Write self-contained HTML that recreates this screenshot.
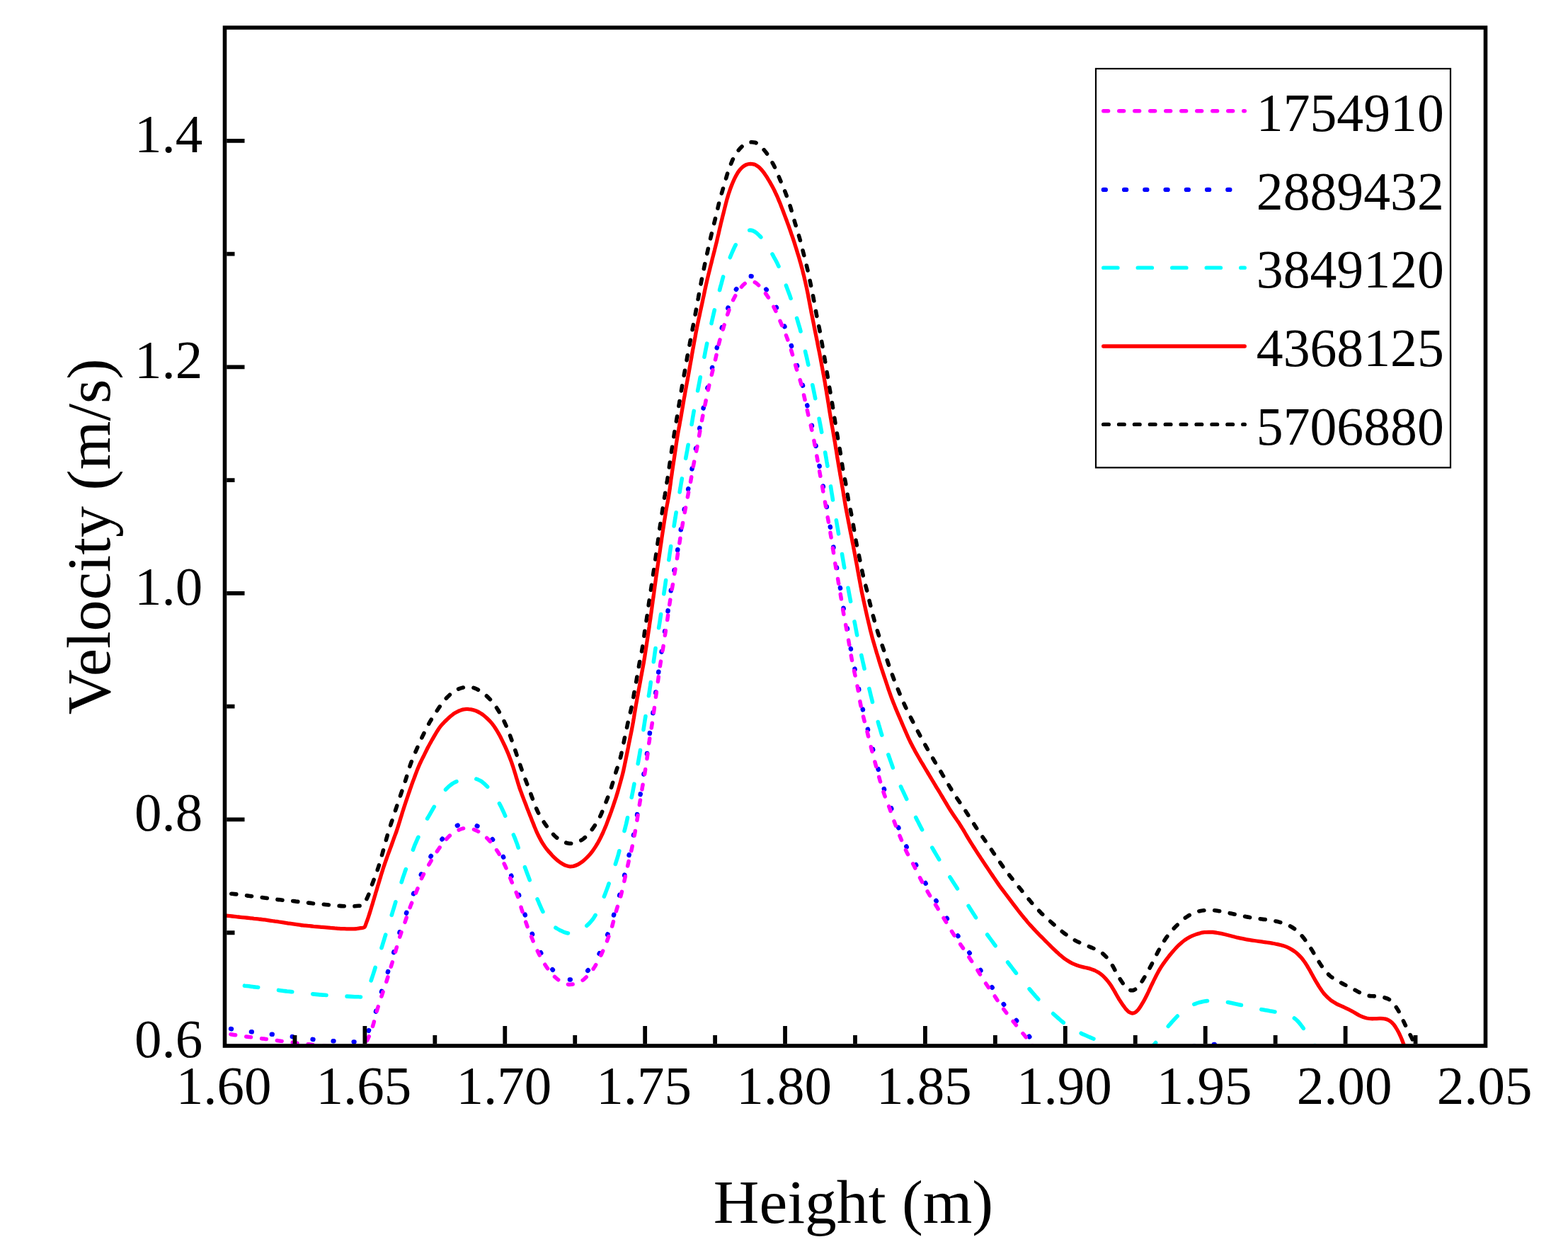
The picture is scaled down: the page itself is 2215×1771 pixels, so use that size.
<!DOCTYPE html>
<html><head><meta charset="utf-8"><title>Velocity vs Height</title>
<style>html,body{margin:0;padding:0;background:#fff;width:2215px;height:1771px;overflow:hidden}svg{display:block}</style>
</head><body>
<svg width="2215" height="1771" viewBox="0 0 2215 1771">
<rect width="2215" height="1771" fill="#fff"/>
<defs><clipPath id="pc"><rect x="317.5" y="39.0" width="1781.0" height="1438.0"/></clipPath></defs>
<g clip-path="url(#pc)" fill="none" stroke-linejoin="round">
<path d="M316.0,1261.4 C317.0,1261.5 320.0,1261.7 322.0,1261.8 C324.0,1262.0 326.0,1262.1 328.0,1262.3 C330.0,1262.5 331.9,1262.7 333.9,1262.9 C335.9,1263.2 337.9,1263.4 339.9,1263.7 C341.9,1263.9 343.8,1264.2 345.8,1264.5 C347.8,1264.7 349.8,1265.0 351.8,1265.2 C353.8,1265.5 355.7,1265.7 357.7,1266.0 C359.7,1266.2 361.7,1266.5 363.7,1266.7 C365.7,1266.9 367.7,1267.2 369.6,1267.4 C371.6,1267.7 373.6,1268.0 375.6,1268.2 C377.6,1268.5 379.5,1268.8 381.5,1269.1 C383.5,1269.3 385.5,1269.6 387.5,1269.9 C389.5,1270.1 391.4,1270.4 393.4,1270.6 C395.4,1270.9 397.4,1271.1 399.4,1271.3 C401.4,1271.5 403.4,1271.6 405.4,1271.8 C407.4,1272.0 409.3,1272.2 411.3,1272.3 C413.3,1272.5 415.3,1272.7 417.3,1272.9 C419.3,1273.2 421.3,1273.4 423.3,1273.6 C425.3,1273.9 427.2,1274.1 429.2,1274.4 C431.2,1274.6 433.2,1274.9 435.2,1275.1 C437.2,1275.3 439.1,1275.5 441.1,1275.8 C443.1,1276.0 445.1,1276.2 447.1,1276.4 C449.1,1276.6 451.1,1276.8 453.1,1276.9 C455.1,1277.1 457.1,1277.3 459.1,1277.5 C461.0,1277.7 463.0,1277.9 465.0,1278.1 C467.0,1278.3 469.0,1278.5 471.0,1278.6 C473.0,1278.8 475.0,1279.0 477.0,1279.2 C479.0,1279.3 481.0,1279.5 483.0,1279.6 C485.0,1279.7 487.0,1279.7 488.9,1279.8 C490.9,1279.9 493.0,1279.9 494.9,1279.9 C496.9,1279.9 498.9,1279.9 500.9,1279.8 C502.8,1279.7 504.8,1279.5 506.6,1279.3 C508.5,1279.1 510.5,1279.4 512.0,1278.5 C513.5,1277.6 514.5,1275.4 515.5,1273.7 C516.6,1272.1 517.6,1270.4 518.5,1268.6 C519.4,1266.9 520.1,1265.0 520.8,1263.2 C521.5,1261.3 522.1,1259.4 522.7,1257.5 C523.4,1255.6 524.0,1253.7 524.6,1251.8 C525.3,1249.9 526.0,1248.1 526.7,1246.2 C527.4,1244.3 528.1,1242.4 528.8,1240.6 C529.5,1238.7 530.2,1236.8 530.9,1235.0 C531.6,1233.1 532.3,1231.2 533.0,1229.3 C533.6,1227.4 534.3,1225.5 534.9,1223.6 C535.5,1221.7 536.0,1219.8 536.6,1217.9 C537.2,1216.0 537.7,1214.0 538.2,1212.1 C538.8,1210.2 539.3,1208.3 539.9,1206.3 C540.4,1204.4 541.0,1202.5 541.5,1200.6 C542.0,1198.6 542.5,1196.7 543.1,1194.8 C543.6,1192.9 544.1,1190.9 544.7,1189.0 C545.2,1187.1 545.7,1185.1 546.3,1183.2 C546.8,1181.3 547.3,1179.4 547.9,1177.4 C548.5,1175.5 549.1,1173.6 549.6,1171.7 C550.2,1169.8 550.9,1167.9 551.5,1166.0 C552.1,1164.1 552.7,1162.2 553.4,1160.3 C554.0,1158.4 554.6,1156.5 555.3,1154.6 C555.9,1152.7 556.5,1150.8 557.1,1148.9 C557.8,1147.0 558.4,1145.1 559.0,1143.2 C559.7,1141.3 560.3,1139.4 560.9,1137.5 C561.6,1135.6 562.2,1133.7 562.8,1131.8 C563.5,1129.9 564.1,1128.0 564.8,1126.1 C565.4,1124.2 566.0,1122.4 566.7,1120.5 C567.3,1118.6 568.0,1116.7 568.6,1114.8 C569.2,1112.9 569.9,1111.0 570.5,1109.1 C571.2,1107.2 571.8,1105.3 572.4,1103.4 C573.0,1101.5 573.6,1099.6 574.2,1097.7 C574.8,1095.8 575.3,1093.8 575.9,1091.9 C576.5,1090.0 577.0,1088.1 577.6,1086.2 C578.2,1084.3 578.8,1082.4 579.5,1080.5 C580.2,1078.6 580.9,1076.7 581.6,1074.9 C582.3,1073.0 583.1,1071.2 583.8,1069.3 C584.6,1067.5 585.4,1065.6 586.2,1063.8 C586.9,1061.9 587.7,1060.1 588.5,1058.3 C589.3,1056.4 590.1,1054.6 590.9,1052.8 C591.8,1050.9 592.6,1049.1 593.4,1047.3 C594.2,1045.5 595.1,1043.7 595.9,1041.9 C596.8,1040.0 597.6,1038.2 598.5,1036.4 C599.4,1034.6 600.3,1032.8 601.2,1031.1 C602.1,1029.3 602.9,1027.5 603.9,1025.7 C604.8,1023.9 605.8,1022.2 606.7,1020.5 C607.7,1018.7 608.8,1017.0 609.8,1015.3 C610.9,1013.6 612.0,1011.9 613.0,1010.2 C614.1,1008.6 615.2,1006.9 616.3,1005.2 C617.4,1003.5 618.5,1001.9 619.6,1000.2 C620.7,998.6 621.9,996.9 623.0,995.3 C624.2,993.6 625.3,992.0 626.6,990.5 C627.8,988.9 629.1,987.4 630.5,986.0 C631.9,984.5 633.3,983.2 634.8,981.8 C636.2,980.5 637.7,979.1 639.3,977.9 C640.8,976.7 642.4,975.6 644.1,974.6 C645.8,973.7 647.6,973.0 649.5,972.3 C651.3,971.7 653.2,971.2 655.2,970.8 C657.1,970.4 659.0,970.0 660.9,970.0 C662.8,970.0 664.7,970.1 666.5,970.5 C668.4,971.0 670.2,971.7 672.0,972.5 C673.8,973.3 675.5,974.2 677.2,975.2 C678.9,976.2 680.6,977.3 682.2,978.5 C683.7,979.7 685.3,981.0 686.8,982.3 C688.2,983.6 689.7,985.0 691.1,986.4 C692.5,987.8 693.9,989.3 695.2,990.8 C696.5,992.3 697.6,993.9 698.8,995.5 C700.0,997.1 701.0,998.8 702.1,1000.5 C703.2,1002.2 704.3,1003.8 705.3,1005.6 C706.3,1007.3 707.3,1009.0 708.2,1010.8 C709.2,1012.5 710.0,1014.3 710.9,1016.1 C711.8,1017.9 712.6,1019.8 713.4,1021.6 C714.3,1023.4 715.1,1025.2 715.9,1027.0 C716.7,1028.9 717.4,1030.7 718.2,1032.6 C718.9,1034.4 719.6,1036.3 720.3,1038.2 C721.0,1040.1 721.7,1042.0 722.3,1043.8 C723.0,1045.7 723.7,1047.6 724.4,1049.5 C725.0,1051.4 725.7,1053.3 726.3,1055.2 C727.0,1057.1 727.6,1059.0 728.2,1060.8 C728.9,1062.7 729.5,1064.6 730.1,1066.5 C730.8,1068.4 731.4,1070.3 732.0,1072.2 C732.7,1074.1 733.3,1076.0 734.0,1077.9 C734.6,1079.8 735.2,1081.7 735.9,1083.6 C736.5,1085.5 737.2,1087.4 737.8,1089.3 C738.5,1091.1 739.2,1093.0 739.9,1094.9 C740.6,1096.8 741.3,1098.6 742.0,1100.5 C742.8,1102.4 743.5,1104.2 744.2,1106.1 C744.9,1108.0 745.6,1109.8 746.3,1111.7 C747.0,1113.6 747.7,1115.5 748.4,1117.3 C749.1,1119.2 749.8,1121.1 750.4,1123.0 C751.1,1124.9 751.8,1126.7 752.5,1128.6 C753.2,1130.5 753.9,1132.4 754.6,1134.2 C755.3,1136.1 756.1,1138.0 756.8,1139.8 C757.6,1141.7 758.3,1143.5 759.2,1145.3 C760.0,1147.1 760.9,1148.9 761.9,1150.6 C762.9,1152.4 763.9,1154.1 764.9,1155.8 C766.0,1157.5 767.0,1159.2 768.1,1160.8 C769.2,1162.5 770.3,1164.2 771.5,1165.8 C772.7,1167.4 773.9,1169.0 775.1,1170.6 C776.3,1172.2 777.6,1173.7 778.9,1175.2 C780.2,1176.8 781.5,1178.3 782.8,1179.7 C784.2,1181.1 785.7,1182.4 787.2,1183.6 C788.8,1184.8 790.5,1185.8 792.2,1186.8 C793.9,1187.8 795.7,1188.7 797.5,1189.4 C799.2,1190.1 801.1,1190.8 802.9,1191.0 C804.7,1191.3 806.6,1191.3 808.5,1191.0 C810.3,1190.8 812.3,1190.3 814.1,1189.7 C815.9,1189.1 817.8,1188.4 819.5,1187.5 C821.3,1186.6 822.9,1185.6 824.4,1184.4 C826.0,1183.2 827.3,1181.8 828.7,1180.4 C830.1,1179.0 831.4,1177.5 832.7,1175.9 C834.0,1174.4 835.3,1172.9 836.5,1171.3 C837.6,1169.7 838.8,1168.0 839.9,1166.4 C841.0,1164.7 842.0,1163.0 843.1,1161.3 C844.1,1159.6 845.1,1157.9 846.1,1156.1 C847.0,1154.4 847.9,1152.6 848.8,1150.8 C849.6,1149.0 850.4,1147.1 851.1,1145.3 C851.9,1143.4 852.6,1141.6 853.3,1139.7 C854.1,1137.8 854.8,1136.0 855.5,1134.1 C856.2,1132.3 857.0,1130.4 857.7,1128.5 C858.4,1126.6 859.1,1124.8 859.8,1122.9 C860.5,1121.0 861.1,1119.1 861.8,1117.3 C862.5,1115.4 863.1,1113.5 863.7,1111.6 C864.3,1109.7 864.9,1107.8 865.5,1105.8 C866.1,1103.9 866.6,1102.0 867.2,1100.1 C867.7,1098.2 868.3,1096.2 868.9,1094.3 C869.4,1092.4 870.0,1090.5 870.6,1088.6 C871.2,1086.7 871.9,1084.8 872.5,1082.9 C873.1,1081.0 873.7,1079.1 874.3,1077.2 C874.9,1075.3 875.5,1073.4 876.0,1071.4 C876.6,1069.5 877.0,1067.6 877.5,1065.6 C877.9,1063.7 878.3,1061.7 878.8,1059.8 C879.2,1057.8 879.6,1055.9 880.0,1053.9 C880.4,1051.9 880.8,1050.0 881.2,1048.0 C881.6,1046.1 882.0,1044.1 882.4,1042.1 C882.8,1040.2 883.2,1038.2 883.7,1036.3 C884.1,1034.3 884.5,1032.4 884.9,1030.4 C885.3,1028.5 885.8,1026.5 886.2,1024.5 C886.6,1022.6 887.0,1020.6 887.5,1018.7 C887.9,1016.7 888.4,1014.8 888.9,1012.8 C889.3,1010.9 889.8,1009.0 890.2,1007.0 C890.7,1005.1 891.1,1003.1 891.6,1001.2 C892.0,999.2 892.4,997.2 892.8,995.3 C893.2,993.3 893.5,991.4 893.9,989.4 C894.3,987.4 894.6,985.5 895.0,983.5 C895.3,981.5 895.7,979.5 896.0,977.6 C896.4,975.6 896.7,973.6 897.1,971.7 C897.4,969.7 897.8,967.7 898.1,965.8 C898.5,963.8 898.9,961.8 899.2,959.9 C899.5,957.9 899.9,955.9 900.2,954.0 C900.6,952.0 900.9,950.0 901.2,948.0 C901.6,946.1 901.9,944.1 902.3,942.1 C902.6,940.2 902.9,938.2 903.3,936.2 C903.7,934.3 904.0,932.3 904.4,930.3 C904.8,928.4 905.2,926.4 905.6,924.4 C906.0,922.5 906.4,920.5 906.8,918.6 C907.1,916.6 907.5,914.6 907.8,912.7 C908.2,910.7 908.5,908.7 908.7,906.7 C909.0,904.8 909.3,902.8 909.6,900.8 C909.8,898.8 910.1,896.8 910.3,894.8 C910.6,892.9 910.9,890.9 911.2,888.9 C911.5,886.9 911.8,884.9 912.1,883.0 C912.4,881.0 912.7,879.0 913.0,877.0 C913.3,875.1 913.7,873.1 913.9,871.1 C914.2,869.1 914.5,867.2 914.8,865.2 C915.1,863.2 915.4,861.2 915.6,859.2 C915.9,857.2 916.2,855.3 916.4,853.3 C916.7,851.3 917.0,849.3 917.3,847.3 C917.5,845.4 917.8,843.4 918.1,841.4 C918.4,839.4 918.8,837.5 919.1,835.5 C919.4,833.5 919.7,831.5 920.0,829.6 C920.3,827.6 920.6,825.6 920.9,823.6 C921.2,821.6 921.5,819.7 921.8,817.7 C922.1,815.7 922.4,813.7 922.6,811.7 C922.9,809.8 923.2,807.8 923.5,805.8 C923.8,803.8 924.1,801.9 924.3,799.9 C924.6,797.9 924.9,795.9 925.2,793.9 C925.5,792.0 925.8,790.0 926.1,788.0 C926.4,786.0 926.7,784.0 926.9,782.1 C927.2,780.1 927.5,778.1 927.8,776.1 C928.1,774.1 928.4,772.2 928.6,770.2 C928.9,768.2 929.2,766.2 929.5,764.2 C929.7,762.3 930.0,760.3 930.3,758.3 C930.6,756.3 930.9,754.3 931.1,752.4 C931.4,750.4 931.7,748.4 931.9,746.4 C932.2,744.4 932.5,742.4 932.8,740.5 C933.1,738.5 933.4,736.5 933.7,734.5 C934.0,732.6 934.3,730.6 934.6,728.6 C934.9,726.6 935.2,724.6 935.5,722.7 C935.8,720.7 936.1,718.7 936.4,716.7 C936.7,714.8 937.0,712.8 937.4,710.8 C937.7,708.8 938.0,706.9 938.3,704.9 C938.6,702.9 938.9,700.9 939.3,699.0 C939.6,697.0 939.9,695.0 940.2,693.0 C940.5,691.1 940.9,689.1 941.2,687.1 C941.5,685.2 941.8,683.2 942.1,681.2 C942.5,679.2 942.8,677.3 943.1,675.3 C943.4,673.3 943.7,671.3 944.0,669.3 C944.3,667.4 944.6,665.4 944.9,663.4 C945.2,661.4 945.4,659.5 945.7,657.5 C946.0,655.5 946.3,653.5 946.6,651.5 C946.9,649.6 947.2,647.6 947.4,645.6 C947.7,643.6 948.0,641.6 948.3,639.7 C948.6,637.7 948.9,635.7 949.2,633.7 C949.5,631.7 949.8,629.8 950.1,627.8 C950.4,625.8 950.7,623.8 951.0,621.9 C951.4,619.9 951.7,617.9 952.0,615.9 C952.3,614.0 952.6,612.0 952.9,610.0 C953.3,608.0 953.6,606.1 953.9,604.1 C954.2,602.1 954.5,600.1 954.9,598.2 C955.2,596.2 955.5,594.2 955.8,592.3 C956.2,590.3 956.5,588.3 956.8,586.3 C957.1,584.4 957.4,582.4 957.8,580.4 C958.1,578.4 958.4,576.5 958.7,574.5 C959.0,572.5 959.4,570.5 959.7,568.6 C960.0,566.6 960.3,564.6 960.6,562.6 C961.0,560.7 961.3,558.7 961.6,556.7 C962.0,554.8 962.3,552.8 962.6,550.8 C963.0,548.8 963.3,546.9 963.6,544.9 C964.0,542.9 964.3,541.0 964.7,539.0 C965.0,537.0 965.4,535.0 965.7,533.1 C966.1,531.1 966.4,529.1 966.8,527.2 C967.1,525.2 967.5,523.2 967.8,521.3 C968.2,519.3 968.5,517.3 968.9,515.4 C969.2,513.4 969.6,511.4 969.9,509.4 C970.3,507.5 970.6,505.5 970.9,503.5 C971.3,501.6 971.7,499.6 972.0,497.6 C972.4,495.7 972.8,493.7 973.1,491.7 C973.5,489.8 973.9,487.8 974.3,485.8 C974.6,483.9 975.0,481.9 975.4,479.9 C975.8,478.0 976.1,476.0 976.5,474.1 C976.9,472.1 977.2,470.1 977.6,468.2 C978.0,466.2 978.3,464.2 978.7,462.3 C979.1,460.3 979.5,458.3 979.8,456.4 C980.2,454.4 980.6,452.4 980.9,450.5 C981.3,448.5 981.7,446.5 982.1,444.6 C982.4,442.6 982.8,440.6 983.2,438.7 C983.5,436.7 983.9,434.7 984.2,432.8 C984.6,430.8 985.0,428.8 985.3,426.9 C985.7,424.9 986.0,422.9 986.4,421.0 C986.7,419.0 987.1,417.0 987.4,415.1 C987.8,413.1 988.1,411.1 988.5,409.2 C988.9,407.2 989.2,405.2 989.6,403.3 C990.0,401.3 990.4,399.3 990.7,397.4 C991.1,395.4 991.5,393.4 991.9,391.5 C992.3,389.5 992.7,387.6 993.1,385.6 C993.5,383.6 993.9,381.7 994.3,379.7 C994.7,377.8 995.1,375.8 995.5,373.8 C995.9,371.9 996.4,369.9 996.8,368.0 C997.2,366.0 997.6,364.1 998.0,362.1 C998.4,360.2 998.8,358.2 999.3,356.2 C999.7,354.3 1000.1,352.3 1000.5,350.4 C1000.9,348.4 1001.4,346.5 1001.8,344.5 C1002.3,342.6 1002.7,340.6 1003.2,338.7 C1003.6,336.7 1004.1,334.8 1004.6,332.8 C1005.0,330.9 1005.5,328.9 1006.0,327.0 C1006.4,325.1 1006.9,323.1 1007.4,321.2 C1007.9,319.2 1008.3,317.3 1008.8,315.3 C1009.3,313.4 1009.8,311.5 1010.3,309.5 C1010.7,307.6 1011.2,305.6 1011.7,303.7 C1012.1,301.7 1012.6,299.8 1013.1,297.9 C1013.5,295.9 1014.0,294.0 1014.4,292.0 C1014.9,290.1 1015.3,288.1 1015.8,286.2 C1016.3,284.2 1016.8,282.3 1017.3,280.4 C1017.9,278.4 1018.4,276.5 1019.0,274.6 C1019.5,272.7 1020.1,270.8 1020.7,268.8 C1021.2,266.9 1021.8,265.0 1022.4,263.1 C1022.9,261.2 1023.5,259.3 1024.0,257.3 C1024.6,255.4 1025.1,253.5 1025.7,251.6 C1026.3,249.6 1026.8,247.7 1027.4,245.8 C1028.0,243.9 1028.6,242.0 1029.2,240.1 C1029.9,238.2 1030.6,236.4 1031.3,234.5 C1032.0,232.6 1032.8,230.8 1033.6,228.9 C1034.3,227.1 1035.1,225.3 1036.0,223.5 C1036.9,221.7 1037.8,220.0 1038.9,218.3 C1039.9,216.6 1041.1,215.0 1042.3,213.4 C1043.5,211.9 1044.8,210.3 1046.1,208.9 C1047.5,207.5 1048.9,206.1 1050.4,204.9 C1051.9,203.8 1053.6,202.8 1055.4,202.2 C1057.1,201.5 1059.1,201.0 1060.9,200.8 C1062.7,200.7 1064.6,200.8 1066.4,201.3 C1068.1,201.8 1069.7,202.7 1071.3,203.7 C1072.8,204.8 1074.2,206.2 1075.6,207.6 C1076.9,209.0 1078.3,210.5 1079.5,212.0 C1080.8,213.5 1082.1,215.1 1083.2,216.7 C1084.4,218.3 1085.4,220.0 1086.5,221.7 C1087.5,223.4 1088.5,225.1 1089.5,226.9 C1090.5,228.6 1091.4,230.4 1092.4,232.2 C1093.3,233.9 1094.2,235.7 1095.0,237.5 C1095.8,239.3 1096.6,241.2 1097.4,243.0 C1098.2,244.8 1099.0,246.7 1099.8,248.5 C1100.5,250.4 1101.3,252.2 1102.1,254.1 C1102.9,255.9 1103.6,257.8 1104.4,259.6 C1105.2,261.4 1106.0,263.3 1106.7,265.1 C1107.5,267.0 1108.3,268.8 1109.0,270.7 C1109.7,272.5 1110.5,274.4 1111.1,276.3 C1111.8,278.2 1112.5,280.1 1113.1,281.9 C1113.8,283.8 1114.4,285.7 1115.0,287.6 C1115.7,289.5 1116.3,291.4 1116.9,293.3 C1117.5,295.3 1118.0,297.2 1118.6,299.1 C1119.2,301.0 1119.7,302.9 1120.3,304.9 C1120.8,306.8 1121.3,308.7 1121.9,310.6 C1122.4,312.6 1123.0,314.5 1123.5,316.4 C1124.1,318.3 1124.7,320.2 1125.2,322.1 C1125.8,324.1 1126.4,326.0 1127.0,327.9 C1127.6,329.8 1128.2,331.7 1128.7,333.6 C1129.3,335.5 1129.8,337.5 1130.4,339.4 C1130.9,341.3 1131.4,343.3 1131.9,345.2 C1132.4,347.1 1132.9,349.1 1133.4,351.0 C1133.9,353.0 1134.3,354.9 1134.8,356.8 C1135.3,358.8 1135.8,360.7 1136.3,362.7 C1136.8,364.6 1137.3,366.5 1137.8,368.5 C1138.2,370.4 1138.7,372.4 1139.2,374.3 C1139.7,376.2 1140.1,378.2 1140.6,380.1 C1141.1,382.1 1141.5,384.0 1141.9,386.0 C1142.4,387.9 1142.8,389.9 1143.2,391.8 C1143.6,393.8 1144.0,395.8 1144.4,397.7 C1144.8,399.7 1145.2,401.6 1145.6,403.6 C1146.0,405.6 1146.4,407.5 1146.8,409.5 C1147.2,411.4 1147.6,413.4 1148.0,415.4 C1148.4,417.3 1148.8,419.3 1149.1,421.3 C1149.5,423.2 1149.9,425.2 1150.2,427.1 C1150.6,429.1 1151.0,431.1 1151.3,433.0 C1151.7,435.0 1152.0,437.0 1152.4,439.0 C1152.8,440.9 1153.1,442.9 1153.5,444.8 C1153.9,446.8 1154.3,448.8 1154.7,450.7 C1155.1,452.7 1155.5,454.6 1155.9,456.6 C1156.3,458.6 1156.7,460.5 1157.1,462.5 C1157.5,464.4 1157.9,466.4 1158.3,468.4 C1158.6,470.3 1159.0,472.3 1159.3,474.3 C1159.7,476.2 1160.0,478.2 1160.3,480.2 C1160.7,482.2 1161.0,484.1 1161.4,486.1 C1161.7,488.1 1162.0,490.0 1162.4,492.0 C1162.7,494.0 1163.1,495.9 1163.4,497.9 C1163.8,499.9 1164.1,501.9 1164.5,503.8 C1164.8,505.8 1165.2,507.8 1165.5,509.7 C1165.9,511.7 1166.2,513.7 1166.5,515.7 C1166.8,517.6 1167.1,519.6 1167.5,521.6 C1167.8,523.5 1168.1,525.5 1168.4,527.5 C1168.7,529.5 1169.1,531.4 1169.4,533.4 C1169.7,535.4 1170.0,537.4 1170.4,539.3 C1170.7,541.3 1171.0,543.3 1171.4,545.3 C1171.7,547.2 1172.0,549.2 1172.4,551.2 C1172.7,553.1 1173.1,555.1 1173.4,557.1 C1173.7,559.1 1174.1,561.0 1174.4,563.0 C1174.8,565.0 1175.1,566.9 1175.4,568.9 C1175.8,570.9 1176.1,572.9 1176.4,574.8 C1176.8,576.8 1177.1,578.8 1177.4,580.7 C1177.7,582.7 1178.0,584.7 1178.3,586.7 C1178.6,588.7 1178.9,590.6 1179.2,592.6 C1179.5,594.6 1179.8,596.6 1180.1,598.5 C1180.4,600.5 1180.8,602.5 1181.1,604.5 C1181.4,606.4 1181.7,608.4 1182.1,610.4 C1182.4,612.4 1182.7,614.3 1183.1,616.3 C1183.4,618.3 1183.7,620.2 1184.1,622.2 C1184.4,624.2 1184.8,626.1 1185.1,628.1 C1185.5,630.1 1185.8,632.1 1186.2,634.0 C1186.5,636.0 1186.9,638.0 1187.2,639.9 C1187.5,641.9 1187.8,643.9 1188.1,645.9 C1188.4,647.8 1188.7,649.8 1189.0,651.8 C1189.3,653.8 1189.6,655.8 1189.9,657.7 C1190.2,659.7 1190.5,661.7 1190.9,663.6 C1191.3,665.6 1191.6,667.6 1192.0,669.5 C1192.4,671.5 1192.8,673.5 1193.2,675.4 C1193.6,677.4 1194.0,679.3 1194.4,681.3 C1194.7,683.3 1195.1,685.2 1195.4,687.2 C1195.8,689.2 1196.1,691.2 1196.4,693.1 C1196.7,695.1 1197.0,697.1 1197.3,699.1 C1197.6,701.0 1198.0,703.0 1198.3,705.0 C1198.7,706.9 1199.1,708.9 1199.5,710.9 C1199.8,712.8 1200.3,714.8 1200.7,716.7 C1201.1,718.7 1201.5,720.6 1201.9,722.6 C1202.3,724.6 1202.7,726.5 1203.0,728.5 C1203.4,730.5 1203.8,732.4 1204.1,734.4 C1204.5,736.4 1204.8,738.3 1205.2,740.3 C1205.5,742.3 1205.8,744.2 1206.2,746.2 C1206.5,748.2 1206.9,750.2 1207.2,752.1 C1207.5,754.1 1207.9,756.1 1208.2,758.0 C1208.5,760.0 1208.9,762.0 1209.2,764.0 C1209.6,765.9 1209.9,767.9 1210.3,769.9 C1210.7,771.8 1211.1,773.8 1211.5,775.7 C1211.9,777.7 1212.3,779.7 1212.7,781.6 C1213.2,783.6 1213.6,785.5 1214.0,787.5 C1214.4,789.4 1214.8,791.4 1215.2,793.3 C1215.6,795.3 1216.0,797.3 1216.4,799.2 C1216.8,801.2 1217.2,803.1 1217.6,805.1 C1218.0,807.1 1218.4,809.0 1218.8,811.0 C1219.3,812.9 1219.7,814.9 1220.2,816.8 C1220.6,818.8 1221.2,820.7 1221.7,822.6 C1222.1,824.6 1222.7,826.5 1223.2,828.4 C1223.7,830.4 1224.2,832.3 1224.7,834.2 C1225.1,836.2 1225.6,838.1 1226.1,840.1 C1226.6,842.0 1227.0,844.0 1227.5,845.9 C1227.9,847.9 1228.4,849.8 1228.8,851.8 C1229.3,853.7 1229.8,855.6 1230.3,857.6 C1230.7,859.5 1231.2,861.5 1231.7,863.4 C1232.2,865.3 1232.7,867.3 1233.2,869.2 C1233.7,871.1 1234.3,873.1 1234.8,875.0 C1235.3,876.9 1235.9,878.9 1236.4,880.8 C1237.0,882.7 1237.5,884.6 1238.1,886.5 C1238.7,888.5 1239.2,890.4 1239.8,892.3 C1240.4,894.2 1241.0,896.1 1241.6,898.0 C1242.2,899.9 1242.9,901.8 1243.5,903.7 C1244.2,905.6 1244.8,907.5 1245.5,909.4 C1246.1,911.3 1246.8,913.1 1247.4,915.0 C1248.1,916.9 1248.7,918.8 1249.4,920.7 C1250.0,922.6 1250.6,924.5 1251.2,926.4 C1251.9,928.3 1252.5,930.2 1253.1,932.1 C1253.8,934.0 1254.4,935.9 1255.0,937.8 C1255.7,939.7 1256.3,941.6 1257.0,943.5 C1257.7,945.4 1258.3,947.2 1259.0,949.1 C1259.7,951.0 1260.4,952.9 1261.1,954.8 C1261.8,956.6 1262.4,958.5 1263.2,960.4 C1263.9,962.2 1264.6,964.1 1265.3,966.0 C1266.1,967.8 1266.8,969.7 1267.6,971.5 C1268.4,973.4 1269.1,975.2 1269.9,977.1 C1270.7,978.9 1271.4,980.8 1272.2,982.6 C1273.0,984.4 1273.8,986.3 1274.6,988.1 C1275.4,989.9 1276.2,991.8 1277.0,993.6 C1277.8,995.4 1278.6,997.3 1279.5,999.1 C1280.3,1000.9 1281.2,1002.7 1282.1,1004.5 C1282.9,1006.3 1283.8,1008.1 1284.7,1009.9 C1285.6,1011.6 1286.6,1013.4 1287.5,1015.2 C1288.4,1017.0 1289.3,1018.8 1290.2,1020.5 C1291.1,1022.3 1292.0,1024.1 1293.0,1025.9 C1293.9,1027.6 1294.8,1029.4 1295.7,1031.2 C1296.6,1033.0 1297.5,1034.8 1298.5,1036.5 C1299.4,1038.3 1300.3,1040.1 1301.3,1041.8 C1302.2,1043.6 1303.2,1045.3 1304.2,1047.1 C1305.1,1048.8 1306.1,1050.6 1307.1,1052.3 C1308.0,1054.1 1309.0,1055.8 1310.0,1057.6 C1311.0,1059.3 1312.0,1061.0 1313.0,1062.8 C1314.0,1064.5 1315.0,1066.2 1316.0,1068.0 C1317.0,1069.7 1318.0,1071.4 1319.0,1073.1 C1320.0,1074.9 1321.0,1076.6 1322.1,1078.3 C1323.1,1080.0 1324.1,1081.8 1325.1,1083.5 C1326.2,1085.2 1327.2,1086.9 1328.2,1088.6 C1329.2,1090.3 1330.3,1092.0 1331.3,1093.8 C1332.3,1095.5 1333.4,1097.2 1334.4,1098.9 C1335.4,1100.6 1336.5,1102.3 1337.5,1104.1 C1338.5,1105.8 1339.5,1107.5 1340.5,1109.2 C1341.6,1110.9 1342.6,1112.7 1343.6,1114.4 C1344.6,1116.1 1345.7,1117.8 1346.7,1119.5 C1347.8,1121.2 1348.8,1122.9 1349.9,1124.6 C1351.0,1126.2 1352.2,1127.9 1353.3,1129.5 C1354.4,1131.2 1355.6,1132.8 1356.7,1134.5 C1357.9,1136.1 1359.0,1137.7 1360.1,1139.4 C1361.2,1141.1 1362.3,1142.7 1363.4,1144.4 C1364.5,1146.1 1365.6,1147.8 1366.7,1149.5 C1367.7,1151.1 1368.8,1152.8 1369.9,1154.5 C1370.9,1156.2 1372.0,1157.9 1373.1,1159.6 C1374.2,1161.3 1375.2,1162.9 1376.3,1164.6 C1377.4,1166.3 1378.5,1168.0 1379.6,1169.7 C1380.7,1171.3 1381.8,1173.0 1382.9,1174.7 C1384.0,1176.3 1385.2,1178.0 1386.3,1179.6 C1387.4,1181.3 1388.6,1182.9 1389.7,1184.5 C1390.9,1186.2 1392.0,1187.8 1393.2,1189.4 C1394.3,1191.1 1395.5,1192.7 1396.6,1194.4 C1397.7,1196.0 1398.8,1197.7 1400.0,1199.3 C1401.1,1201.0 1402.2,1202.6 1403.3,1204.3 C1404.5,1206.0 1405.6,1207.6 1406.7,1209.3 C1407.8,1210.9 1409.0,1212.6 1410.1,1214.2 C1411.2,1215.9 1412.4,1217.5 1413.5,1219.2 C1414.6,1220.8 1415.8,1222.5 1416.9,1224.1 C1418.1,1225.7 1419.3,1227.3 1420.5,1228.9 C1421.6,1230.5 1422.9,1232.1 1424.1,1233.7 C1425.3,1235.3 1426.5,1236.9 1427.8,1238.5 C1429.0,1240.0 1430.2,1241.6 1431.5,1243.2 C1432.7,1244.7 1434.0,1246.3 1435.2,1247.8 C1436.5,1249.4 1437.8,1250.9 1439.0,1252.5 C1440.3,1254.0 1441.6,1255.6 1442.8,1257.1 C1444.1,1258.7 1445.4,1260.2 1446.6,1261.8 C1447.9,1263.3 1449.1,1264.9 1450.4,1266.5 C1451.6,1268.0 1452.9,1269.6 1454.2,1271.1 C1455.4,1272.6 1456.7,1274.2 1458.1,1275.7 C1459.4,1277.2 1460.7,1278.7 1462.1,1280.1 C1463.4,1281.6 1464.8,1283.1 1466.1,1284.5 C1467.5,1286.0 1468.9,1287.4 1470.3,1288.9 C1471.7,1290.3 1473.1,1291.7 1474.6,1293.0 C1476.0,1294.4 1477.5,1295.7 1479.0,1297.1 C1480.5,1298.4 1482.0,1299.8 1483.5,1301.1 C1485.0,1302.4 1486.5,1303.7 1488.0,1305.1 C1489.5,1306.4 1491.0,1307.7 1492.5,1309.0 C1494.0,1310.3 1495.5,1311.6 1497.0,1312.9 C1498.6,1314.2 1500.1,1315.5 1501.7,1316.7 C1503.3,1317.9 1504.9,1319.1 1506.5,1320.3 C1508.1,1321.4 1509.8,1322.6 1511.4,1323.7 C1513.1,1324.8 1514.8,1325.8 1516.5,1326.8 C1518.2,1327.8 1520.0,1328.8 1521.8,1329.7 C1523.5,1330.5 1525.4,1331.3 1527.2,1332.1 C1529.0,1332.9 1530.9,1333.7 1532.7,1334.4 C1534.6,1335.2 1536.5,1335.9 1538.3,1336.7 C1540.2,1337.5 1542.0,1338.2 1543.8,1339.0 C1545.7,1339.8 1547.5,1340.5 1549.3,1341.4 C1551.1,1342.3 1552.8,1343.2 1554.4,1344.3 C1556.1,1345.4 1557.6,1346.6 1559.1,1347.9 C1560.5,1349.2 1562.0,1350.7 1563.3,1352.1 C1564.7,1353.6 1566.0,1355.1 1567.1,1356.6 C1568.3,1358.2 1569.4,1359.9 1570.4,1361.6 C1571.4,1363.3 1572.3,1365.1 1573.3,1366.8 C1574.2,1368.6 1575.1,1370.4 1576.1,1372.1 C1577.0,1373.9 1578.0,1375.6 1579.0,1377.4 C1580.0,1379.1 1581.1,1380.8 1582.1,1382.5 C1583.2,1384.2 1584.3,1385.9 1585.4,1387.5 C1586.5,1389.1 1587.6,1390.8 1588.9,1392.3 C1590.1,1393.8 1591.4,1395.3 1592.9,1396.4 C1594.3,1397.4 1595.8,1398.4 1597.4,1398.6 C1598.9,1398.9 1600.6,1398.7 1602.1,1398.1 C1603.6,1397.4 1605.1,1396.2 1606.5,1395.0 C1607.8,1393.7 1609.0,1392.1 1610.2,1390.5 C1611.3,1388.9 1612.4,1387.2 1613.5,1385.5 C1614.5,1383.8 1615.6,1382.1 1616.6,1380.4 C1617.6,1378.7 1618.6,1376.9 1619.6,1375.2 C1620.6,1373.5 1621.6,1371.7 1622.5,1370.0 C1623.5,1368.2 1624.4,1366.5 1625.4,1364.7 C1626.3,1362.9 1627.2,1361.2 1628.2,1359.4 C1629.1,1357.6 1629.9,1355.8 1630.8,1354.0 C1631.7,1352.2 1632.6,1350.4 1633.5,1348.6 C1634.4,1346.8 1635.3,1345.1 1636.2,1343.3 C1637.2,1341.5 1638.1,1339.8 1639.1,1338.0 C1640.1,1336.3 1641.0,1334.5 1642.0,1332.8 C1643.1,1331.1 1644.1,1329.4 1645.2,1327.7 C1646.3,1326.0 1647.4,1324.4 1648.6,1322.8 C1649.8,1321.2 1651.0,1319.7 1652.3,1318.1 C1653.6,1316.6 1654.9,1315.0 1656.2,1313.5 C1657.5,1312.0 1658.8,1310.6 1660.2,1309.1 C1661.6,1307.7 1663.0,1306.3 1664.5,1304.9 C1665.9,1303.5 1667.4,1302.2 1668.9,1300.8 C1670.4,1299.5 1671.9,1298.2 1673.4,1297.0 C1675.0,1295.8 1676.6,1294.7 1678.3,1293.6 C1680.0,1292.6 1681.8,1291.7 1683.6,1290.8 C1685.3,1289.9 1687.2,1289.1 1689.0,1288.4 C1690.9,1287.7 1692.7,1287.2 1694.7,1286.7 C1696.6,1286.3 1698.5,1286.0 1700.5,1285.8 C1702.5,1285.6 1704.5,1285.5 1706.5,1285.4 C1708.4,1285.4 1710.4,1285.4 1712.4,1285.4 C1714.4,1285.5 1716.4,1285.8 1718.4,1286.0 C1720.3,1286.3 1722.3,1286.7 1724.3,1287.0 C1726.2,1287.4 1728.2,1287.8 1730.1,1288.2 C1732.1,1288.6 1734.1,1289.0 1736.0,1289.4 C1738.0,1289.8 1739.9,1290.3 1741.9,1290.7 C1743.8,1291.2 1745.8,1291.6 1747.7,1292.0 C1749.7,1292.5 1751.6,1292.9 1753.6,1293.3 C1755.5,1293.7 1757.5,1294.1 1759.5,1294.5 C1761.4,1294.9 1763.4,1295.3 1765.3,1295.6 C1767.3,1296.0 1769.3,1296.3 1771.3,1296.6 C1773.2,1296.9 1775.2,1297.1 1777.2,1297.3 C1779.2,1297.6 1781.2,1297.8 1783.2,1298.1 C1785.2,1298.3 1787.1,1298.6 1789.1,1298.8 C1791.1,1299.1 1793.1,1299.4 1795.0,1299.8 C1797.0,1300.1 1799.0,1300.4 1800.9,1300.8 C1802.9,1301.2 1804.9,1301.6 1806.8,1302.1 C1808.7,1302.6 1810.6,1303.2 1812.5,1303.8 C1814.4,1304.5 1816.3,1305.2 1818.1,1305.9 C1819.9,1306.7 1821.7,1307.5 1823.5,1308.5 C1825.2,1309.4 1826.8,1310.5 1828.4,1311.6 C1830.0,1312.8 1831.5,1314.2 1832.9,1315.5 C1834.4,1316.8 1835.8,1318.2 1837.2,1319.7 C1838.5,1321.1 1839.9,1322.6 1841.1,1324.2 C1842.4,1325.7 1843.6,1327.3 1844.7,1328.9 C1845.9,1330.5 1847.0,1332.2 1848.1,1333.9 C1849.2,1335.5 1850.3,1337.2 1851.4,1338.9 C1852.5,1340.6 1853.6,1342.2 1854.6,1344.0 C1855.6,1345.7 1856.6,1347.4 1857.7,1349.1 C1858.7,1350.8 1859.6,1352.6 1860.7,1354.3 C1861.7,1356.0 1862.7,1357.7 1863.8,1359.4 C1864.8,1361.1 1866.0,1362.7 1867.1,1364.4 C1868.3,1366.0 1869.5,1367.6 1870.8,1369.1 C1872.0,1370.7 1873.2,1372.3 1874.5,1373.8 C1875.8,1375.2 1877.2,1376.7 1878.6,1378.0 C1880.1,1379.3 1881.7,1380.5 1883.3,1381.6 C1885.0,1382.7 1886.7,1383.7 1888.4,1384.7 C1890.1,1385.7 1891.9,1386.6 1893.7,1387.6 C1895.4,1388.5 1897.2,1389.5 1899.0,1390.4 C1900.7,1391.3 1902.5,1392.2 1904.3,1393.1 C1906.1,1394.0 1907.9,1394.9 1909.7,1395.8 C1911.4,1396.8 1913.2,1397.7 1915.0,1398.6 C1916.7,1399.6 1918.5,1400.6 1920.2,1401.5 C1922.0,1402.4 1923.7,1403.4 1925.6,1404.1 C1927.4,1404.8 1929.2,1405.5 1931.1,1405.9 C1933.0,1406.3 1934.9,1406.5 1936.9,1406.7 C1938.8,1406.8 1940.9,1406.8 1942.8,1407.0 C1944.8,1407.1 1946.8,1407.3 1948.8,1407.5 C1950.7,1407.8 1952.7,1408.2 1954.6,1408.6 C1956.5,1409.1 1958.4,1409.6 1960.1,1410.4 C1961.8,1411.2 1963.4,1412.1 1964.9,1413.3 C1966.3,1414.5 1967.6,1416.0 1968.8,1417.5 C1970.0,1419.0 1971.1,1420.7 1972.2,1422.4 C1973.3,1424.0 1974.4,1425.7 1975.4,1427.4 C1976.3,1429.2 1977.2,1431.0 1978.1,1432.7 C1979.0,1434.5 1979.9,1436.3 1980.7,1438.2 C1981.6,1440.0 1982.4,1441.8 1983.2,1443.6 C1984.1,1445.4 1984.9,1447.2 1985.8,1449.0 C1986.7,1450.8 1987.6,1452.6 1988.5,1454.4 C1989.4,1456.2 1990.3,1457.9 1991.2,1459.7 C1992.1,1461.5 1993.0,1463.3 1993.9,1465.1 C1994.8,1466.9 1995.7,1468.7 1996.5,1470.5 C1997.4,1472.3 1998.2,1474.1 1999.1,1475.9 C1999.9,1477.7 2000.7,1479.6 2001.5,1481.4 C2002.3,1483.2 2003.1,1485.0 2003.8,1486.8 C2004.6,1488.5 2005.6,1491.1 2006.0,1492.0" stroke="#000" stroke-width="5.6" stroke-dasharray="7.1 14.8" stroke-dashoffset="11.1" stroke-linecap="round"/>
<path d="M316.0,1292.8 C317.0,1292.9 320.0,1293.2 322.0,1293.4 C324.0,1293.6 325.9,1293.8 327.9,1294.0 C329.9,1294.2 331.9,1294.4 333.9,1294.7 C335.9,1294.9 337.9,1295.1 339.9,1295.3 C341.9,1295.5 343.7,1295.7 345.8,1295.9 C348.0,1296.1 350.6,1296.4 352.8,1296.6 C355.0,1296.9 356.8,1297.0 358.8,1297.3 C360.8,1297.5 362.7,1297.7 364.7,1297.9 C366.7,1298.1 368.7,1298.4 370.7,1298.6 C372.7,1298.9 374.7,1299.1 376.6,1299.4 C378.6,1299.7 380.6,1300.0 382.6,1300.3 C384.6,1300.6 386.5,1300.9 388.5,1301.2 C390.5,1301.4 392.5,1301.7 394.4,1302.0 C396.4,1302.3 398.4,1302.6 400.4,1302.9 C402.4,1303.2 404.3,1303.5 406.3,1303.8 C408.3,1304.1 410.1,1304.4 412.2,1304.7 C414.4,1305.0 417.0,1305.4 419.2,1305.7 C421.3,1306.0 423.1,1306.3 425.1,1306.5 C427.1,1306.7 429.1,1307.0 431.1,1307.2 C433.1,1307.4 435.1,1307.5 437.0,1307.7 C439.0,1307.9 441.0,1308.1 443.0,1308.3 C445.0,1308.4 447.0,1308.6 449.0,1308.8 C451.0,1309.0 453.0,1309.1 455.0,1309.3 C457.0,1309.5 459.0,1309.7 461.0,1309.8 C462.9,1310.0 464.9,1310.2 466.9,1310.4 C468.9,1310.5 470.9,1310.7 472.9,1310.9 C474.9,1311.0 476.7,1311.2 478.9,1311.3 C481.1,1311.5 483.7,1311.6 485.9,1311.7 C488.0,1311.8 489.9,1311.9 491.9,1311.9 C493.9,1311.9 495.9,1311.9 497.9,1311.9 C499.8,1311.8 501.9,1311.8 503.8,1311.6 C505.7,1311.4 507.7,1311.1 509.5,1310.7 C511.3,1310.4 513.5,1310.6 514.8,1309.5 C516.1,1308.4 516.4,1305.9 517.2,1304.0 C517.9,1302.2 518.6,1300.3 519.3,1298.4 C520.0,1296.6 520.6,1294.7 521.2,1292.8 C521.8,1290.9 522.4,1288.9 523.0,1287.0 C523.6,1285.1 524.2,1283.2 524.7,1281.3 C525.3,1279.4 525.9,1277.5 526.5,1275.5 C527.0,1273.6 527.6,1271.7 528.2,1269.8 C528.7,1267.9 529.3,1265.9 529.9,1264.0 C530.4,1262.1 531.0,1260.2 531.6,1258.3 C532.2,1256.4 532.7,1254.5 533.3,1252.5 C533.9,1250.6 534.5,1248.7 535.1,1246.8 C535.6,1244.9 536.2,1243.0 536.8,1241.0 C537.4,1239.1 537.9,1237.2 538.5,1235.3 C539.1,1233.4 539.7,1231.5 540.3,1229.6 C540.9,1227.7 541.5,1225.8 542.1,1223.9 C542.8,1222.0 543.4,1220.1 544.1,1218.2 C544.7,1216.3 545.4,1214.4 546.1,1212.5 C546.7,1210.6 547.4,1208.8 548.1,1206.9 C548.8,1205.0 549.5,1203.1 550.2,1201.3 C550.9,1199.4 551.6,1197.5 552.3,1195.6 C553.0,1193.8 553.6,1191.9 554.3,1190.0 C555.0,1188.1 555.7,1186.2 556.3,1184.3 C557.0,1182.5 557.7,1180.6 558.4,1178.7 C559.1,1176.8 559.8,1175.0 560.4,1173.1 C561.1,1171.2 561.7,1169.3 562.3,1167.4 C562.9,1165.5 563.5,1163.6 564.1,1161.6 C564.7,1159.7 565.2,1157.8 565.8,1155.9 C566.4,1154.0 567.0,1152.1 567.6,1150.2 C568.2,1148.3 568.7,1146.3 569.4,1144.4 C570.0,1142.5 570.6,1140.6 571.2,1138.7 C571.8,1136.8 572.5,1134.9 573.1,1133.0 C573.7,1131.1 574.4,1129.2 575.0,1127.4 C575.7,1125.5 576.3,1123.6 576.9,1121.7 C577.6,1119.8 578.2,1117.9 578.9,1116.0 C579.5,1114.1 580.2,1112.2 580.9,1110.3 C581.5,1108.4 582.2,1106.6 582.9,1104.7 C583.6,1102.8 584.3,1100.9 585.0,1099.1 C585.7,1097.2 586.4,1095.3 587.1,1093.4 C587.8,1091.6 588.5,1089.7 589.2,1087.8 C589.9,1086.0 590.7,1084.1 591.5,1082.3 C592.3,1080.4 593.1,1078.6 594.0,1076.8 C594.8,1075.0 595.7,1073.2 596.6,1071.4 C597.5,1069.6 598.4,1067.9 599.3,1066.1 C600.2,1064.3 601.0,1062.5 601.9,1060.7 C602.8,1058.9 603.7,1057.1 604.6,1055.3 C605.6,1053.6 606.5,1051.8 607.5,1050.0 C608.4,1048.3 609.4,1046.6 610.4,1044.8 C611.4,1043.1 612.4,1041.4 613.4,1039.6 C614.4,1037.9 615.4,1036.2 616.4,1034.5 C617.5,1032.8 618.5,1031.0 619.6,1029.4 C620.7,1027.8 621.9,1026.2 623.2,1024.6 C624.4,1023.1 625.8,1021.7 627.2,1020.3 C628.6,1018.8 630.0,1017.5 631.5,1016.1 C632.9,1014.7 634.4,1013.3 635.9,1012.0 C637.4,1010.7 638.9,1009.5 640.5,1008.3 C642.1,1007.2 643.8,1006.2 645.6,1005.3 C647.3,1004.4 649.1,1003.6 651.0,1003.0 C652.8,1002.3 654.7,1001.9 656.6,1001.7 C658.6,1001.4 660.5,1001.4 662.5,1001.6 C664.4,1001.7 666.4,1002.1 668.3,1002.6 C670.1,1003.1 672.0,1003.7 673.8,1004.5 C675.6,1005.3 677.3,1006.3 679.0,1007.4 C680.7,1008.4 682.3,1009.6 683.8,1010.8 C685.4,1012.1 686.9,1013.4 688.3,1014.7 C689.8,1016.1 691.2,1017.5 692.6,1019.0 C693.9,1020.4 695.2,1022.0 696.4,1023.6 C697.6,1025.1 698.7,1026.8 699.8,1028.5 C700.9,1030.1 701.9,1031.8 702.9,1033.5 C703.9,1035.3 704.9,1037.0 705.9,1038.8 C706.8,1040.5 707.7,1042.3 708.6,1044.1 C709.5,1045.9 710.4,1047.7 711.2,1049.5 C712.1,1051.3 713.0,1053.1 713.8,1054.9 C714.6,1056.7 715.4,1058.6 716.2,1060.4 C717.0,1062.2 717.8,1064.1 718.5,1065.9 C719.3,1067.8 720.0,1069.7 720.7,1071.5 C721.4,1073.4 722.1,1075.3 722.8,1077.2 C723.4,1079.0 724.1,1080.9 724.7,1082.8 C725.3,1084.7 725.9,1086.6 726.5,1088.5 C727.1,1090.5 727.7,1092.4 728.3,1094.3 C728.9,1096.2 729.4,1098.1 730.0,1100.0 C730.6,1101.9 731.2,1103.9 731.7,1105.8 C732.3,1107.7 732.9,1109.6 733.5,1111.5 C734.2,1113.4 734.8,1115.3 735.5,1117.2 C736.2,1119.0 736.9,1120.9 737.6,1122.8 C738.3,1124.7 739.0,1126.5 739.7,1128.4 C740.4,1130.3 741.2,1132.1 741.9,1134.0 C742.6,1135.9 743.3,1137.7 744.0,1139.6 C744.7,1141.5 745.5,1143.3 746.2,1145.2 C746.9,1147.1 747.7,1148.9 748.4,1150.8 C749.1,1152.6 749.9,1154.5 750.6,1156.4 C751.3,1158.2 752.1,1160.1 752.8,1161.9 C753.6,1163.8 754.3,1165.6 755.0,1167.5 C755.8,1169.3 756.6,1171.2 757.3,1173.0 C758.1,1174.9 759.0,1176.7 759.8,1178.5 C760.7,1180.3 761.6,1182.1 762.5,1183.8 C763.4,1185.6 764.4,1187.4 765.4,1189.1 C766.4,1190.8 767.5,1192.5 768.6,1194.1 C769.7,1195.8 770.9,1197.4 772.1,1199.0 C773.4,1200.5 774.6,1202.1 776.0,1203.6 C777.3,1205.1 778.6,1206.5 780.0,1208.0 C781.4,1209.4 782.8,1210.8 784.3,1212.2 C785.7,1213.5 787.2,1214.8 788.8,1216.1 C790.4,1217.3 792.0,1218.4 793.7,1219.5 C795.3,1220.5 797.0,1221.5 798.8,1222.2 C800.5,1223.0 802.3,1223.5 804.1,1223.7 C806.0,1223.9 807.9,1223.7 809.7,1223.4 C811.5,1223.0 813.4,1222.3 815.1,1221.5 C816.9,1220.7 818.6,1219.6 820.2,1218.5 C821.8,1217.4 823.4,1216.2 824.9,1214.9 C826.4,1213.6 827.9,1212.3 829.3,1210.9 C830.7,1209.5 832.1,1208.0 833.4,1206.5 C834.7,1205.0 835.9,1203.4 837.1,1201.8 C838.3,1200.2 839.4,1198.6 840.5,1196.9 C841.6,1195.2 842.6,1193.5 843.7,1191.8 C844.7,1190.1 845.6,1188.3 846.6,1186.6 C847.5,1184.8 848.4,1183.0 849.3,1181.2 C850.1,1179.4 851.0,1177.6 851.8,1175.8 C852.6,1174.0 853.4,1172.1 854.2,1170.3 C855.0,1168.4 855.7,1166.6 856.5,1164.7 C857.2,1162.9 857.9,1161.0 858.6,1159.1 C859.3,1157.3 860.0,1155.4 860.7,1153.5 C861.4,1151.6 862.1,1149.8 862.8,1147.9 C863.5,1146.0 864.1,1144.1 864.8,1142.2 C865.5,1140.3 866.1,1138.5 866.7,1136.6 C867.4,1134.7 868.0,1132.8 868.6,1130.9 C869.3,1129.0 869.9,1127.1 870.5,1125.2 C871.1,1123.2 871.7,1121.3 872.3,1119.4 C872.8,1117.5 873.4,1115.6 873.9,1113.7 C874.5,1111.7 875.0,1109.8 875.5,1107.9 C876.1,1106.0 876.6,1104.0 877.1,1102.1 C877.6,1100.2 878.2,1098.2 878.7,1096.3 C879.2,1094.4 879.7,1092.4 880.2,1090.5 C880.6,1088.5 881.1,1086.6 881.5,1084.6 C881.9,1082.7 882.3,1080.7 882.7,1078.8 C883.1,1076.8 883.5,1074.9 883.9,1072.9 C884.3,1070.9 884.7,1069.0 885.1,1067.0 C885.5,1065.1 885.9,1063.1 886.3,1061.1 C886.7,1059.2 887.1,1057.2 887.5,1055.2 C887.8,1053.3 888.2,1051.3 888.6,1049.4 C889.0,1047.4 889.4,1045.4 889.8,1043.5 C890.2,1041.5 890.6,1039.6 891.0,1037.6 C891.4,1035.6 891.8,1033.7 892.2,1031.7 C892.6,1029.8 892.9,1027.8 893.3,1025.8 C893.7,1023.9 894.0,1021.9 894.4,1019.9 C894.7,1017.9 895.0,1016.0 895.4,1014.0 C895.7,1012.0 896.0,1010.1 896.3,1008.1 C896.7,1006.1 897.0,1004.1 897.3,1002.2 C897.7,1000.2 898.0,998.2 898.3,996.2 C898.7,994.3 899.0,992.1 899.4,990.3 C899.7,988.5 899.9,987.2 900.2,985.4 C900.6,983.6 901.0,981.5 901.3,979.5 C901.7,977.5 902.0,975.6 902.4,973.6 C902.8,971.6 903.1,969.7 903.5,967.7 C903.8,965.7 904.2,963.8 904.6,961.8 C904.9,959.8 905.3,957.9 905.6,955.9 C906.0,953.9 906.4,952.0 906.7,950.0 C907.1,948.0 907.5,946.1 907.8,944.1 C908.2,942.1 908.6,940.2 908.9,938.2 C909.3,936.2 909.6,934.3 909.9,932.3 C910.3,930.3 910.6,928.4 910.9,926.4 C911.2,924.4 911.5,922.4 911.8,920.4 C912.1,918.5 912.4,916.5 912.7,914.5 C913.0,912.5 913.3,910.6 913.6,908.6 C913.9,906.6 914.2,904.6 914.5,902.6 C914.8,900.7 915.1,898.7 915.4,896.7 C915.7,894.7 916.0,892.8 916.3,890.8 C916.6,888.8 916.9,886.8 917.2,884.8 C917.4,882.9 917.7,880.9 918.0,878.9 C918.3,876.9 918.6,874.9 918.9,873.0 C919.2,871.0 919.4,869.0 919.7,867.0 C920.0,865.0 920.2,863.1 920.5,861.1 C920.8,859.1 921.1,857.1 921.3,855.1 C921.6,853.2 921.9,851.2 922.1,849.2 C922.4,847.2 922.7,845.2 923.0,843.2 C923.2,841.3 923.5,839.3 923.8,837.3 C924.0,835.3 924.3,833.3 924.6,831.4 C924.8,829.4 925.1,827.4 925.4,825.4 C925.6,823.4 925.9,821.4 926.2,819.5 C926.4,817.5 926.7,815.5 927.0,813.5 C927.3,811.5 927.6,809.6 927.9,807.6 C928.1,805.6 928.4,803.6 928.7,801.6 C929.0,799.7 929.3,797.7 929.6,795.7 C929.9,793.7 930.2,791.8 930.5,789.8 C930.8,787.8 931.1,785.8 931.4,783.8 C931.7,781.9 932.0,779.9 932.3,777.9 C932.6,775.9 932.8,773.9 933.1,772.0 C933.4,770.0 933.7,768.0 934.0,766.0 C934.3,764.1 934.6,762.1 934.8,760.1 C935.1,758.1 935.4,756.1 935.7,754.2 C936.0,752.2 936.3,750.2 936.6,748.2 C936.9,746.2 937.2,744.3 937.5,742.3 C937.8,740.3 938.1,738.3 938.4,736.4 C938.7,734.4 939.1,732.4 939.4,730.4 C939.7,728.5 940.0,726.5 940.3,724.5 C940.6,722.5 941.0,720.6 941.3,718.6 C941.7,716.6 942.1,714.7 942.4,712.7 C942.8,710.7 943.2,708.8 943.5,706.8 C943.9,704.8 944.3,702.9 944.6,700.9 C944.9,698.9 945.2,697.0 945.5,695.0 C945.8,693.0 946.1,691.0 946.4,689.0 C946.6,687.1 946.9,685.1 947.2,683.1 C947.4,681.1 947.7,679.1 947.9,677.1 C948.2,675.2 948.5,673.2 948.8,671.2 C949.1,669.2 949.3,667.2 949.6,665.3 C949.9,663.3 950.2,661.3 950.5,659.3 C950.8,657.3 951.1,655.4 951.4,653.4 C951.7,651.4 952.0,649.4 952.3,647.5 C952.6,645.5 952.9,643.5 953.2,641.5 C953.5,639.5 953.8,637.6 954.1,635.6 C954.4,633.6 954.7,631.6 954.9,629.7 C955.2,627.7 955.5,625.7 955.8,623.7 C956.1,621.7 956.4,619.8 956.7,617.8 C957.1,615.8 957.4,613.8 957.7,611.9 C958.1,609.9 958.4,607.9 958.8,606.0 C959.1,604.0 959.5,602.0 959.9,600.1 C960.2,598.1 960.6,596.1 960.9,594.2 C961.3,592.2 961.7,590.2 962.0,588.3 C962.3,586.3 962.7,584.3 963.0,582.3 C963.4,580.4 963.7,578.4 964.0,576.4 C964.4,574.5 964.7,572.5 965.0,570.5 C965.4,568.5 965.7,566.6 966.0,564.6 C966.4,562.6 966.7,560.7 967.1,558.7 C967.4,556.7 967.8,554.8 968.1,552.8 C968.5,550.8 968.9,548.8 969.2,546.9 C969.6,544.9 969.9,542.9 970.3,541.0 C970.7,539.0 971.0,537.0 971.4,535.1 C971.7,533.1 972.1,531.1 972.5,529.2 C972.8,527.2 973.2,525.2 973.5,523.3 C973.9,521.3 974.2,519.3 974.6,517.4 C974.9,515.4 975.3,513.4 975.6,511.5 C976.0,509.5 976.3,507.5 976.7,505.5 C977.0,503.6 977.3,501.6 977.7,499.6 C978.0,497.7 978.4,495.7 978.7,493.7 C979.1,491.8 979.5,489.8 979.8,487.8 C980.2,485.9 980.5,483.9 980.9,481.9 C981.2,480.0 981.6,478.0 982.0,476.0 C982.3,474.1 982.7,472.1 983.0,470.1 C983.4,468.2 983.8,466.2 984.2,464.2 C984.5,462.3 984.9,460.3 985.4,458.3 C985.8,456.4 986.2,454.4 986.6,452.5 C987.0,450.5 987.4,448.6 987.9,446.6 C988.3,444.7 988.7,442.7 989.1,440.7 C989.6,438.8 990.0,436.8 990.4,434.9 C990.8,432.9 991.3,431.0 991.7,429.0 C992.1,427.1 992.5,425.1 992.9,423.1 C993.3,421.2 993.7,419.2 994.2,417.3 C994.6,415.3 995.0,413.4 995.4,411.4 C995.8,409.5 996.2,407.5 996.7,405.5 C997.1,403.6 997.5,401.6 998.0,399.7 C998.4,397.7 998.9,395.8 999.3,393.8 C999.8,391.9 1000.3,390.0 1000.7,388.0 C1001.2,386.1 1001.7,384.1 1002.2,382.2 C1002.7,380.2 1003.1,378.3 1003.6,376.4 C1004.1,374.4 1004.6,372.5 1005.1,370.5 C1005.6,368.6 1006.0,366.7 1006.5,364.7 C1007.0,362.8 1007.5,360.8 1008.0,358.9 C1008.5,357.0 1009.0,355.0 1009.5,353.1 C1009.9,351.1 1010.4,349.2 1010.9,347.3 C1011.4,345.3 1011.9,343.4 1012.4,341.4 C1012.8,339.5 1013.3,337.6 1013.7,335.6 C1014.2,333.7 1014.6,331.7 1015.1,329.8 C1015.5,327.8 1016.0,325.9 1016.4,323.9 C1016.9,322.0 1017.3,320.0 1017.8,318.1 C1018.2,316.1 1018.7,314.2 1019.2,312.2 C1019.7,310.3 1020.2,308.3 1020.6,306.4 C1021.1,304.5 1021.6,302.5 1022.1,300.6 C1022.6,298.6 1023.0,296.7 1023.5,294.8 C1024.0,292.8 1024.5,290.9 1025.0,288.9 C1025.5,287.0 1026.0,285.1 1026.5,283.1 C1027.0,281.2 1027.6,279.3 1028.2,277.4 C1028.7,275.5 1029.3,273.6 1030.0,271.7 C1030.6,269.8 1031.2,267.9 1031.9,266.0 C1032.6,264.1 1033.3,262.3 1034.1,260.4 C1034.8,258.5 1035.6,256.7 1036.4,254.9 C1037.3,253.1 1038.1,251.3 1039.0,249.5 C1039.9,247.7 1040.9,246.0 1041.9,244.3 C1043.0,242.6 1044.1,241.0 1045.4,239.5 C1046.7,238.0 1048.0,236.6 1049.6,235.4 C1051.1,234.3 1052.8,233.2 1054.5,232.5 C1056.2,231.8 1058.1,231.4 1059.9,231.3 C1061.7,231.3 1063.6,231.6 1065.3,232.1 C1067.1,232.7 1068.8,233.7 1070.3,234.8 C1071.9,235.8 1073.3,237.2 1074.7,238.6 C1076.0,240.0 1077.3,241.6 1078.5,243.2 C1079.7,244.8 1080.8,246.4 1081.9,248.1 C1083.0,249.7 1084.1,251.4 1085.1,253.1 C1086.2,254.8 1087.2,256.6 1088.2,258.3 C1089.2,260.0 1090.2,261.8 1091.1,263.5 C1092.1,265.3 1093.0,267.1 1093.9,268.9 C1094.7,270.7 1095.6,272.5 1096.4,274.3 C1097.3,276.1 1098.1,277.9 1098.9,279.8 C1099.6,281.6 1100.4,283.4 1101.2,285.3 C1101.9,287.1 1102.7,289.0 1103.4,290.9 C1104.1,292.7 1104.8,294.6 1105.6,296.5 C1106.3,298.3 1107.0,300.2 1107.7,302.1 C1108.4,303.9 1109.1,305.8 1109.8,307.7 C1110.5,309.5 1111.3,311.4 1111.9,313.3 C1112.6,315.2 1113.3,317.1 1114.0,318.9 C1114.6,320.8 1115.3,322.7 1116.0,324.6 C1116.6,326.5 1117.3,328.4 1117.9,330.3 C1118.6,332.2 1119.2,334.1 1119.9,335.9 C1120.5,337.8 1121.1,339.7 1121.8,341.6 C1122.4,343.5 1123.0,345.4 1123.6,347.4 C1124.2,349.3 1124.8,351.2 1125.4,353.1 C1126.0,355.0 1126.5,356.9 1127.1,358.8 C1127.7,360.7 1128.3,362.6 1128.9,364.6 C1129.4,366.5 1130.0,368.4 1130.5,370.3 C1131.1,372.2 1131.6,374.2 1132.1,376.1 C1132.7,378.0 1133.2,380.0 1133.7,381.9 C1134.2,383.8 1134.6,385.8 1135.1,387.7 C1135.6,389.7 1136.1,391.6 1136.5,393.6 C1137.0,395.5 1137.4,397.5 1137.9,399.4 C1138.3,401.4 1138.7,403.3 1139.2,405.3 C1139.6,407.2 1140.0,409.2 1140.4,411.1 C1140.8,413.1 1141.2,415.1 1141.6,417.0 C1141.9,419.0 1142.3,420.9 1142.7,422.9 C1143.1,424.9 1143.4,426.8 1143.8,428.8 C1144.2,430.8 1144.5,432.7 1144.9,434.7 C1145.3,436.7 1145.7,438.6 1146.0,440.6 C1146.4,442.6 1146.8,444.5 1147.2,446.5 C1147.6,448.4 1148.0,450.4 1148.4,452.4 C1148.8,454.3 1149.2,456.3 1149.6,458.3 C1149.9,460.2 1150.3,462.2 1150.7,464.1 C1151.1,466.1 1151.5,468.1 1151.9,470.0 C1152.3,472.0 1152.7,473.9 1153.1,475.9 C1153.5,477.9 1153.9,479.8 1154.3,481.8 C1154.7,483.7 1155.0,485.7 1155.4,487.7 C1155.8,489.6 1156.2,491.6 1156.6,493.6 C1157.0,495.5 1157.4,497.5 1157.8,499.4 C1158.1,501.4 1158.5,503.4 1158.9,505.3 C1159.3,507.3 1159.6,509.3 1160.0,511.2 C1160.4,513.2 1160.7,515.2 1161.1,517.1 C1161.5,519.1 1161.8,521.1 1162.2,523.0 C1162.6,525.0 1162.9,527.0 1163.3,528.9 C1163.7,530.9 1164.0,532.9 1164.4,534.8 C1164.7,536.8 1165.1,538.8 1165.4,540.7 C1165.7,542.7 1166.1,544.7 1166.4,546.7 C1166.7,548.6 1167.0,550.6 1167.4,552.6 C1167.7,554.6 1168.0,556.5 1168.3,558.5 C1168.7,560.5 1169.0,562.4 1169.3,564.4 C1169.6,566.4 1169.9,568.4 1170.3,570.3 C1170.6,572.3 1170.9,574.3 1171.2,576.3 C1171.5,578.2 1171.8,580.2 1172.1,582.2 C1172.5,584.2 1172.8,586.1 1173.1,588.1 C1173.4,590.1 1173.8,592.1 1174.1,594.0 C1174.4,596.0 1174.8,598.0 1175.1,599.9 C1175.5,601.9 1175.8,603.9 1176.2,605.9 C1176.5,607.8 1176.9,609.8 1177.2,611.8 C1177.5,613.7 1177.9,615.7 1178.2,617.7 C1178.6,619.6 1178.9,621.6 1179.2,623.6 C1179.6,625.6 1179.9,627.5 1180.2,629.5 C1180.5,631.5 1180.8,633.5 1181.2,635.4 C1181.5,637.4 1181.8,639.4 1182.1,641.4 C1182.4,643.3 1182.7,645.3 1183.0,647.3 C1183.4,649.3 1183.7,651.2 1184.0,653.2 C1184.3,655.2 1184.7,657.2 1185.0,659.1 C1185.3,661.1 1185.7,663.1 1186.0,665.0 C1186.4,667.0 1186.7,669.0 1187.0,671.0 C1187.4,672.9 1187.7,674.9 1188.1,676.9 C1188.4,678.8 1188.7,680.8 1189.1,682.8 C1189.4,684.8 1189.7,686.7 1190.1,688.7 C1190.4,690.7 1190.7,692.6 1191.1,694.6 C1191.4,696.6 1191.7,698.6 1192.0,700.5 C1192.4,702.5 1192.7,704.5 1193.0,706.4 C1193.4,708.4 1193.7,710.4 1194.0,712.4 C1194.4,714.3 1194.7,716.3 1195.1,718.3 C1195.4,720.2 1195.8,722.2 1196.2,724.2 C1196.5,726.1 1196.9,728.1 1197.3,730.1 C1197.7,732.0 1198.1,734.0 1198.4,736.0 C1198.8,737.9 1199.2,739.9 1199.6,741.8 C1200.0,743.8 1200.3,745.8 1200.7,747.7 C1201.1,749.7 1201.5,751.7 1201.9,753.6 C1202.3,755.6 1202.7,757.5 1203.1,759.5 C1203.5,761.5 1203.8,763.4 1204.2,765.4 C1204.6,767.4 1205.0,769.3 1205.4,771.3 C1205.7,773.2 1206.1,775.2 1206.5,777.2 C1206.9,779.1 1207.2,781.1 1207.6,783.1 C1207.9,785.0 1208.3,787.0 1208.7,789.0 C1209.0,790.9 1209.4,792.9 1209.8,794.9 C1210.1,796.8 1210.5,798.8 1210.9,800.8 C1211.2,802.7 1211.6,804.7 1211.9,806.7 C1212.3,808.6 1212.7,810.6 1213.0,812.6 C1213.4,814.5 1213.7,816.5 1214.1,818.5 C1214.5,820.5 1214.8,822.4 1215.2,824.4 C1215.5,826.4 1215.9,828.3 1216.3,830.3 C1216.7,832.2 1217.0,834.2 1217.4,836.2 C1217.8,838.1 1218.3,840.1 1218.7,842.0 C1219.1,844.0 1219.5,845.9 1219.9,847.9 C1220.4,849.9 1220.8,851.8 1221.2,853.8 C1221.6,855.7 1222.1,857.7 1222.5,859.6 C1222.9,861.6 1223.4,863.5 1223.8,865.5 C1224.2,867.4 1224.7,869.4 1225.1,871.3 C1225.6,873.3 1226.0,875.2 1226.5,877.2 C1226.9,879.1 1227.4,881.1 1227.9,883.0 C1228.3,885.0 1228.8,886.9 1229.2,888.9 C1229.7,890.8 1230.2,892.7 1230.7,894.7 C1231.2,896.6 1231.7,898.6 1232.2,900.5 C1232.7,902.4 1233.3,904.3 1233.8,906.3 C1234.4,908.2 1235.0,910.1 1235.5,912.0 C1236.1,913.9 1236.6,915.9 1237.2,917.8 C1237.8,919.7 1238.3,921.6 1238.9,923.5 C1239.5,925.4 1240.1,927.3 1240.7,929.3 C1241.3,931.2 1241.8,933.1 1242.4,935.0 C1243.0,936.9 1243.6,938.8 1244.2,940.7 C1244.8,942.6 1245.4,944.5 1246.1,946.4 C1246.7,948.3 1247.3,950.2 1248.0,952.1 C1248.6,954.0 1249.2,955.9 1249.9,957.8 C1250.5,959.7 1251.1,961.6 1251.8,963.5 C1252.4,965.4 1253.0,967.3 1253.7,969.2 C1254.3,971.1 1255.0,973.0 1255.6,974.9 C1256.3,976.8 1256.9,978.7 1257.6,980.5 C1258.2,982.4 1258.9,984.3 1259.6,986.2 C1260.3,988.0 1261.1,989.9 1261.8,991.8 C1262.5,993.6 1263.3,995.5 1264.0,997.3 C1264.8,999.2 1265.5,1001.1 1266.3,1002.9 C1267.0,1004.8 1267.8,1006.6 1268.6,1008.4 C1269.4,1010.3 1270.2,1012.1 1271.0,1013.9 C1271.8,1015.8 1272.6,1017.6 1273.4,1019.5 C1274.1,1021.3 1274.9,1023.1 1275.7,1025.0 C1276.5,1026.8 1277.3,1028.6 1278.1,1030.5 C1278.9,1032.3 1279.7,1034.1 1280.5,1036.0 C1281.3,1037.8 1282.1,1039.6 1282.9,1041.5 C1283.7,1043.3 1284.6,1045.1 1285.5,1046.9 C1286.3,1048.7 1287.3,1050.5 1288.2,1052.2 C1289.1,1054.0 1290.0,1055.8 1291.0,1057.5 C1291.9,1059.3 1292.9,1061.1 1293.8,1062.8 C1294.8,1064.6 1295.8,1066.3 1296.8,1068.0 C1297.8,1069.8 1298.8,1071.5 1299.8,1073.2 C1300.8,1075.0 1301.8,1076.7 1302.9,1078.4 C1303.9,1080.1 1304.9,1081.8 1305.9,1083.5 C1307.0,1085.3 1308.0,1087.0 1309.0,1088.7 C1310.0,1090.4 1311.1,1092.1 1312.1,1093.8 C1313.1,1095.6 1314.1,1097.3 1315.2,1099.0 C1316.2,1100.7 1317.2,1102.4 1318.3,1104.1 C1319.3,1105.8 1320.3,1107.6 1321.4,1109.3 C1322.4,1111.0 1323.4,1112.7 1324.5,1114.4 C1325.5,1116.1 1326.6,1117.8 1327.6,1119.5 C1328.6,1121.2 1329.7,1122.9 1330.7,1124.6 C1331.7,1126.4 1332.8,1128.1 1333.8,1129.8 C1334.8,1131.5 1335.8,1133.2 1336.9,1135.0 C1337.9,1136.7 1338.9,1138.4 1339.9,1140.1 C1340.9,1141.8 1342.0,1143.5 1343.1,1145.2 C1344.2,1146.9 1345.3,1148.5 1346.4,1150.2 C1347.5,1151.9 1348.6,1153.5 1349.8,1155.2 C1350.9,1156.8 1352.0,1158.5 1353.1,1160.1 C1354.3,1161.8 1355.5,1163.6 1356.4,1165.1 C1357.4,1166.7 1358.1,1167.8 1359.1,1169.4 C1360.1,1170.9 1361.2,1172.8 1362.2,1174.5 C1363.2,1176.2 1364.2,1177.9 1365.2,1179.7 C1366.3,1181.4 1367.3,1183.1 1368.3,1184.8 C1369.3,1186.5 1370.4,1188.2 1371.4,1189.9 C1372.5,1191.6 1373.6,1193.3 1374.6,1195.0 C1375.7,1196.7 1376.8,1198.4 1377.9,1200.1 C1379.0,1201.8 1380.0,1203.4 1381.1,1205.1 C1382.2,1206.8 1383.3,1208.5 1384.4,1210.1 C1385.5,1211.8 1386.6,1213.5 1387.7,1215.1 C1388.8,1216.8 1389.9,1218.5 1391.0,1220.1 C1392.1,1221.8 1393.3,1223.5 1394.4,1225.1 C1395.5,1226.8 1396.6,1228.5 1397.7,1230.1 C1398.8,1231.8 1399.9,1233.4 1401.1,1235.1 C1402.2,1236.7 1403.3,1238.4 1404.4,1240.1 C1405.5,1241.7 1406.7,1243.4 1407.8,1245.0 C1408.9,1246.7 1410.1,1248.3 1411.2,1249.9 C1412.4,1251.6 1413.6,1253.2 1414.8,1254.8 C1416.0,1256.4 1417.2,1258.0 1418.4,1259.6 C1419.6,1261.2 1420.8,1262.8 1422.0,1264.4 C1423.2,1265.9 1424.4,1267.5 1425.6,1269.1 C1426.8,1270.7 1428.0,1272.3 1429.2,1273.9 C1430.4,1275.5 1431.6,1277.1 1432.8,1278.7 C1434.0,1280.3 1435.2,1281.9 1436.5,1283.5 C1437.7,1285.1 1438.9,1286.7 1440.1,1288.2 C1441.4,1289.8 1442.6,1291.4 1443.9,1292.9 C1445.2,1294.5 1446.4,1296.0 1447.7,1297.6 C1449.0,1299.1 1450.2,1300.6 1451.5,1302.2 C1452.9,1303.7 1454.2,1305.2 1455.5,1306.7 C1456.9,1308.1 1458.2,1309.6 1459.6,1311.1 C1460.9,1312.5 1462.3,1314.0 1463.7,1315.5 C1465.0,1316.9 1466.4,1318.3 1467.8,1319.8 C1469.2,1321.2 1470.6,1322.6 1472.1,1324.0 C1473.5,1325.5 1474.9,1326.9 1476.3,1328.3 C1477.7,1329.7 1479.1,1331.1 1480.5,1332.5 C1481.9,1333.9 1483.4,1335.4 1484.8,1336.8 C1486.2,1338.2 1487.6,1339.6 1489.1,1341.0 C1490.5,1342.3 1492.0,1343.7 1493.4,1345.1 C1494.9,1346.4 1496.4,1347.8 1497.9,1349.1 C1499.4,1350.4 1500.9,1351.7 1502.5,1352.9 C1504.1,1354.1 1505.7,1355.2 1507.4,1356.3 C1509.1,1357.4 1510.8,1358.4 1512.5,1359.3 C1514.3,1360.3 1516.1,1361.2 1517.9,1361.9 C1519.7,1362.7 1521.6,1363.4 1523.5,1364.0 C1525.4,1364.6 1527.3,1365.1 1529.3,1365.6 C1531.2,1366.1 1533.2,1366.5 1535.1,1366.9 C1537.0,1367.4 1539.0,1367.8 1540.8,1368.4 C1542.7,1369.0 1544.6,1369.7 1546.4,1370.5 C1548.2,1371.4 1549.9,1372.3 1551.6,1373.3 C1553.3,1374.4 1554.8,1375.6 1556.4,1376.8 C1557.9,1378.1 1559.3,1379.5 1560.7,1380.9 C1562.1,1382.3 1563.4,1383.8 1564.7,1385.4 C1565.9,1386.9 1567.1,1388.5 1568.2,1390.1 C1569.4,1391.8 1570.5,1393.5 1571.5,1395.2 C1572.6,1396.8 1573.6,1398.6 1574.6,1400.3 C1575.6,1402.0 1576.5,1403.8 1577.5,1405.5 C1578.5,1407.3 1579.5,1409.0 1580.5,1410.7 C1581.6,1412.4 1582.7,1414.1 1583.8,1415.8 C1584.9,1417.4 1586.0,1419.1 1587.2,1420.7 C1588.4,1422.3 1589.5,1423.9 1590.8,1425.4 C1592.1,1426.8 1593.4,1428.3 1594.8,1429.3 C1596.3,1430.2 1597.8,1431.0 1599.3,1431.0 C1600.8,1431.1 1602.4,1430.5 1603.8,1429.7 C1605.2,1428.9 1606.5,1427.4 1607.8,1426.0 C1609.0,1424.6 1610.1,1422.9 1611.2,1421.2 C1612.3,1419.6 1613.3,1417.8 1614.3,1416.1 C1615.3,1414.4 1616.3,1412.6 1617.2,1410.9 C1618.2,1409.1 1619.1,1407.3 1620.0,1405.5 C1620.9,1403.7 1621.7,1401.9 1622.6,1400.1 C1623.4,1398.3 1624.2,1396.5 1625.1,1394.7 C1625.9,1392.9 1626.8,1391.1 1627.7,1389.3 C1628.6,1387.5 1629.4,1385.7 1630.3,1383.9 C1631.2,1382.1 1632.1,1380.3 1633.0,1378.5 C1633.9,1376.7 1634.8,1375.0 1635.8,1373.2 C1636.7,1371.5 1637.7,1369.7 1638.8,1368.0 C1639.8,1366.3 1640.9,1364.6 1642.0,1363.0 C1643.1,1361.3 1644.3,1359.7 1645.5,1358.1 C1646.6,1356.5 1647.8,1354.9 1649.0,1353.3 C1650.3,1351.7 1651.5,1350.1 1652.8,1348.6 C1654.0,1347.0 1655.3,1345.5 1656.6,1344.0 C1657.9,1342.5 1659.2,1341.0 1660.6,1339.5 C1662.0,1338.0 1663.4,1336.6 1664.8,1335.2 C1666.2,1333.8 1667.7,1332.5 1669.2,1331.2 C1670.7,1329.9 1672.3,1328.7 1673.9,1327.5 C1675.5,1326.4 1677.2,1325.3 1678.9,1324.4 C1680.7,1323.4 1682.5,1322.5 1684.3,1321.7 C1686.1,1320.9 1687.9,1320.1 1689.8,1319.5 C1691.7,1318.8 1693.6,1318.2 1695.5,1317.8 C1697.4,1317.3 1699.4,1317.0 1701.4,1316.7 C1703.3,1316.5 1705.3,1316.4 1707.3,1316.3 C1709.3,1316.3 1711.3,1316.4 1713.2,1316.5 C1715.2,1316.7 1717.2,1316.9 1719.2,1317.3 C1721.1,1317.6 1723.1,1318.0 1725.0,1318.4 C1727.0,1318.8 1728.9,1319.3 1730.9,1319.8 C1732.8,1320.3 1734.7,1320.8 1736.7,1321.3 C1738.6,1321.8 1740.5,1322.3 1742.5,1322.8 C1744.4,1323.3 1746.4,1323.7 1748.3,1324.2 C1750.3,1324.6 1752.2,1325.0 1754.2,1325.4 C1756.1,1325.8 1758.1,1326.2 1760.1,1326.6 C1762.0,1326.9 1764.0,1327.3 1766.0,1327.6 C1768.0,1327.9 1769.9,1328.2 1771.9,1328.5 C1773.9,1328.8 1775.9,1329.1 1777.9,1329.3 C1779.8,1329.6 1781.8,1329.9 1783.8,1330.2 C1785.8,1330.5 1787.8,1330.7 1789.7,1331.0 C1791.7,1331.3 1793.7,1331.6 1795.7,1331.9 C1797.6,1332.3 1799.6,1332.6 1801.6,1333.0 C1803.5,1333.4 1805.5,1333.7 1807.4,1334.2 C1809.4,1334.7 1811.3,1335.1 1813.2,1335.8 C1815.1,1336.4 1816.9,1337.1 1818.8,1337.9 C1820.6,1338.7 1822.3,1339.6 1824.0,1340.6 C1825.8,1341.6 1827.4,1342.7 1829.0,1343.9 C1830.6,1345.0 1832.1,1346.3 1833.6,1347.7 C1835.0,1349.0 1836.4,1350.5 1837.7,1351.9 C1839.1,1353.4 1840.3,1355.0 1841.5,1356.6 C1842.7,1358.1 1843.8,1359.8 1844.9,1361.5 C1846.0,1363.1 1847.0,1364.8 1848.0,1366.6 C1849.1,1368.3 1850.0,1370.0 1851.0,1371.8 C1852.0,1373.5 1852.9,1375.3 1853.9,1377.0 C1854.9,1378.8 1855.8,1380.5 1856.8,1382.3 C1857.8,1384.0 1858.8,1385.7 1859.8,1387.5 C1860.9,1389.2 1861.9,1390.9 1862.9,1392.6 C1864.0,1394.3 1865.1,1396.0 1866.2,1397.6 C1867.3,1399.3 1868.5,1400.9 1869.7,1402.5 C1870.9,1404.0 1872.3,1405.5 1873.7,1406.9 C1875.0,1408.3 1876.5,1409.7 1878.1,1410.9 C1879.6,1412.2 1881.2,1413.4 1882.8,1414.5 C1884.5,1415.6 1886.2,1416.6 1887.9,1417.6 C1889.7,1418.6 1891.5,1419.4 1893.3,1420.2 C1895.1,1421.1 1896.9,1421.8 1898.8,1422.6 C1900.6,1423.4 1902.4,1424.2 1904.2,1425.1 C1906.0,1426.0 1907.8,1426.9 1909.5,1427.9 C1911.3,1428.8 1913.0,1429.9 1914.7,1430.9 C1916.4,1431.9 1918.1,1432.9 1919.8,1433.9 C1921.6,1434.8 1923.4,1435.6 1925.2,1436.3 C1927.1,1437.0 1929.0,1437.6 1930.9,1438.0 C1932.8,1438.3 1934.8,1438.6 1936.7,1438.7 C1938.7,1438.8 1940.7,1438.7 1942.7,1438.7 C1944.7,1438.6 1946.7,1438.4 1948.6,1438.4 C1950.6,1438.4 1952.6,1438.3 1954.5,1438.6 C1956.4,1438.8 1958.2,1439.2 1960.0,1440.0 C1961.7,1440.7 1963.3,1441.7 1964.8,1442.9 C1966.3,1444.0 1967.6,1445.5 1968.9,1447.0 C1970.1,1448.5 1971.2,1450.2 1972.2,1451.9 C1973.3,1453.6 1974.3,1455.3 1975.2,1457.1 C1976.1,1458.8 1977.0,1460.6 1977.8,1462.4 C1978.7,1464.3 1979.5,1466.1 1980.2,1467.9 C1981.0,1469.8 1981.7,1471.7 1982.4,1473.5 C1983.1,1475.4 1983.7,1477.3 1984.4,1479.2 C1985.0,1481.0 1985.6,1482.9 1986.2,1484.7 C1986.9,1486.5 1987.7,1489.1 1988.0,1490.0" stroke="#ff0000" stroke-width="5.3"/>
<path d="M316.0,1388.9 C317.0,1389.0 320.0,1389.3 322.0,1389.5 C324.0,1389.8 325.9,1390.0 327.9,1390.2 C329.9,1390.4 331.9,1390.6 333.9,1390.8 C335.9,1391.1 337.9,1391.3 339.9,1391.5 C341.8,1391.7 343.8,1391.9 345.8,1392.2 C347.8,1392.4 349.8,1392.6 351.8,1392.8 C353.8,1393.1 355.8,1393.3 357.7,1393.6 C359.7,1393.8 361.7,1394.1 363.7,1394.3 C365.7,1394.6 367.7,1394.9 369.6,1395.2 C371.6,1395.4 373.6,1395.7 375.6,1396.0 C377.6,1396.2 379.5,1396.5 381.5,1396.8 C383.5,1397.1 385.5,1397.3 387.5,1397.6 C389.4,1397.9 391.4,1398.2 393.4,1398.4 C395.4,1398.7 397.4,1399.0 399.4,1399.2 C401.3,1399.5 403.3,1399.7 405.3,1400.0 C407.3,1400.2 409.3,1400.4 411.3,1400.6 C413.3,1400.8 415.2,1401.0 417.2,1401.3 C419.2,1401.5 421.2,1401.7 423.2,1401.9 C425.2,1402.1 427.2,1402.3 429.2,1402.5 C431.2,1402.7 433.1,1402.9 435.1,1403.1 C437.1,1403.3 439.1,1403.6 441.1,1403.8 C443.1,1404.0 445.1,1404.2 447.1,1404.4 C449.1,1404.6 451.1,1404.7 453.0,1404.9 C455.0,1405.1 457.0,1405.2 459.0,1405.3 C461.0,1405.5 463.0,1405.6 465.0,1405.7 C467.0,1405.8 469.0,1405.9 471.0,1406.1 C473.0,1406.2 475.0,1406.3 477.0,1406.4 C479.0,1406.5 481.0,1406.6 483.0,1406.8 C485.0,1406.9 487.0,1407.0 489.0,1407.1 C491.0,1407.2 493.0,1407.3 495.0,1407.4 C497.0,1407.5 499.0,1407.6 501.0,1407.7 C502.9,1407.7 504.9,1407.7 506.9,1407.8 C508.8,1407.8 511.1,1408.6 512.7,1407.8 C514.3,1407.0 515.2,1404.7 516.2,1403.1 C517.3,1401.5 518.3,1399.8 519.1,1398.0 C520.0,1396.2 520.7,1394.4 521.4,1392.5 C522.2,1390.6 522.9,1388.8 523.5,1386.9 C524.2,1385.0 524.8,1383.1 525.4,1381.2 C526.1,1379.3 526.7,1377.4 527.3,1375.5 C527.9,1373.6 528.5,1371.7 529.1,1369.8 C529.7,1367.9 530.3,1366.0 530.9,1364.1 C531.5,1362.1 532.1,1360.2 532.7,1358.3 C533.3,1356.4 533.9,1354.5 534.5,1352.6 C535.1,1350.7 535.7,1348.8 536.4,1346.9 C537.0,1345.0 537.6,1343.1 538.2,1341.2 C538.8,1339.3 539.4,1337.4 540.0,1335.5 C540.6,1333.5 541.2,1331.6 541.8,1329.7 C542.4,1327.8 543.0,1325.9 543.5,1324.0 C544.1,1322.1 544.7,1320.2 545.3,1318.3 C545.9,1316.4 546.5,1314.4 547.1,1312.5 C547.7,1310.6 548.3,1308.7 548.8,1306.8 C549.4,1304.9 550.0,1303.0 550.6,1301.1 C551.2,1299.1 551.8,1297.2 552.4,1295.3 C553.0,1293.4 553.5,1291.5 554.1,1289.6 C554.7,1287.7 555.3,1285.8 555.9,1283.8 C556.5,1281.9 557.0,1280.0 557.6,1278.1 C558.2,1276.2 558.7,1274.3 559.3,1272.4 C559.9,1270.4 560.5,1268.5 561.0,1266.6 C561.6,1264.7 562.2,1262.8 562.7,1260.8 C563.3,1258.9 563.9,1257.0 564.5,1255.1 C565.0,1253.2 565.6,1251.3 566.2,1249.3 C566.7,1247.4 567.3,1245.5 567.9,1243.6 C568.5,1241.7 569.1,1239.8 569.7,1237.9 C570.4,1236.0 571.0,1234.1 571.7,1232.2 C572.3,1230.3 573.0,1228.5 573.7,1226.6 C574.4,1224.7 575.1,1222.8 575.8,1220.9 C576.5,1219.1 577.2,1217.2 577.8,1215.3 C578.5,1213.4 579.2,1211.6 579.9,1209.7 C580.6,1207.8 581.3,1205.9 582.0,1204.0 C582.7,1202.2 583.4,1200.3 584.1,1198.4 C584.8,1196.6 585.5,1194.7 586.2,1192.8 C587.0,1191.0 587.8,1189.1 588.6,1187.3 C589.4,1185.5 590.2,1183.7 591.1,1181.9 C591.9,1180.0 592.8,1178.2 593.6,1176.4 C594.5,1174.6 595.3,1172.8 596.2,1171.0 C597.1,1169.2 597.9,1167.4 598.8,1165.6 C599.7,1163.8 600.6,1162.0 601.5,1160.2 C602.4,1158.5 603.3,1156.7 604.3,1155.0 C605.3,1153.2 606.3,1151.5 607.3,1149.8 C608.3,1148.0 609.3,1146.3 610.3,1144.6 C611.3,1142.8 612.3,1141.1 613.3,1139.4 C614.3,1137.6 615.3,1135.9 616.3,1134.2 C617.3,1132.4 618.3,1130.7 619.3,1129.0 C620.4,1127.3 621.4,1125.6 622.5,1124.0 C623.7,1122.3 624.9,1120.7 626.1,1119.2 C627.4,1117.6 628.7,1116.1 630.0,1114.7 C631.4,1113.2 632.8,1111.8 634.2,1110.5 C635.7,1109.2 637.3,1108.0 638.9,1106.9 C640.5,1105.9 642.3,1105.0 644.1,1104.1 C645.9,1103.3 647.7,1102.5 649.6,1101.8 C651.4,1101.0 653.3,1100.2 655.1,1099.7 C657.0,1099.1 658.8,1098.5 660.7,1098.3 C662.6,1098.1 664.5,1098.2 666.4,1098.5 C668.2,1098.7 670.2,1099.3 672.0,1099.9 C673.9,1100.5 675.7,1101.2 677.4,1102.1 C679.2,1103.0 680.8,1104.0 682.3,1105.2 C683.9,1106.4 685.3,1107.8 686.7,1109.2 C688.1,1110.6 689.5,1112.0 690.8,1113.5 C692.1,1115.0 693.5,1116.5 694.7,1118.1 C695.9,1119.6 697.1,1121.2 698.2,1122.9 C699.3,1124.5 700.4,1126.2 701.5,1127.9 C702.5,1129.6 703.6,1131.3 704.5,1133.1 C705.5,1134.8 706.5,1136.6 707.3,1138.3 C708.2,1140.1 709.1,1141.9 709.9,1143.8 C710.8,1145.6 711.6,1147.4 712.4,1149.2 C713.2,1151.0 714.0,1152.9 714.9,1154.7 C715.7,1156.5 716.5,1158.3 717.3,1160.2 C718.1,1162.0 718.9,1163.8 719.7,1165.7 C720.5,1167.5 721.3,1169.3 722.1,1171.2 C722.9,1173.0 723.6,1174.9 724.4,1176.7 C725.2,1178.5 726.0,1180.4 726.7,1182.2 C727.5,1184.1 728.2,1185.9 728.9,1187.8 C729.7,1189.7 730.3,1191.6 731.0,1193.4 C731.6,1195.3 732.2,1197.2 732.8,1199.1 C733.5,1201.1 734.0,1203.0 734.7,1204.9 C735.3,1206.8 735.9,1208.7 736.5,1210.6 C737.1,1212.5 737.8,1214.4 738.4,1216.3 C739.1,1218.1 739.8,1220.0 740.4,1221.9 C741.1,1223.8 741.8,1225.7 742.5,1227.5 C743.2,1229.4 743.9,1231.3 744.6,1233.2 C745.3,1235.0 746.0,1236.9 746.7,1238.8 C747.4,1240.7 748.1,1242.5 748.8,1244.4 C749.5,1246.3 750.2,1248.1 751.0,1250.0 C751.7,1251.9 752.4,1253.7 753.2,1255.6 C753.9,1257.4 754.7,1259.3 755.4,1261.1 C756.2,1263.0 757.0,1264.8 757.8,1266.7 C758.5,1268.5 759.3,1270.4 760.1,1272.2 C760.9,1274.0 761.6,1275.9 762.4,1277.7 C763.2,1279.6 764.0,1281.4 764.8,1283.2 C765.6,1285.0 766.5,1286.8 767.4,1288.6 C768.3,1290.4 769.3,1292.1 770.4,1293.8 C771.4,1295.5 772.5,1297.1 773.7,1298.8 C774.8,1300.4 776.0,1302.0 777.3,1303.5 C778.5,1305.0 779.9,1306.4 781.4,1307.6 C782.9,1308.9 784.5,1310.0 786.2,1311.0 C787.8,1312.0 789.6,1313.0 791.4,1313.9 C793.2,1314.8 794.9,1315.7 796.7,1316.4 C798.5,1317.0 800.4,1317.7 802.2,1317.9 C804.0,1318.2 805.9,1318.1 807.8,1317.9 C809.7,1317.6 811.6,1317.1 813.5,1316.5 C815.3,1316.0 817.2,1315.2 818.9,1314.4 C820.7,1313.5 822.3,1312.4 823.9,1311.3 C825.5,1310.1 827.1,1308.8 828.6,1307.6 C830.1,1306.3 831.6,1304.9 832.9,1303.5 C834.3,1302.1 835.6,1300.6 836.8,1299.1 C838.0,1297.5 839.1,1295.8 840.1,1294.1 C841.2,1292.4 842.1,1290.7 843.1,1288.9 C844.0,1287.2 845.0,1285.4 845.9,1283.6 C846.8,1281.8 847.6,1280.0 848.4,1278.2 C849.2,1276.4 850.0,1274.5 850.7,1272.7 C851.5,1270.8 852.2,1269.0 853.0,1267.1 C853.7,1265.3 854.5,1263.4 855.2,1261.5 C855.9,1259.7 856.6,1257.8 857.3,1255.9 C858.0,1254.1 858.7,1252.2 859.3,1250.3 C860.0,1248.4 860.6,1246.5 861.3,1244.6 C861.9,1242.7 862.5,1240.8 863.2,1238.9 C863.8,1237.0 864.4,1235.1 865.1,1233.2 C865.7,1231.3 866.3,1229.4 867.0,1227.5 C867.6,1225.6 868.2,1223.7 868.9,1221.8 C869.5,1219.9 870.1,1218.0 870.7,1216.1 C871.3,1214.2 871.9,1212.3 872.5,1210.4 C873.1,1208.5 873.6,1206.6 874.1,1204.6 C874.6,1202.7 875.1,1200.8 875.6,1198.8 C876.1,1196.9 876.6,1194.9 877.1,1193.0 C877.6,1191.1 878.1,1189.1 878.6,1187.2 C879.1,1185.3 879.6,1183.3 880.1,1181.4 C880.6,1179.4 881.0,1177.5 881.5,1175.6 C882.0,1173.6 882.5,1171.7 883.0,1169.7 C883.5,1167.8 884.0,1165.9 884.5,1163.9 C884.9,1162.0 885.4,1160.0 885.8,1158.1 C886.2,1156.1 886.6,1154.2 887.0,1152.2 C887.4,1150.3 887.8,1148.5 888.2,1146.3 C888.7,1144.2 889.2,1141.6 889.6,1139.5 C890.0,1137.3 890.4,1135.5 890.8,1133.6 C891.2,1131.6 891.6,1129.7 891.9,1127.7 C892.3,1125.7 892.7,1123.8 893.1,1121.8 C893.5,1119.9 893.9,1117.9 894.3,1115.9 C894.6,1114.0 895.0,1112.0 895.4,1110.0 C895.8,1108.1 896.1,1106.1 896.5,1104.1 C896.8,1102.2 897.2,1100.2 897.6,1098.2 C897.9,1096.3 898.3,1094.3 898.6,1092.3 C899.0,1090.4 899.4,1088.4 899.7,1086.4 C900.1,1084.5 900.5,1082.5 900.8,1080.5 C901.2,1078.6 901.5,1076.6 901.9,1074.6 C902.2,1072.7 902.6,1070.7 902.9,1068.7 C903.3,1066.7 903.6,1064.8 903.9,1062.8 C904.3,1060.8 904.6,1058.9 904.9,1056.9 C905.2,1054.9 905.5,1052.9 905.8,1050.9 C906.1,1049.0 906.4,1047.0 906.7,1045.0 C907.0,1043.0 907.4,1041.1 907.7,1039.1 C908.0,1037.1 908.3,1035.1 908.6,1033.2 C908.9,1031.2 909.2,1029.2 909.5,1027.2 C909.8,1025.3 910.1,1023.3 910.4,1021.3 C910.7,1019.3 911.0,1017.4 911.3,1015.4 C911.6,1013.4 912.0,1011.4 912.3,1009.4 C912.6,1007.5 912.9,1005.5 913.2,1003.5 C913.5,1001.5 913.8,999.6 914.1,997.6 C914.4,995.6 914.7,993.6 915.0,991.7 C915.3,989.7 915.6,987.7 915.9,985.7 C916.2,983.8 916.6,981.8 916.9,979.8 C917.2,977.8 917.5,975.8 917.8,973.9 C918.1,971.9 918.4,969.9 918.7,967.9 C918.9,966.0 919.2,964.0 919.5,962.0 C919.8,960.0 920.1,958.0 920.3,956.1 C920.6,954.1 920.9,952.1 921.2,950.1 C921.4,948.1 921.7,946.2 922.0,944.2 C922.3,942.2 922.5,940.2 922.8,938.2 C923.1,936.2 923.4,934.3 923.6,932.3 C923.9,930.3 924.2,928.3 924.5,926.3 C924.8,924.4 925.0,922.4 925.3,920.4 C925.6,918.4 925.9,916.4 926.2,914.5 C926.5,912.5 926.9,910.5 927.2,908.5 C927.5,906.6 927.8,904.6 928.1,902.6 C928.4,900.6 928.7,898.7 929.1,896.7 C929.4,894.7 929.7,892.7 930.0,890.8 C930.3,888.8 930.6,886.8 930.9,884.8 C931.3,882.9 931.6,880.9 931.9,878.9 C932.2,876.9 932.5,875.0 932.8,873.0 C933.1,871.0 933.4,869.0 933.7,867.1 C934.0,865.1 934.3,863.1 934.6,861.1 C934.9,859.1 935.2,857.2 935.4,855.2 C935.7,853.2 936.0,851.2 936.3,849.2 C936.6,847.3 936.9,845.3 937.2,843.3 C937.5,841.3 937.7,839.4 938.0,837.4 C938.3,835.4 938.6,833.4 938.9,831.4 C939.2,829.5 939.5,827.5 939.8,825.5 C940.0,823.5 940.3,821.5 940.6,819.6 C940.9,817.6 941.2,815.6 941.5,813.6 C941.8,811.6 942.1,809.7 942.4,807.7 C942.6,805.7 942.9,803.7 943.2,801.7 C943.5,799.8 943.8,797.8 944.1,795.8 C944.4,793.8 944.7,791.9 945.0,789.9 C945.3,787.9 945.6,785.9 945.8,783.9 C946.1,782.0 946.4,780.0 946.7,778.0 C947.0,776.0 947.3,774.0 947.6,772.1 C947.9,770.1 948.2,768.1 948.5,766.1 C948.8,764.2 949.1,762.2 949.4,760.2 C949.8,758.2 950.1,756.3 950.4,754.3 C950.7,752.3 951.0,750.3 951.3,748.4 C951.6,746.4 951.9,744.4 952.2,742.4 C952.5,740.4 952.8,738.5 953.1,736.5 C953.4,734.5 953.7,732.5 954.1,730.6 C954.4,728.6 954.7,726.6 955.0,724.6 C955.3,722.7 955.7,720.7 956.0,718.7 C956.3,716.8 956.7,714.8 957.0,712.8 C957.3,710.8 957.7,708.9 958.0,706.9 C958.4,704.9 958.7,703.0 959.0,701.0 C959.4,699.0 959.7,697.0 960.1,695.1 C960.4,693.1 960.7,691.1 961.1,689.2 C961.4,687.2 961.8,685.2 962.1,683.2 C962.4,681.3 962.8,679.3 963.1,677.3 C963.5,675.4 963.8,673.4 964.2,671.4 C964.6,669.5 964.9,667.5 965.3,665.5 C965.7,663.6 966.0,661.6 966.4,659.6 C966.7,657.7 967.1,655.7 967.5,653.7 C967.8,651.8 968.2,649.8 968.6,647.8 C968.9,645.9 969.3,643.9 969.7,641.9 C970.0,640.0 970.4,638.0 970.8,636.0 C971.1,634.1 971.5,632.1 971.8,630.1 C972.2,628.2 972.6,626.2 972.9,624.2 C973.2,622.3 973.6,620.3 973.9,618.3 C974.2,616.3 974.6,614.4 974.9,612.4 C975.2,610.4 975.5,608.4 975.9,606.5 C976.2,604.5 976.5,602.5 976.9,600.6 C977.2,598.6 977.5,596.6 977.9,594.6 C978.2,592.7 978.5,590.7 978.8,588.7 C979.2,586.8 979.5,584.8 979.8,582.8 C980.2,580.8 980.5,578.9 980.9,576.9 C981.2,574.9 981.6,573.0 982.0,571.0 C982.3,569.0 982.7,567.1 983.1,565.1 C983.5,563.1 983.8,561.2 984.2,559.2 C984.6,557.2 985.0,555.3 985.4,553.3 C985.7,551.4 986.1,549.4 986.5,547.4 C986.9,545.5 987.2,543.5 987.6,541.5 C988.0,539.6 988.4,537.6 988.7,535.6 C989.1,533.7 989.5,531.7 989.9,529.7 C990.3,527.8 990.6,525.8 991.0,523.9 C991.4,521.9 991.8,519.9 992.2,518.0 C992.6,516.0 993.0,514.0 993.3,512.1 C993.7,510.1 994.1,508.2 994.5,506.2 C994.9,504.2 995.3,502.3 995.7,500.3 C996.0,498.3 996.4,496.4 996.8,494.4 C997.2,492.5 997.6,490.5 998.0,488.5 C998.4,486.6 998.8,484.6 999.2,482.7 C999.6,480.7 1000.0,478.7 1000.4,476.8 C1000.9,474.8 1001.3,472.9 1001.7,470.9 C1002.2,469.0 1002.6,467.0 1003.1,465.1 C1003.5,463.1 1004.0,461.2 1004.4,459.2 C1004.9,457.3 1005.3,455.3 1005.7,453.4 C1006.2,451.4 1006.6,449.5 1007.1,447.5 C1007.5,445.6 1008.0,443.6 1008.4,441.7 C1008.9,439.7 1009.3,437.8 1009.8,435.8 C1010.2,433.9 1010.7,432.0 1011.2,430.0 C1011.7,428.1 1012.2,426.1 1012.7,424.2 C1013.2,422.3 1013.7,420.3 1014.2,418.4 C1014.7,416.5 1015.2,414.5 1015.8,412.6 C1016.3,410.7 1016.8,408.7 1017.3,406.8 C1017.8,404.9 1018.3,402.9 1018.9,401.0 C1019.4,399.1 1019.9,397.1 1020.4,395.2 C1020.9,393.3 1021.5,391.4 1022.0,389.4 C1022.6,387.5 1023.2,385.6 1023.8,383.7 C1024.4,381.8 1025.1,379.9 1025.8,378.1 C1026.5,376.2 1027.2,374.3 1027.9,372.4 C1028.6,370.6 1029.3,368.7 1030.0,366.8 C1030.7,365.0 1031.5,363.1 1032.2,361.3 C1033.0,359.4 1033.8,357.6 1034.6,355.7 C1035.4,353.9 1036.2,352.1 1037.0,350.3 C1037.9,348.5 1038.7,346.7 1039.7,344.9 C1040.7,343.2 1041.7,341.5 1042.8,339.9 C1043.9,338.2 1045.2,336.6 1046.4,335.1 C1047.6,333.5 1048.9,331.9 1050.2,330.5 C1051.6,329.2 1052.9,327.7 1054.4,326.8 C1055.9,325.9 1057.6,325.3 1059.2,325.1 C1060.8,325.0 1062.6,325.4 1064.2,326.1 C1065.8,326.7 1067.4,327.9 1068.9,329.1 C1070.4,330.3 1071.8,331.8 1073.2,333.2 C1074.6,334.6 1075.9,336.0 1077.2,337.5 C1078.5,339.0 1079.8,340.6 1081.0,342.2 C1082.2,343.8 1083.2,345.4 1084.3,347.1 C1085.3,348.8 1086.3,350.6 1087.3,352.3 C1088.3,354.0 1089.2,355.8 1090.2,357.5 C1091.2,359.3 1092.2,361.0 1093.1,362.8 C1094.1,364.5 1095.1,366.3 1096.0,368.0 C1096.9,369.8 1097.9,371.6 1098.7,373.4 C1099.6,375.2 1100.4,377.0 1101.1,378.9 C1101.9,380.7 1102.6,382.6 1103.3,384.4 C1104.0,386.3 1104.7,388.2 1105.4,390.1 C1106.2,391.9 1106.9,393.8 1107.6,395.7 C1108.3,397.5 1109.0,399.4 1109.7,401.3 C1110.4,403.1 1111.1,405.0 1111.8,406.9 C1112.5,408.8 1113.2,410.6 1113.9,412.5 C1114.6,414.4 1115.3,416.3 1116.0,418.1 C1116.6,420.0 1117.2,421.9 1117.9,423.8 C1118.5,425.7 1119.0,427.7 1119.6,429.6 C1120.2,431.5 1120.8,433.4 1121.4,435.3 C1122.0,437.2 1122.5,439.1 1123.1,441.0 C1123.7,443.0 1124.3,444.9 1124.8,446.8 C1125.4,448.7 1126.0,450.6 1126.6,452.5 C1127.1,454.5 1127.7,456.4 1128.3,458.3 C1128.9,460.2 1129.4,462.1 1130.0,464.0 C1130.5,466.0 1131.0,467.9 1131.5,469.8 C1132.0,471.8 1132.4,473.7 1132.9,475.7 C1133.3,477.6 1133.8,479.6 1134.2,481.5 C1134.7,483.5 1135.1,485.4 1135.6,487.4 C1136.0,489.3 1136.5,491.3 1136.9,493.2 C1137.3,495.2 1137.8,497.1 1138.2,499.1 C1138.7,501.0 1139.1,503.0 1139.6,504.9 C1140.0,506.9 1140.4,508.8 1140.9,510.8 C1141.3,512.7 1141.7,514.7 1142.2,516.6 C1142.6,518.6 1143.0,520.6 1143.4,522.5 C1143.8,524.5 1144.2,526.4 1144.6,528.4 C1145.0,530.3 1145.4,532.3 1145.8,534.3 C1146.2,536.2 1146.6,538.2 1147.0,540.1 C1147.4,542.1 1147.8,544.1 1148.3,546.0 C1148.7,548.0 1149.1,549.9 1149.5,551.9 C1149.9,553.9 1150.3,555.8 1150.7,557.8 C1151.1,559.7 1151.5,561.7 1151.9,563.7 C1152.2,565.6 1152.6,567.6 1153.0,569.5 C1153.4,571.5 1153.7,573.5 1154.1,575.4 C1154.5,577.4 1154.9,579.4 1155.2,581.3 C1155.6,583.3 1156.0,585.3 1156.3,587.2 C1156.7,589.2 1157.1,591.2 1157.4,593.1 C1157.8,595.1 1158.2,597.1 1158.6,599.0 C1158.9,601.0 1159.3,603.0 1159.7,604.9 C1160.0,606.9 1160.4,608.8 1160.8,610.8 C1161.1,612.8 1161.5,614.8 1161.8,616.7 C1162.2,618.7 1162.5,620.7 1162.8,622.6 C1163.2,624.6 1163.5,626.6 1163.9,628.5 C1164.2,630.5 1164.5,632.5 1164.9,634.5 C1165.2,636.4 1165.6,638.4 1165.9,640.4 C1166.2,642.3 1166.6,644.3 1166.9,646.3 C1167.3,648.3 1167.6,650.2 1167.9,652.2 C1168.3,654.2 1168.6,656.1 1168.9,658.1 C1169.3,660.1 1169.6,662.1 1169.9,664.0 C1170.2,666.0 1170.5,668.0 1170.8,670.0 C1171.1,671.9 1171.5,673.9 1171.8,675.9 C1172.1,677.9 1172.4,679.8 1172.7,681.8 C1173.0,683.8 1173.3,685.8 1173.6,687.7 C1173.9,689.7 1174.2,691.7 1174.5,693.7 C1174.8,695.7 1175.1,697.6 1175.5,699.6 C1175.8,701.6 1176.1,703.6 1176.4,705.5 C1176.7,707.5 1177.0,709.5 1177.3,711.5 C1177.7,713.4 1178.0,715.4 1178.3,717.4 C1178.7,719.3 1179.0,721.3 1179.4,723.3 C1179.7,725.3 1180.0,727.2 1180.4,729.2 C1180.7,731.2 1181.1,733.1 1181.4,735.1 C1181.7,737.1 1182.1,739.1 1182.4,741.0 C1182.7,743.0 1183.1,745.0 1183.4,746.9 C1183.8,748.9 1184.1,750.9 1184.4,752.9 C1184.8,754.8 1185.1,756.8 1185.5,758.8 C1185.8,760.7 1186.1,762.7 1186.5,764.7 C1186.8,766.7 1187.1,768.6 1187.5,770.6 C1187.8,772.6 1188.1,774.5 1188.5,776.5 C1188.8,778.5 1189.1,780.5 1189.5,782.4 C1189.8,784.4 1190.1,786.4 1190.5,788.3 C1190.8,790.3 1191.1,792.3 1191.5,794.3 C1191.8,796.2 1192.1,798.2 1192.5,800.2 C1192.8,802.1 1193.2,804.1 1193.5,806.1 C1193.9,808.1 1194.2,810.0 1194.6,812.0 C1194.9,814.0 1195.3,815.9 1195.7,817.9 C1196.0,819.9 1196.4,821.8 1196.8,823.8 C1197.2,825.7 1197.5,827.7 1197.9,829.7 C1198.3,831.6 1198.6,833.6 1199.0,835.6 C1199.4,837.5 1199.7,839.5 1200.1,841.5 C1200.5,843.4 1200.9,845.4 1201.2,847.4 C1201.6,849.3 1202.0,851.3 1202.3,853.3 C1202.7,855.2 1203.1,857.2 1203.5,859.2 C1203.8,861.1 1204.2,863.1 1204.6,865.1 C1205.0,867.0 1205.3,869.0 1205.7,870.9 C1206.1,872.9 1206.5,874.9 1206.8,876.8 C1207.2,878.8 1207.6,880.8 1208.0,882.7 C1208.3,884.7 1208.7,886.7 1209.1,888.6 C1209.5,890.6 1209.8,892.6 1210.2,894.5 C1210.6,896.5 1211.0,898.4 1211.4,900.4 C1211.7,902.4 1212.1,904.3 1212.5,906.3 C1212.9,908.2 1213.4,910.2 1213.8,912.2 C1214.2,914.1 1214.7,916.1 1215.1,918.0 C1215.5,920.0 1216.0,921.9 1216.4,923.9 C1216.9,925.8 1217.3,927.8 1217.8,929.7 C1218.2,931.7 1218.6,933.6 1219.1,935.6 C1219.5,937.5 1220.0,939.5 1220.4,941.4 C1220.8,943.4 1221.3,945.3 1221.7,947.3 C1222.2,949.2 1222.6,951.2 1223.1,953.1 C1223.6,955.1 1224.0,957.0 1224.5,958.9 C1225.0,960.9 1225.4,962.8 1225.9,964.8 C1226.4,966.7 1226.9,968.7 1227.4,970.6 C1227.8,972.5 1228.3,974.5 1228.8,976.4 C1229.3,978.4 1229.7,980.3 1230.2,982.3 C1230.7,984.2 1231.2,986.1 1231.7,988.1 C1232.1,990.0 1232.6,992.0 1233.1,993.9 C1233.6,995.8 1234.1,997.8 1234.6,999.7 C1235.1,1001.6 1235.6,1003.6 1236.2,1005.5 C1236.7,1007.4 1237.3,1009.3 1237.8,1011.3 C1238.4,1013.2 1239.0,1015.1 1239.5,1017.0 C1240.1,1018.9 1240.7,1020.9 1241.2,1022.8 C1241.8,1024.7 1242.3,1026.6 1242.9,1028.5 C1243.5,1030.5 1244.0,1032.4 1244.6,1034.3 C1245.2,1036.2 1245.7,1038.1 1246.3,1040.0 C1246.9,1042.0 1247.4,1043.9 1248.0,1045.8 C1248.6,1047.7 1249.3,1049.6 1249.9,1051.5 C1250.5,1053.4 1251.2,1055.3 1251.8,1057.2 C1252.5,1059.1 1253.2,1060.9 1253.8,1062.8 C1254.5,1064.7 1255.2,1066.6 1255.8,1068.5 C1256.5,1070.4 1257.2,1072.3 1257.8,1074.1 C1258.5,1076.0 1259.2,1077.9 1259.8,1079.8 C1260.5,1081.7 1261.1,1083.6 1261.8,1085.5 C1262.5,1087.3 1263.2,1089.2 1263.9,1091.1 C1264.6,1093.0 1265.3,1094.8 1266.1,1096.7 C1266.9,1098.5 1267.7,1100.3 1268.5,1102.2 C1269.3,1104.0 1270.1,1105.6 1271.0,1107.6 C1271.9,1109.6 1273.0,1112.0 1273.9,1114.0 C1274.9,1115.9 1275.6,1117.6 1276.5,1119.4 C1277.3,1121.2 1278.2,1123.0 1279.0,1124.8 C1279.9,1126.6 1280.7,1128.5 1281.6,1130.3 C1282.4,1132.1 1283.3,1133.9 1284.1,1135.7 C1285.0,1137.5 1285.9,1139.3 1286.8,1141.0 C1287.7,1142.8 1288.6,1144.6 1289.5,1146.4 C1290.5,1148.2 1291.4,1149.9 1292.3,1151.7 C1293.2,1153.5 1294.1,1155.3 1295.0,1157.1 C1295.9,1158.8 1296.9,1160.6 1297.8,1162.4 C1298.7,1164.2 1299.6,1166.0 1300.5,1167.7 C1301.4,1169.5 1302.3,1171.3 1303.3,1173.1 C1304.2,1174.8 1305.1,1176.6 1306.1,1178.4 C1307.0,1180.1 1308.0,1181.9 1309.0,1183.6 C1310.0,1185.3 1311.0,1187.1 1312.0,1188.8 C1313.0,1190.5 1314.0,1192.3 1315.0,1194.0 C1316.0,1195.7 1317.0,1197.5 1318.0,1199.2 C1319.0,1200.9 1320.0,1202.6 1321.0,1204.4 C1322.0,1206.1 1323.0,1207.8 1324.1,1209.6 C1325.1,1211.3 1326.1,1213.0 1327.1,1214.7 C1328.1,1216.5 1329.1,1218.2 1330.1,1219.9 C1331.1,1221.6 1332.1,1223.4 1333.2,1225.1 C1334.2,1226.8 1335.3,1228.5 1336.4,1230.2 C1337.4,1231.8 1338.5,1233.5 1339.6,1235.2 C1340.7,1236.9 1341.8,1238.6 1342.9,1240.2 C1343.9,1241.9 1345.0,1243.6 1346.1,1245.3 C1347.2,1247.0 1348.3,1248.6 1349.4,1250.3 C1350.5,1252.0 1351.6,1253.7 1352.6,1255.3 C1353.7,1257.0 1354.8,1258.7 1355.9,1260.4 C1357.0,1262.1 1358.1,1263.7 1359.2,1265.4 C1360.2,1267.1 1361.3,1268.8 1362.4,1270.5 C1363.5,1272.1 1364.6,1273.8 1365.6,1275.5 C1366.7,1277.2 1367.8,1278.9 1368.9,1280.6 C1369.9,1282.3 1371.0,1284.0 1372.1,1285.7 C1373.1,1287.3 1374.2,1289.0 1375.3,1290.7 C1376.3,1292.4 1377.4,1294.1 1378.5,1295.8 C1379.6,1297.5 1380.6,1299.2 1381.7,1300.9 C1382.8,1302.6 1383.8,1304.2 1384.9,1305.9 C1386.0,1307.6 1387.1,1309.3 1388.2,1310.9 C1389.4,1312.6 1390.5,1314.2 1391.7,1315.8 C1392.8,1317.5 1394.0,1319.1 1395.2,1320.7 C1396.4,1322.3 1397.5,1323.9 1398.7,1325.5 C1399.9,1327.2 1401.1,1328.8 1402.3,1330.4 C1403.4,1332.0 1404.6,1333.6 1405.8,1335.2 C1407.0,1336.9 1408.1,1338.5 1409.3,1340.1 C1410.5,1341.7 1411.7,1343.3 1412.9,1344.9 C1414.1,1346.5 1415.3,1348.1 1416.5,1349.7 C1417.7,1351.3 1418.9,1352.9 1420.1,1354.5 C1421.4,1356.1 1422.6,1357.6 1423.8,1359.2 C1425.0,1360.8 1426.2,1362.4 1427.5,1364.0 C1428.7,1365.6 1429.9,1367.1 1431.1,1368.7 C1432.4,1370.3 1433.6,1371.9 1434.8,1373.5 C1436.0,1375.1 1437.3,1376.6 1438.5,1378.2 C1439.7,1379.8 1441.0,1381.3 1442.2,1382.9 C1443.5,1384.4 1444.8,1386.0 1446.1,1387.5 C1447.4,1389.0 1448.7,1390.5 1450.0,1392.0 C1451.3,1393.5 1452.6,1395.0 1454.0,1396.5 C1455.3,1398.1 1456.6,1399.6 1457.9,1401.1 C1459.2,1402.6 1460.5,1404.1 1461.8,1405.6 C1463.1,1407.1 1464.5,1408.6 1465.8,1410.1 C1467.1,1411.6 1468.4,1413.1 1469.8,1414.6 C1471.1,1416.1 1472.5,1417.5 1473.9,1418.9 C1475.3,1420.3 1476.8,1421.7 1478.3,1423.0 C1479.7,1424.4 1481.2,1425.7 1482.7,1427.1 C1484.2,1428.4 1485.7,1429.7 1487.2,1431.1 C1488.7,1432.4 1490.2,1433.7 1491.7,1435.1 C1493.2,1436.4 1494.6,1437.7 1496.1,1439.0 C1497.6,1440.4 1499.1,1441.7 1500.7,1443.0 C1502.2,1444.2 1503.8,1445.5 1505.4,1446.6 C1507.0,1447.8 1508.7,1448.8 1510.4,1449.9 C1512.1,1450.9 1513.9,1451.9 1515.6,1452.9 C1517.3,1453.9 1519.1,1454.8 1520.8,1455.8 C1522.6,1456.8 1524.3,1457.8 1526.1,1458.7 C1527.9,1459.6 1529.6,1460.5 1531.4,1461.3 C1533.3,1462.2 1535.1,1463.0 1536.9,1463.8 C1538.8,1464.6 1540.6,1465.3 1542.5,1466.1 C1544.3,1466.9 1546.1,1467.6 1548.0,1468.5 C1549.8,1469.3 1551.6,1470.1 1553.4,1471.0 C1555.2,1471.8 1557.0,1472.7 1558.8,1473.6 C1560.6,1474.5 1562.4,1475.4 1564.1,1476.3 C1565.9,1477.3 1567.6,1478.3 1569.4,1479.2 C1571.2,1480.1 1572.9,1481.1 1574.7,1481.9 C1576.5,1482.8 1578.4,1483.5 1580.2,1484.2 C1582.1,1484.9 1584.0,1485.5 1585.9,1486.1 C1587.8,1486.7 1589.7,1487.2 1591.7,1487.6 C1593.6,1488.0 1595.5,1488.5 1597.4,1488.6 C1599.4,1488.7 1601.3,1488.7 1603.2,1488.4 C1605.1,1488.2 1607.0,1487.7 1608.9,1487.2 C1610.8,1486.7 1612.8,1486.1 1614.6,1485.4 C1616.5,1484.7 1618.3,1483.9 1620.0,1483.0 C1621.8,1482.1 1623.4,1481.1 1625.0,1479.9 C1626.6,1478.7 1628.1,1477.4 1629.5,1476.1 C1630.9,1474.7 1632.2,1473.2 1633.4,1471.6 C1634.6,1470.1 1635.7,1468.4 1636.9,1466.8 C1638.0,1465.2 1639.2,1463.5 1640.4,1461.9 C1641.5,1460.3 1642.7,1458.7 1644.0,1457.1 C1645.2,1455.5 1646.4,1454.0 1647.7,1452.4 C1649.0,1450.9 1650.3,1449.4 1651.6,1447.8 C1652.9,1446.3 1654.2,1444.8 1655.5,1443.3 C1656.9,1441.8 1658.2,1440.4 1659.6,1438.9 C1661.0,1437.5 1662.3,1436.0 1663.8,1434.6 C1665.2,1433.2 1666.7,1431.9 1668.2,1430.5 C1669.6,1429.2 1671.1,1427.8 1672.7,1426.6 C1674.2,1425.3 1675.7,1424.1 1677.4,1423.0 C1679.0,1421.9 1680.8,1421.0 1682.5,1420.1 C1684.3,1419.3 1686.2,1418.5 1688.0,1417.8 C1689.9,1417.1 1691.7,1416.4 1693.6,1415.9 C1695.5,1415.3 1697.5,1414.8 1699.4,1414.4 C1701.4,1414.0 1703.3,1413.8 1705.3,1413.6 C1707.3,1413.4 1709.3,1413.2 1711.3,1413.1 C1713.3,1413.1 1715.3,1413.0 1717.2,1413.0 C1719.2,1413.1 1721.2,1413.2 1723.2,1413.5 C1725.1,1413.7 1727.1,1414.1 1729.1,1414.4 C1731.0,1414.8 1733.0,1415.2 1734.9,1415.6 C1736.9,1416.0 1738.9,1416.4 1740.8,1416.8 C1742.8,1417.2 1744.7,1417.6 1746.7,1418.1 C1748.6,1418.5 1750.6,1418.9 1752.5,1419.3 C1754.5,1419.8 1756.5,1420.2 1758.4,1420.6 C1760.4,1421.1 1762.3,1421.5 1764.3,1421.9 C1766.2,1422.4 1768.2,1422.8 1770.1,1423.3 C1772.1,1423.7 1774.0,1424.1 1776.0,1424.5 C1777.9,1424.9 1779.9,1425.3 1781.9,1425.7 C1783.8,1426.0 1785.8,1426.3 1787.8,1426.7 C1789.7,1427.0 1791.7,1427.3 1793.7,1427.7 C1795.7,1428.0 1797.6,1428.3 1799.6,1428.7 C1801.6,1429.0 1803.5,1429.4 1805.5,1429.9 C1807.4,1430.3 1809.4,1430.7 1811.3,1431.2 C1813.3,1431.7 1815.2,1432.1 1817.1,1432.7 C1819.0,1433.3 1820.9,1433.9 1822.7,1434.7 C1824.4,1435.5 1826.2,1436.5 1827.8,1437.6 C1829.4,1438.7 1830.9,1440.0 1832.3,1441.3 C1833.7,1442.7 1835.0,1444.2 1836.3,1445.7 C1837.5,1447.3 1838.7,1448.9 1839.9,1450.5 C1841.1,1452.1 1842.3,1453.7 1843.4,1455.3 C1844.6,1457.0 1845.7,1458.6 1846.9,1460.2 C1848.0,1461.9 1849.2,1463.5 1850.3,1465.2 C1851.4,1466.9 1852.5,1468.5 1853.5,1470.2 C1854.6,1471.9 1855.6,1473.7 1856.5,1475.3 C1857.5,1477.0 1858.5,1478.7 1859.4,1480.3 C1860.3,1481.9 1861.6,1484.2 1862.0,1485.0" stroke="#00ffff" stroke-width="5.6" stroke-dasharray="19.4 29.1" stroke-dashoffset="18.9" stroke-linecap="round"/>
<path d="M316.0,1451.8 C317.0,1451.9 320.0,1452.3 322.0,1452.5 C323.9,1452.8 325.9,1453.0 327.9,1453.3 C329.9,1453.6 331.9,1453.9 333.8,1454.1 C335.8,1454.4 337.8,1454.7 339.8,1455.0 C341.8,1455.3 343.7,1455.6 345.7,1455.9 C347.7,1456.2 349.7,1456.4 351.7,1456.7 C353.6,1457.0 355.6,1457.3 357.6,1457.5 C359.6,1457.8 361.6,1458.0 363.6,1458.3 C365.5,1458.5 367.5,1458.7 369.5,1459.0 C371.5,1459.2 373.5,1459.5 375.5,1459.7 C377.5,1459.9 379.4,1460.2 381.4,1460.4 C383.4,1460.6 385.4,1460.9 387.4,1461.1 C389.4,1461.3 391.4,1461.6 393.3,1461.8 C395.3,1462.0 397.3,1462.3 399.3,1462.5 C401.3,1462.7 403.3,1463.0 405.3,1463.2 C407.3,1463.4 409.4,1463.7 411.2,1463.9 C413.0,1464.1 414.4,1464.3 416.2,1464.5 C418.0,1464.8 420.1,1465.1 422.1,1465.3 C424.1,1465.6 426.1,1465.9 428.1,1466.1 C430.1,1466.4 432.0,1466.7 434.0,1466.9 C436.0,1467.2 438.0,1467.5 440.0,1467.7 C442.0,1467.9 443.9,1468.1 445.9,1468.3 C447.9,1468.5 449.9,1468.7 451.9,1468.9 C453.9,1469.0 455.9,1469.2 457.9,1469.3 C459.9,1469.5 461.9,1469.7 463.9,1469.8 C465.9,1470.0 467.9,1470.1 469.9,1470.2 C471.9,1470.4 473.9,1470.5 475.8,1470.6 C477.8,1470.7 479.8,1470.8 481.8,1470.9 C483.8,1471.0 485.8,1471.1 487.8,1471.2 C489.8,1471.3 491.8,1471.4 493.8,1471.4 C495.8,1471.4 497.8,1471.5 499.8,1471.4 C501.7,1471.4 503.7,1471.2 505.5,1471.1 C507.4,1470.9 509.4,1471.3 511.0,1470.5 C512.6,1469.7 513.7,1467.6 514.9,1466.0 C516.0,1464.5 517.1,1462.8 518.1,1461.1 C519.1,1459.4 519.9,1457.6 520.7,1455.8 C521.6,1454.0 522.3,1452.1 523.1,1450.3 C523.8,1448.4 524.5,1446.5 525.2,1444.7 C526.0,1442.8 526.7,1440.9 527.4,1439.1 C528.1,1437.2 528.8,1435.3 529.4,1433.4 C530.1,1431.5 530.7,1429.6 531.2,1427.7 C531.8,1425.8 532.4,1423.9 532.9,1422.0 C533.5,1420.0 534.0,1418.1 534.5,1416.2 C535.1,1414.2 535.6,1412.3 536.1,1410.4 C536.7,1408.5 537.2,1406.5 537.8,1404.6 C538.3,1402.7 538.9,1400.8 539.5,1398.9 C540.1,1397.0 540.7,1395.1 541.3,1393.2 C541.9,1391.3 542.5,1389.4 543.2,1387.5 C543.8,1385.6 544.4,1383.7 545.0,1381.8 C545.7,1379.9 546.3,1378.0 546.9,1376.1 C547.5,1374.1 548.1,1372.2 548.7,1370.3 C549.3,1368.4 549.8,1366.5 550.4,1364.6 C551.0,1362.7 551.6,1360.8 552.2,1358.8 C552.7,1356.9 553.3,1355.0 553.9,1353.1 C554.4,1351.2 555.0,1349.3 555.6,1347.3 C556.1,1345.4 556.7,1343.5 557.3,1341.6 C557.8,1339.7 558.4,1337.7 558.9,1335.8 C559.5,1333.9 560.1,1332.0 560.6,1330.1 C561.2,1328.1 561.7,1326.2 562.3,1324.3 C562.9,1322.4 563.4,1320.5 564.0,1318.6 C564.6,1316.6 565.2,1314.7 565.9,1312.8 C566.5,1310.9 567.2,1309.1 567.8,1307.2 C568.5,1305.3 569.2,1303.4 569.9,1301.5 C570.5,1299.7 571.2,1297.8 571.9,1295.9 C572.5,1294.0 573.2,1292.1 573.8,1290.2 C574.5,1288.3 575.1,1286.4 575.7,1284.5 C576.4,1282.6 577.0,1280.7 577.7,1278.8 C578.3,1277.0 579.0,1275.1 579.7,1273.2 C580.4,1271.3 581.2,1269.5 581.9,1267.6 C582.6,1265.8 583.4,1263.9 584.2,1262.1 C585.0,1260.2 585.7,1258.4 586.5,1256.5 C587.2,1254.7 588.0,1252.8 588.7,1251.0 C589.4,1249.1 590.1,1247.2 590.9,1245.4 C591.6,1243.5 592.3,1241.6 593.0,1239.8 C593.7,1237.9 594.5,1236.0 595.3,1234.2 C596.1,1232.4 596.9,1230.6 597.8,1228.8 C598.7,1227.0 599.6,1225.2 600.6,1223.5 C601.5,1221.7 602.5,1220.0 603.5,1218.2 C604.4,1216.5 605.4,1214.8 606.4,1213.0 C607.5,1211.3 608.5,1209.6 609.5,1207.9 C610.5,1206.1 611.6,1204.4 612.6,1202.7 C613.7,1201.0 614.7,1199.3 615.8,1197.7 C616.9,1196.0 618.0,1194.3 619.2,1192.7 C620.3,1191.0 621.4,1189.4 622.6,1187.8 C623.8,1186.2 625.0,1184.6 626.3,1183.1 C627.5,1181.5 628.8,1180.0 630.2,1178.5 C631.5,1177.0 632.9,1175.6 634.3,1174.2 C635.7,1172.8 637.1,1171.4 638.7,1170.3 C640.3,1169.1 641.9,1168.0 643.6,1167.1 C645.4,1166.2 647.2,1165.4 649.0,1164.7 C650.9,1164.0 652.8,1163.3 654.6,1162.9 C656.5,1162.5 658.4,1162.3 660.2,1162.3 C662.1,1162.4 664.0,1162.8 665.8,1163.3 C667.7,1163.7 669.6,1164.5 671.4,1165.3 C673.2,1166.0 675.0,1166.9 676.6,1167.9 C678.3,1168.9 680.0,1170.0 681.5,1171.2 C683.1,1172.4 684.6,1173.7 686.1,1175.1 C687.6,1176.4 689.0,1177.8 690.4,1179.2 C691.8,1180.7 693.1,1182.2 694.3,1183.7 C695.6,1185.2 696.8,1186.9 697.9,1188.5 C699.1,1190.1 700.3,1191.7 701.4,1193.4 C702.5,1195.0 703.6,1196.7 704.7,1198.4 C705.7,1200.1 706.7,1201.8 707.6,1203.6 C708.5,1205.3 709.4,1207.1 710.3,1208.9 C711.2,1210.7 712.1,1212.5 712.9,1214.3 C713.7,1216.2 714.5,1218.0 715.3,1219.8 C716.1,1221.6 716.9,1223.5 717.6,1225.4 C718.4,1227.2 719.1,1229.1 719.8,1230.9 C720.6,1232.8 721.3,1234.6 722.1,1236.5 C722.9,1238.3 723.6,1240.2 724.4,1242.0 C725.2,1243.9 726.0,1245.7 726.8,1247.5 C727.5,1249.4 728.3,1251.2 729.1,1253.1 C729.8,1254.9 730.6,1256.8 731.3,1258.7 C731.9,1260.5 732.5,1262.4 733.1,1264.3 C733.7,1266.2 734.3,1268.2 734.9,1270.1 C735.4,1272.0 736.0,1273.9 736.5,1275.8 C737.1,1277.8 737.7,1279.7 738.3,1281.6 C738.9,1283.5 739.5,1285.4 740.1,1287.3 C740.7,1289.2 741.4,1291.1 742.0,1293.0 C742.6,1294.9 743.3,1296.8 743.9,1298.7 C744.6,1300.5 745.3,1302.4 746.0,1304.3 C746.7,1306.2 747.4,1308.0 748.2,1309.9 C748.9,1311.7 749.7,1313.6 750.4,1315.5 C751.2,1317.3 751.9,1319.2 752.7,1321.0 C753.5,1322.8 754.3,1324.7 755.1,1326.5 C755.8,1328.4 756.6,1330.2 757.5,1332.0 C758.3,1333.8 759.1,1335.7 759.9,1337.5 C760.8,1339.3 761.7,1341.1 762.6,1342.8 C763.5,1344.6 764.5,1346.4 765.5,1348.1 C766.5,1349.8 767.5,1351.5 768.6,1353.2 C769.6,1354.9 770.7,1356.6 771.8,1358.2 C773.0,1359.9 774.2,1361.5 775.4,1363.1 C776.6,1364.6 777.9,1366.2 779.1,1367.7 C780.4,1369.2 781.7,1370.7 783.1,1372.1 C784.6,1373.5 786.0,1374.8 787.6,1376.0 C789.2,1377.2 790.9,1378.2 792.6,1379.2 C794.3,1380.2 796.0,1381.2 797.8,1381.8 C799.6,1382.5 801.4,1383.1 803.2,1383.3 C805.1,1383.5 807.0,1383.4 808.9,1383.1 C810.7,1382.9 812.7,1382.4 814.5,1381.8 C816.4,1381.2 818.2,1380.4 819.9,1379.5 C821.6,1378.6 823.1,1377.4 824.6,1376.2 C826.2,1375.0 827.6,1373.5 829.0,1372.1 C830.4,1370.8 831.8,1369.3 833.1,1367.8 C834.4,1366.3 835.7,1364.8 836.8,1363.2 C838.0,1361.6 839.1,1359.9 840.1,1358.2 C841.2,1356.5 842.2,1354.8 843.2,1353.1 C844.2,1351.3 845.2,1349.6 846.1,1347.8 C847.0,1346.1 847.9,1344.3 848.8,1342.5 C849.6,1340.7 850.5,1338.8 851.3,1337.0 C852.1,1335.2 852.9,1333.4 853.6,1331.5 C854.4,1329.7 855.2,1327.8 855.9,1326.0 C856.7,1324.1 857.4,1322.3 858.1,1320.4 C858.8,1318.5 859.5,1316.6 860.2,1314.7 C860.8,1312.9 861.5,1311.0 862.2,1309.1 C862.8,1307.2 863.4,1305.3 864.0,1303.4 C864.6,1301.5 865.1,1299.6 865.7,1297.6 C866.2,1295.7 866.7,1293.8 867.2,1291.8 C867.7,1289.9 868.2,1287.9 868.7,1286.0 C869.2,1284.1 869.7,1282.2 870.3,1280.2 C870.9,1278.3 871.4,1276.4 872.0,1274.5 C872.6,1272.6 873.3,1270.7 873.8,1268.8 C874.4,1266.9 875.0,1265.0 875.6,1263.0 C876.2,1261.1 876.7,1259.2 877.2,1257.3 C877.7,1255.3 878.2,1253.4 878.6,1251.4 C879.1,1249.5 879.6,1247.6 880.0,1245.6 C880.5,1243.7 880.9,1241.7 881.4,1239.8 C881.8,1237.8 882.2,1235.9 882.7,1233.9 C883.1,1232.0 883.5,1230.0 883.9,1228.0 C884.4,1226.1 884.8,1224.1 885.2,1222.2 C885.7,1220.2 886.1,1218.3 886.5,1216.3 C887.0,1214.4 887.4,1212.4 887.9,1210.5 C888.4,1208.5 888.8,1206.6 889.3,1204.7 C889.8,1202.7 890.3,1200.8 890.8,1198.8 C891.2,1196.9 891.7,1194.9 892.1,1193.0 C892.6,1191.0 893.0,1189.1 893.4,1187.1 C893.8,1185.2 894.2,1183.2 894.6,1181.2 C895.0,1179.3 895.4,1177.3 895.7,1175.4 C896.1,1173.4 896.5,1171.4 896.8,1169.5 C897.2,1167.5 897.5,1165.5 897.9,1163.6 C898.2,1161.6 898.5,1159.6 898.9,1157.6 C899.2,1155.7 899.5,1153.7 899.9,1151.7 C900.2,1149.7 900.5,1147.8 900.8,1145.8 C901.1,1143.8 901.4,1141.8 901.7,1139.9 C902.1,1137.9 902.4,1135.9 902.7,1133.9 C903.0,1132.0 903.3,1130.0 903.6,1128.0 C903.9,1126.0 904.2,1124.1 904.6,1122.1 C904.9,1120.1 905.2,1118.1 905.5,1116.2 C905.9,1114.2 906.2,1112.2 906.5,1110.3 C906.9,1108.3 907.2,1106.3 907.5,1104.3 C907.9,1102.4 908.2,1100.4 908.6,1098.4 C908.9,1096.5 909.2,1094.5 909.6,1092.5 C909.9,1090.5 910.3,1088.6 910.6,1086.6 C910.9,1084.6 911.2,1082.6 911.5,1080.7 C911.9,1078.7 912.2,1076.7 912.5,1074.7 C912.8,1072.8 913.0,1070.8 913.3,1068.8 C913.6,1066.8 913.9,1064.9 914.2,1062.9 C914.5,1060.9 914.7,1058.9 915.0,1056.9 C915.2,1054.9 915.5,1053.0 915.7,1051.0 C916.0,1049.0 916.2,1047.0 916.4,1045.0 C916.7,1043.0 917.0,1041.0 917.3,1039.1 C917.6,1037.1 917.9,1035.1 918.2,1033.1 C918.5,1031.2 918.9,1029.2 919.2,1027.2 C919.5,1025.3 919.9,1023.3 920.2,1021.3 C920.5,1019.3 920.8,1017.4 921.1,1015.4 C921.4,1013.4 921.7,1011.4 922.0,1009.5 C922.3,1007.5 922.6,1005.5 922.9,1003.5 C923.2,1001.5 923.4,999.6 923.7,997.6 C924.0,995.6 924.2,993.6 924.5,991.6 C924.8,989.6 925.0,987.7 925.3,985.7 C925.6,983.7 925.8,981.7 926.1,979.7 C926.4,977.8 926.6,975.8 926.9,973.8 C927.2,971.8 927.4,969.8 927.7,967.8 C928.0,965.9 928.2,963.9 928.5,961.9 C928.8,959.9 929.1,957.9 929.3,956.0 C929.6,954.0 929.9,952.0 930.1,950.0 C930.4,948.0 930.7,946.0 931.0,944.1 C931.2,942.1 931.5,940.1 931.8,938.1 C932.1,936.1 932.4,934.2 932.7,932.2 C932.9,930.2 933.3,928.2 933.6,926.3 C933.9,924.3 934.2,922.3 934.6,920.3 C934.9,918.4 935.3,916.4 935.6,914.4 C935.9,912.5 936.3,910.5 936.6,908.5 C936.9,906.5 937.2,904.6 937.5,902.6 C937.8,900.6 938.1,898.6 938.4,896.7 C938.7,894.7 939.0,892.7 939.3,890.7 C939.6,888.7 939.9,886.8 940.2,884.8 C940.5,882.8 940.8,880.8 941.1,878.9 C941.4,876.9 941.7,874.9 942.0,872.9 C942.3,870.9 942.6,869.0 942.9,867.0 C943.2,865.0 943.5,863.0 943.8,861.1 C944.0,859.1 944.3,857.1 944.6,855.1 C944.9,853.1 945.1,851.1 945.4,849.2 C945.7,847.2 946.0,845.2 946.3,843.2 C946.6,841.3 946.9,839.3 947.2,837.3 C947.6,835.3 947.9,833.4 948.2,831.4 C948.6,829.4 948.9,827.4 949.2,825.5 C949.6,823.5 949.9,821.5 950.2,819.6 C950.6,817.6 950.9,815.6 951.2,813.6 C951.5,811.7 951.9,809.7 952.2,807.7 C952.5,805.7 952.8,803.8 953.1,801.8 C953.5,799.8 953.8,797.9 954.1,795.9 C954.4,793.9 954.8,791.9 955.1,790.0 C955.4,788.0 955.8,786.0 956.1,784.0 C956.4,782.1 956.7,780.1 957.0,778.1 C957.3,776.1 957.6,774.2 957.9,772.2 C958.3,770.2 958.6,768.2 958.9,766.3 C959.2,764.3 959.5,762.3 959.8,760.3 C960.1,758.3 960.4,756.4 960.7,754.4 C961.0,752.4 961.4,750.5 961.7,748.5 C962.0,746.5 962.3,744.5 962.7,742.6 C963.0,740.6 963.3,738.6 963.7,736.6 C964.0,734.7 964.4,732.7 964.7,730.7 C965.0,728.8 965.4,726.8 965.8,724.8 C966.1,722.9 966.5,720.9 966.8,718.9 C967.2,717.0 967.5,715.0 967.9,713.0 C968.3,711.1 968.6,709.1 969.0,707.1 C969.4,705.2 969.8,703.2 970.1,701.2 C970.5,699.3 970.9,697.3 971.3,695.3 C971.7,693.4 972.0,691.4 972.4,689.4 C972.8,687.5 973.2,685.5 973.6,683.6 C973.9,681.6 974.3,679.6 974.7,677.7 C975.1,675.7 975.5,673.7 975.8,671.8 C976.2,669.8 976.5,667.8 976.9,665.9 C977.2,663.9 977.6,661.9 977.9,660.0 C978.2,658.0 978.6,656.0 978.9,654.0 C979.3,652.1 979.6,650.1 980.0,648.1 C980.4,646.2 980.8,644.2 981.2,642.3 C981.6,640.3 982.0,638.3 982.4,636.4 C982.8,634.4 983.2,632.5 983.6,630.5 C984.0,628.5 984.4,626.6 984.7,624.6 C985.1,622.7 985.4,620.9 985.8,618.7 C986.2,616.6 986.7,614.0 987.0,611.8 C987.4,609.7 987.7,607.9 988.1,605.9 C988.4,603.9 988.8,602.0 989.1,600.0 C989.5,598.0 989.8,596.1 990.2,594.1 C990.5,592.1 990.9,590.2 991.3,588.2 C991.6,586.2 992.0,584.3 992.4,582.3 C992.8,580.3 993.2,578.4 993.6,576.4 C994.0,574.5 994.4,572.5 994.8,570.5 C995.2,568.6 995.6,566.6 996.0,564.7 C996.4,562.7 996.8,560.7 997.2,558.8 C997.6,556.8 998.0,554.9 998.4,552.9 C998.8,551.0 999.2,549.0 999.6,547.0 C1000.0,545.1 1000.4,543.1 1000.8,541.2 C1001.3,539.2 1001.7,537.3 1002.2,535.3 C1002.6,533.4 1003.1,531.4 1003.6,529.5 C1004.0,527.5 1004.5,525.6 1005.0,523.7 C1005.5,521.7 1005.9,519.8 1006.4,517.8 C1006.9,515.9 1007.4,513.9 1007.8,512.0 C1008.3,510.1 1008.8,508.1 1009.3,506.2 C1009.7,504.2 1010.2,502.3 1010.7,500.3 C1011.1,498.4 1011.6,496.4 1012.0,494.5 C1012.5,492.5 1012.9,490.6 1013.3,488.6 C1013.7,486.7 1014.1,484.7 1014.5,482.8 C1015.0,480.8 1015.4,478.9 1015.9,476.9 C1016.4,475.0 1016.9,473.0 1017.4,471.1 C1017.9,469.2 1018.5,467.3 1019.1,465.4 C1019.6,463.4 1020.2,461.5 1020.8,459.6 C1021.4,457.7 1022.0,455.8 1022.5,453.9 C1023.1,452.0 1023.7,450.0 1024.3,448.1 C1024.9,446.2 1025.4,444.3 1026.0,442.4 C1026.6,440.5 1027.2,438.6 1027.8,436.7 C1028.5,434.8 1029.1,432.9 1029.8,431.0 C1030.5,429.1 1031.2,427.3 1032.0,425.4 C1032.7,423.6 1033.5,421.7 1034.2,419.9 C1035.0,418.0 1035.8,416.2 1036.7,414.4 C1037.6,412.7 1038.6,410.9 1039.6,409.2 C1040.7,407.5 1041.8,405.9 1042.9,404.2 C1044.1,402.6 1045.2,401.0 1046.5,399.4 C1047.7,397.9 1049.0,396.3 1050.4,395.0 C1051.8,393.7 1053.3,392.5 1054.9,391.7 C1056.5,390.8 1058.2,390.2 1059.9,390.1 C1061.6,390.0 1063.4,390.4 1065.0,391.1 C1066.7,391.7 1068.2,392.9 1069.7,394.1 C1071.2,395.3 1072.6,396.8 1073.9,398.2 C1075.2,399.7 1076.5,401.2 1077.8,402.7 C1079.1,404.3 1080.3,405.8 1081.5,407.5 C1082.7,409.1 1083.8,410.7 1084.9,412.4 C1086.0,414.1 1087.0,415.8 1088.0,417.5 C1089.0,419.2 1090.0,420.9 1091.0,422.7 C1091.9,424.4 1092.9,426.2 1093.8,428.0 C1094.7,429.8 1095.5,431.6 1096.4,433.4 C1097.2,435.2 1098.0,437.0 1098.8,438.9 C1099.6,440.7 1100.4,442.5 1101.2,444.4 C1102.0,446.2 1102.7,448.1 1103.5,449.9 C1104.3,451.7 1105.1,453.6 1105.9,455.4 C1106.7,457.3 1107.4,459.1 1108.2,460.9 C1109.0,462.8 1109.7,464.6 1110.5,466.5 C1111.2,468.4 1111.9,470.2 1112.5,472.1 C1113.2,474.0 1113.9,475.9 1114.5,477.8 C1115.1,479.7 1115.8,481.6 1116.4,483.5 C1117.0,485.4 1117.6,487.3 1118.2,489.2 C1118.7,491.1 1119.3,493.1 1119.8,495.0 C1120.4,496.9 1120.9,498.8 1121.4,500.8 C1122.0,502.7 1122.5,504.6 1123.1,506.5 C1123.6,508.5 1124.2,510.4 1124.8,512.3 C1125.3,514.2 1125.9,516.1 1126.5,518.0 C1127.1,519.9 1127.8,521.8 1128.4,523.7 C1128.9,525.6 1129.5,527.6 1130.1,529.5 C1130.7,531.4 1131.2,533.3 1131.7,535.3 C1132.2,537.2 1132.7,539.1 1133.2,541.1 C1133.7,543.0 1134.1,544.9 1134.6,546.9 C1135.1,548.8 1135.5,550.8 1136.0,552.7 C1136.4,554.7 1136.9,556.6 1137.3,558.6 C1137.7,560.5 1138.1,562.5 1138.5,564.5 C1139.0,566.4 1139.4,568.4 1139.8,570.3 C1140.2,572.3 1140.7,574.2 1141.1,576.2 C1141.6,578.1 1142.0,580.1 1142.5,582.0 C1143.0,584.0 1143.5,585.9 1143.9,587.8 C1144.4,589.8 1144.8,591.7 1145.3,593.7 C1145.7,595.6 1146.2,597.6 1146.6,599.5 C1147.0,601.5 1147.4,603.5 1147.8,605.4 C1148.3,607.4 1148.7,609.3 1149.1,611.3 C1149.4,613.2 1149.8,615.2 1150.2,617.2 C1150.6,619.1 1151.0,621.1 1151.3,623.1 C1151.7,625.0 1152.1,627.0 1152.4,629.0 C1152.8,630.9 1153.1,632.9 1153.5,634.9 C1153.8,636.8 1154.2,638.8 1154.5,640.8 C1154.9,642.7 1155.2,644.7 1155.6,646.7 C1155.9,648.7 1156.2,650.6 1156.6,652.6 C1156.9,654.6 1157.3,656.5 1157.6,658.5 C1158.0,660.5 1158.3,662.4 1158.7,664.4 C1159.1,666.4 1159.4,668.3 1159.8,670.3 C1160.2,672.3 1160.5,674.2 1160.9,676.2 C1161.2,678.2 1161.6,680.1 1162.0,682.1 C1162.3,684.1 1162.7,686.1 1163.0,688.0 C1163.4,690.0 1163.7,692.0 1164.0,693.9 C1164.4,695.9 1164.7,697.9 1165.1,699.8 C1165.4,701.8 1165.8,703.8 1166.1,705.8 C1166.5,707.7 1166.8,709.7 1167.1,711.7 C1167.5,713.6 1167.8,715.6 1168.2,717.6 C1168.5,719.5 1168.9,721.5 1169.2,723.5 C1169.5,725.5 1169.9,727.4 1170.2,729.4 C1170.6,731.4 1170.9,733.3 1171.3,735.3 C1171.6,737.3 1171.9,739.2 1172.3,741.2 C1172.6,743.2 1173.0,745.2 1173.3,747.1 C1173.6,749.1 1173.9,751.1 1174.2,753.1 C1174.6,755.0 1174.9,757.0 1175.2,759.0 C1175.5,761.0 1175.8,762.9 1176.1,764.9 C1176.4,766.9 1176.7,768.9 1177.0,770.8 C1177.3,772.8 1177.6,774.8 1177.9,776.8 C1178.2,778.8 1178.5,780.7 1178.9,782.7 C1179.2,784.7 1179.5,786.7 1179.8,788.6 C1180.1,790.6 1180.4,792.6 1180.8,794.5 C1181.1,796.5 1181.5,798.5 1181.8,800.5 C1182.1,802.4 1182.5,804.4 1182.8,806.4 C1183.2,808.3 1183.5,810.3 1183.9,812.3 C1184.2,814.3 1184.5,816.2 1184.9,818.2 C1185.2,820.2 1185.6,822.1 1185.9,824.1 C1186.3,826.1 1186.6,828.0 1186.9,830.0 C1187.3,832.0 1187.6,834.0 1187.9,835.9 C1188.2,837.9 1188.5,839.9 1188.8,841.9 C1189.1,843.8 1189.4,845.8 1189.7,847.8 C1190.0,849.8 1190.4,851.7 1190.7,853.7 C1191.0,855.7 1191.3,857.7 1191.7,859.6 C1192.1,861.6 1192.4,863.6 1192.8,865.5 C1193.2,867.5 1193.5,869.5 1193.9,871.4 C1194.3,873.4 1194.7,875.4 1195.0,877.3 C1195.4,879.3 1195.8,881.3 1196.1,883.2 C1196.5,885.2 1196.8,887.2 1197.2,889.1 C1197.5,891.1 1197.9,893.1 1198.2,895.0 C1198.6,897.0 1198.9,899.0 1199.3,900.9 C1199.6,902.9 1199.9,904.9 1200.3,906.9 C1200.6,908.8 1200.9,910.8 1201.3,912.8 C1201.6,914.7 1201.9,916.7 1202.3,918.7 C1202.6,920.7 1203.0,922.6 1203.4,924.6 C1203.8,926.5 1204.2,928.5 1204.6,930.5 C1204.9,932.4 1205.4,934.4 1205.8,936.3 C1206.2,938.3 1206.6,940.3 1207.0,942.2 C1207.4,944.2 1207.8,946.1 1208.2,948.1 C1208.6,950.0 1209.1,952.0 1209.5,954.0 C1209.9,955.9 1210.3,957.9 1210.7,959.8 C1211.1,961.8 1211.5,963.8 1211.9,965.7 C1212.2,967.7 1212.5,969.7 1212.9,971.6 C1213.2,973.6 1213.5,975.6 1213.8,977.6 C1214.2,979.5 1214.5,981.5 1214.8,983.5 C1215.2,985.4 1215.6,987.4 1216.0,989.4 C1216.4,991.3 1216.8,993.3 1217.2,995.2 C1217.7,997.2 1218.1,999.1 1218.6,1001.1 C1219.1,1003.0 1219.5,1004.9 1220.0,1006.9 C1220.5,1008.8 1221.0,1010.8 1221.5,1012.7 C1222.0,1014.6 1222.5,1016.6 1223.0,1018.5 C1223.5,1020.5 1224.0,1022.4 1224.5,1024.3 C1224.9,1026.3 1225.4,1028.2 1225.9,1030.1 C1226.4,1032.1 1226.9,1034.0 1227.4,1036.0 C1227.9,1037.9 1228.4,1039.8 1228.8,1041.8 C1229.3,1043.7 1229.8,1045.7 1230.3,1047.6 C1230.8,1049.5 1231.3,1051.5 1231.8,1053.4 C1232.3,1055.4 1232.8,1057.3 1233.3,1059.2 C1233.8,1061.2 1234.4,1063.1 1234.9,1065.0 C1235.4,1066.9 1235.9,1068.9 1236.4,1070.8 C1236.9,1072.7 1237.5,1074.7 1238.0,1076.6 C1238.5,1078.5 1239.0,1080.5 1239.5,1082.4 C1240.0,1084.3 1240.6,1086.3 1241.1,1088.2 C1241.6,1090.1 1242.2,1092.0 1242.7,1094.0 C1243.2,1095.9 1243.8,1097.8 1244.4,1099.7 C1244.9,1101.7 1245.5,1103.6 1246.1,1105.5 C1246.7,1107.4 1247.2,1109.3 1247.9,1111.2 C1248.5,1113.1 1249.1,1115.0 1249.8,1116.9 C1250.5,1118.7 1251.3,1120.6 1252.0,1122.5 C1252.7,1124.3 1253.5,1126.2 1254.2,1128.0 C1254.9,1129.9 1255.6,1131.8 1256.3,1133.7 C1257.0,1135.5 1257.7,1137.4 1258.4,1139.3 C1259.0,1141.2 1259.7,1143.1 1260.3,1145.0 C1261.0,1146.9 1261.6,1148.8 1262.3,1150.6 C1262.9,1152.5 1263.6,1154.4 1264.3,1156.3 C1265.0,1158.2 1265.7,1160.0 1266.4,1161.9 C1267.2,1163.8 1267.9,1165.6 1268.6,1167.5 C1269.4,1169.3 1270.1,1171.2 1270.9,1173.0 C1271.6,1174.9 1272.3,1176.8 1273.1,1178.6 C1273.9,1180.5 1274.6,1182.3 1275.4,1184.2 C1276.2,1186.0 1276.9,1187.8 1277.7,1189.7 C1278.5,1191.5 1279.3,1193.3 1280.2,1195.1 C1281.1,1196.9 1282.0,1198.7 1282.9,1200.5 C1283.9,1202.2 1284.8,1204.0 1285.8,1205.7 C1286.8,1207.5 1287.7,1209.2 1288.7,1211.0 C1289.6,1212.8 1290.5,1214.5 1291.4,1216.3 C1292.3,1218.1 1293.2,1219.9 1294.1,1221.7 C1295.0,1223.5 1295.8,1225.3 1296.7,1227.1 C1297.6,1228.9 1298.5,1230.7 1299.4,1232.5 C1300.3,1234.2 1301.3,1236.0 1302.2,1237.8 C1303.2,1239.5 1304.1,1241.3 1305.1,1243.0 C1306.1,1244.8 1307.0,1246.5 1308.0,1248.3 C1309.0,1250.0 1310.0,1251.7 1311.0,1253.4 C1312.0,1255.2 1313.1,1256.9 1314.1,1258.6 C1315.1,1260.3 1316.2,1262.0 1317.2,1263.7 C1318.3,1265.4 1319.3,1267.1 1320.4,1268.8 C1321.4,1270.5 1322.5,1272.2 1323.5,1273.9 C1324.5,1275.7 1325.6,1277.4 1326.6,1279.1 C1327.7,1280.8 1328.7,1282.5 1329.8,1284.2 C1330.8,1285.9 1331.8,1287.6 1332.9,1289.3 C1333.9,1291.0 1335.0,1292.7 1336.0,1294.4 C1337.1,1296.1 1338.1,1297.8 1339.1,1299.6 C1340.2,1301.3 1341.2,1303.0 1342.3,1304.7 C1343.3,1306.4 1344.3,1308.1 1345.4,1309.8 C1346.5,1311.5 1347.5,1313.2 1348.6,1314.9 C1349.7,1316.5 1350.8,1318.2 1351.9,1319.8 C1353.1,1321.5 1354.2,1323.1 1355.4,1324.8 C1356.5,1326.4 1357.7,1328.0 1358.8,1329.7 C1359.9,1331.3 1361.1,1333.0 1362.2,1334.6 C1363.3,1336.3 1364.4,1338.0 1365.5,1339.6 C1366.6,1341.3 1367.7,1343.0 1368.8,1344.7 C1369.9,1346.3 1371.0,1348.0 1372.1,1349.7 C1373.2,1351.4 1374.3,1353.0 1375.4,1354.7 C1376.5,1356.4 1377.6,1358.0 1378.6,1359.7 C1379.7,1361.4 1380.8,1363.1 1381.9,1364.8 C1382.9,1366.5 1384.0,1368.2 1385.0,1369.9 C1386.0,1371.6 1387.1,1373.3 1388.1,1375.0 C1389.2,1376.7 1390.2,1378.4 1391.3,1380.1 C1392.4,1381.7 1393.6,1383.4 1394.7,1385.0 C1395.9,1386.7 1397.1,1388.3 1398.2,1389.9 C1399.4,1391.5 1400.6,1393.1 1401.7,1394.8 C1402.9,1396.4 1404.0,1398.0 1405.1,1399.7 C1406.2,1401.4 1407.3,1403.0 1408.4,1404.7 C1409.5,1406.4 1410.6,1408.1 1411.7,1409.7 C1412.9,1411.4 1414.0,1413.0 1415.1,1414.6 C1416.3,1416.3 1417.5,1417.9 1418.7,1419.5 C1419.9,1421.1 1421.1,1422.6 1422.4,1424.2 C1423.6,1425.8 1424.8,1427.4 1426.1,1428.9 C1427.3,1430.5 1428.5,1432.1 1429.8,1433.7 C1431.0,1435.2 1432.3,1436.8 1433.5,1438.4 C1434.7,1439.9 1436.0,1441.5 1437.2,1443.0 C1438.5,1444.6 1439.8,1446.2 1441.0,1447.7 C1442.3,1449.3 1443.6,1450.8 1444.8,1452.3 C1446.1,1453.9 1447.4,1455.4 1448.6,1457.0 C1449.9,1458.5 1451.1,1460.1 1452.3,1461.7 C1453.5,1463.3 1454.7,1464.9 1455.9,1466.5 C1457.0,1468.2 1458.2,1469.8 1459.4,1471.4 C1460.6,1473.0 1461.8,1474.6 1463.0,1476.1 C1464.2,1477.7 1465.4,1479.2 1466.6,1480.7 C1467.8,1482.2 1469.4,1484.3 1470.0,1485.0" stroke="#0000ff" stroke-width="6.5" stroke-dasharray="0.8 28.3" stroke-dashoffset="18.85" stroke-linecap="round"/>
<path d="M1662.0,1494.0 C1662.8,1493.4 1665.2,1491.6 1666.8,1490.4 C1668.4,1489.2 1670.0,1488.0 1671.6,1486.8 C1673.2,1485.6 1674.8,1484.4 1676.4,1483.2 C1678.0,1482.1 1679.6,1480.9 1681.4,1480.0 C1683.1,1479.0 1685.0,1478.3 1686.8,1477.7 C1688.7,1477.0 1690.6,1476.5 1692.6,1476.1 C1694.5,1475.6 1696.5,1475.3 1698.5,1475.1 C1700.4,1474.9 1702.4,1474.8 1704.4,1474.8 C1706.4,1474.7 1708.4,1474.7 1710.4,1474.8 C1712.4,1474.9 1714.4,1474.9 1716.4,1475.1 C1718.4,1475.3 1720.4,1475.6 1722.3,1476.0 C1724.2,1476.5 1726.2,1477.0 1728.1,1477.6 C1729.9,1478.3 1731.8,1479.0 1733.5,1479.9 C1735.2,1480.9 1736.8,1482.1 1738.4,1483.3 C1740.0,1484.5 1741.6,1485.8 1743.1,1487.0 C1744.7,1488.2 1746.3,1489.5 1747.7,1490.6 C1749.2,1491.8 1751.3,1493.4 1752.0,1494.0" stroke="#0000ff" stroke-width="6.5" stroke-dasharray="0.8 28.3" stroke-linecap="round"/>
<path d="M316.0,1458.8 C317.0,1459.0 319.9,1459.5 321.9,1459.9 C323.9,1460.3 325.8,1460.7 327.8,1461.0 C329.7,1461.4 331.7,1461.7 333.7,1462.0 C335.7,1462.3 337.7,1462.6 339.6,1462.8 C341.6,1463.1 343.6,1463.4 345.6,1463.6 C347.6,1463.9 349.5,1464.2 351.5,1464.4 C353.5,1464.7 355.5,1464.9 357.5,1465.2 C359.5,1465.4 361.4,1465.7 363.4,1465.9 C365.4,1466.2 367.4,1466.4 369.4,1466.7 C371.4,1466.9 373.4,1467.2 375.3,1467.4 C377.3,1467.7 379.3,1468.0 381.3,1468.2 C383.3,1468.5 385.3,1468.7 387.2,1469.0 C389.2,1469.2 391.2,1469.5 393.2,1469.8 C395.2,1470.0 397.2,1470.3 399.1,1470.5 C401.1,1470.8 403.1,1471.0 405.1,1471.3 C407.1,1471.6 408.9,1471.8 411.0,1472.1 C413.2,1472.3 415.8,1472.7 418.0,1472.9 C420.1,1473.2 422.0,1473.3 424.0,1473.6 C425.9,1473.8 427.9,1474.0 429.9,1474.2 C431.9,1474.4 433.9,1474.6 435.9,1474.8 C437.9,1475.1 439.9,1475.3 441.8,1475.5 C443.8,1475.7 445.8,1475.9 447.8,1476.1 C449.8,1476.4 451.8,1476.6 453.8,1476.8 C455.8,1477.0 457.8,1477.2 459.7,1477.3 C461.7,1477.5 463.7,1477.6 465.7,1477.7 C467.7,1477.8 469.7,1477.9 471.7,1478.0 C473.7,1478.1 475.7,1478.2 477.7,1478.3 C479.7,1478.4 481.7,1478.4 483.7,1478.5 C485.7,1478.6 487.7,1478.6 489.7,1478.7 C491.7,1478.7 493.7,1478.8 495.7,1478.8 C497.7,1478.8 499.7,1478.8 501.7,1478.8 C503.6,1478.7 505.6,1478.6 507.5,1478.5 C509.4,1478.4 511.5,1478.9 513.0,1478.0 C514.5,1477.1 515.3,1474.7 516.3,1473.0 C517.4,1471.3 518.4,1469.6 519.3,1467.9 C520.2,1466.1 521.0,1464.3 521.8,1462.4 C522.5,1460.6 523.3,1458.7 524.0,1456.9 C524.6,1455.0 525.3,1453.1 525.9,1451.2 C526.6,1449.3 527.1,1447.4 527.7,1445.5 C528.2,1443.6 528.7,1441.6 529.2,1439.7 C529.7,1437.7 530.2,1435.8 530.7,1433.9 C531.2,1431.9 531.7,1430.0 532.2,1428.1 C532.8,1426.2 533.4,1424.2 534.0,1422.3 C534.5,1420.4 535.2,1418.5 535.8,1416.6 C536.4,1414.7 537.0,1412.8 537.7,1410.9 C538.3,1409.0 538.9,1407.1 539.6,1405.2 C540.2,1403.3 540.8,1401.4 541.5,1399.5 C542.1,1397.6 542.7,1395.8 543.4,1393.9 C544.0,1392.0 544.6,1390.1 545.2,1388.2 C545.9,1386.3 546.5,1384.4 547.1,1382.4 C547.7,1380.5 548.3,1378.6 548.8,1376.7 C549.4,1374.8 550.0,1372.9 550.6,1371.0 C551.2,1369.1 551.8,1367.1 552.3,1365.2 C552.9,1363.3 553.5,1361.4 554.1,1359.5 C554.6,1357.6 555.2,1355.6 555.7,1353.7 C556.3,1351.8 556.9,1349.9 557.4,1348.0 C558.0,1346.0 558.6,1344.1 559.1,1342.2 C559.7,1340.3 560.2,1338.4 560.8,1336.4 C561.4,1334.5 561.9,1332.6 562.5,1330.7 C563.0,1328.8 563.6,1326.9 564.2,1324.9 C564.8,1323.0 565.4,1321.1 566.1,1319.2 C566.7,1317.3 567.4,1315.5 568.0,1313.6 C568.7,1311.7 569.4,1309.8 570.1,1307.9 C570.7,1306.1 571.4,1304.2 572.1,1302.3 C572.7,1300.4 573.4,1298.5 574.0,1296.6 C574.7,1294.7 575.3,1292.8 575.9,1290.9 C576.6,1289.0 577.2,1287.1 577.9,1285.2 C578.5,1283.4 579.2,1281.5 579.9,1279.6 C580.6,1277.7 581.4,1275.9 582.1,1274.0 C582.9,1272.2 583.7,1270.3 584.4,1268.5 C585.2,1266.6 586.0,1264.8 586.7,1262.9 C587.5,1261.1 588.2,1259.2 588.9,1257.4 C589.7,1255.5 590.4,1253.6 591.1,1251.8 C591.8,1249.9 592.5,1248.0 593.2,1246.2 C594.0,1244.3 594.7,1242.5 595.5,1240.6 C596.3,1238.8 597.2,1237.0 598.1,1235.2 C599.0,1233.4 599.9,1231.7 600.9,1229.9 C601.8,1228.2 602.8,1226.4 603.8,1224.7 C604.8,1222.9 605.8,1221.2 606.8,1219.5 C607.8,1217.7 608.8,1216.0 609.8,1214.3 C610.9,1212.6 611.9,1210.9 613.0,1209.2 C614.0,1207.5 615.1,1205.8 616.2,1204.1 C617.3,1202.5 618.4,1200.8 619.5,1199.2 C620.7,1197.5 621.8,1195.9 623.0,1194.3 C624.2,1192.7 625.4,1191.1 626.7,1189.6 C627.9,1188.0 629.3,1186.5 630.6,1185.0 C632.0,1183.6 633.3,1182.1 634.7,1180.7 C636.2,1179.4 637.6,1178.0 639.2,1176.9 C640.8,1175.7 642.5,1174.7 644.2,1173.8 C645.9,1172.9 647.8,1172.2 649.6,1171.5 C651.5,1170.8 653.3,1170.2 655.2,1169.8 C657.1,1169.4 659.0,1169.2 660.8,1169.3 C662.7,1169.4 664.6,1169.9 666.4,1170.4 C668.3,1171.0 670.1,1171.7 671.9,1172.5 C673.7,1173.3 675.5,1174.2 677.2,1175.2 C678.9,1176.2 680.5,1177.4 682.0,1178.6 C683.6,1179.8 685.1,1181.2 686.6,1182.5 C688.0,1183.8 689.5,1185.2 690.8,1186.7 C692.2,1188.1 693.5,1189.6 694.7,1191.2 C696.0,1192.8 697.1,1194.4 698.3,1196.0 C699.5,1197.6 700.6,1199.2 701.8,1200.9 C702.9,1202.5 704.0,1204.2 705.0,1205.9 C706.0,1207.6 707.0,1209.4 707.9,1211.1 C708.8,1212.9 709.7,1214.7 710.6,1216.5 C711.5,1218.3 712.3,1220.1 713.2,1221.9 C714.0,1223.7 714.8,1225.6 715.6,1227.4 C716.4,1229.2 717.1,1231.1 717.9,1232.9 C718.6,1234.8 719.3,1236.7 720.1,1238.5 C720.8,1240.4 721.6,1242.2 722.3,1244.1 C723.1,1245.9 723.9,1247.8 724.7,1249.6 C725.4,1251.5 726.2,1253.3 727.0,1255.1 C727.8,1257.0 728.6,1258.8 729.3,1260.7 C730.1,1262.5 730.8,1264.4 731.5,1266.3 C732.1,1268.1 732.7,1270.0 733.3,1271.9 C733.9,1273.9 734.5,1275.8 735.0,1277.7 C735.6,1279.6 736.1,1281.5 736.7,1283.5 C737.3,1285.4 737.9,1287.3 738.5,1289.2 C739.1,1291.1 739.7,1293.0 740.3,1294.9 C740.9,1296.8 741.6,1298.7 742.2,1300.6 C742.8,1302.5 743.5,1304.4 744.2,1306.3 C744.8,1308.1 745.5,1310.0 746.2,1311.9 C746.9,1313.8 747.7,1315.6 748.4,1317.5 C749.2,1319.3 749.9,1321.2 750.7,1323.0 C751.4,1324.9 752.2,1326.7 752.9,1328.6 C753.7,1330.4 754.5,1332.3 755.3,1334.1 C756.1,1335.9 756.9,1337.8 757.7,1339.6 C758.5,1341.4 759.4,1343.2 760.2,1345.0 C761.1,1346.8 762.0,1348.6 762.9,1350.4 C763.8,1352.2 764.8,1353.9 765.8,1355.6 C766.8,1357.4 767.8,1359.1 768.9,1360.8 C770.0,1362.5 771.0,1364.1 772.2,1365.8 C773.3,1367.4 774.5,1369.0 775.8,1370.6 C777.0,1372.1 778.3,1373.7 779.6,1375.2 C780.9,1376.7 782.2,1378.2 783.6,1379.6 C785.0,1380.9 786.5,1382.2 788.1,1383.4 C789.7,1384.5 791.4,1385.6 793.1,1386.5 C794.8,1387.5 796.6,1388.4 798.4,1389.1 C800.1,1389.7 802.0,1390.2 803.8,1390.4 C805.7,1390.5 807.6,1390.3 809.5,1390.0 C811.3,1389.7 813.3,1389.2 815.1,1388.6 C816.9,1387.9 818.7,1387.2 820.4,1386.2 C822.1,1385.2 823.6,1384.0 825.1,1382.8 C826.6,1381.5 828.0,1380.1 829.4,1378.7 C830.8,1377.3 832.2,1375.8 833.5,1374.3 C834.8,1372.8 836.1,1371.3 837.2,1369.7 C838.4,1368.1 839.4,1366.4 840.5,1364.7 C841.5,1363.0 842.5,1361.2 843.5,1359.5 C844.5,1357.8 845.5,1356.0 846.4,1354.3 C847.3,1352.5 848.2,1350.7 849.0,1348.9 C849.9,1347.1 850.7,1345.3 851.5,1343.4 C852.3,1341.6 853.1,1339.8 853.9,1337.9 C854.7,1336.1 855.4,1334.2 856.2,1332.4 C856.9,1330.5 857.6,1328.7 858.3,1326.8 C859.0,1324.9 859.7,1323.0 860.4,1321.1 C861.1,1319.3 861.7,1317.4 862.4,1315.5 C863.0,1313.6 863.6,1311.7 864.2,1309.8 C864.8,1307.9 865.3,1305.9 865.8,1304.0 C866.3,1302.1 866.8,1300.1 867.3,1298.2 C867.8,1296.3 868.3,1294.3 868.8,1292.4 C869.4,1290.5 869.9,1288.5 870.5,1286.6 C871.0,1284.7 871.6,1282.8 872.2,1280.9 C872.8,1279.0 873.4,1277.1 874.0,1275.2 C874.6,1273.3 875.2,1271.4 875.8,1269.4 C876.3,1267.5 876.9,1265.6 877.4,1263.6 C877.9,1261.7 878.3,1259.8 878.8,1257.8 C879.2,1255.9 879.7,1253.9 880.2,1252.0 C880.6,1250.0 881.1,1248.1 881.5,1246.1 C881.9,1244.2 882.4,1242.2 882.8,1240.3 C883.2,1238.3 883.7,1236.4 884.1,1234.4 C884.5,1232.5 884.9,1230.5 885.4,1228.6 C885.8,1226.6 886.2,1224.6 886.7,1222.7 C887.1,1220.8 887.6,1218.8 888.0,1216.9 C888.5,1214.9 889.0,1213.0 889.5,1211.0 C890.0,1209.1 890.4,1207.2 890.9,1205.2 C891.4,1203.3 891.8,1201.3 892.3,1199.4 C892.7,1197.4 893.1,1195.5 893.5,1193.5 C893.9,1191.5 894.3,1189.6 894.7,1187.6 C895.1,1185.7 895.5,1183.7 895.9,1181.7 C896.2,1179.8 896.6,1177.8 897.0,1175.8 C897.3,1173.9 897.6,1171.9 898.0,1169.9 C898.3,1168.0 898.7,1166.0 899.0,1164.0 C899.3,1162.0 899.6,1160.1 900.0,1158.1 C900.3,1156.1 900.6,1154.1 900.9,1152.2 C901.2,1150.2 901.5,1148.2 901.8,1146.2 C902.2,1144.3 902.5,1142.3 902.8,1140.3 C903.1,1138.3 903.4,1136.4 903.7,1134.4 C904.0,1132.4 904.4,1130.4 904.7,1128.5 C905.0,1126.5 905.3,1124.5 905.7,1122.5 C906.0,1120.6 906.3,1118.6 906.6,1116.6 C907.0,1114.7 907.3,1112.7 907.6,1110.7 C908.0,1108.7 908.3,1106.8 908.7,1104.8 C909.0,1102.8 909.3,1100.9 909.7,1098.9 C910.0,1096.9 910.4,1094.9 910.7,1093.0 C911.0,1091.0 911.3,1089.0 911.6,1087.0 C911.9,1085.1 912.2,1083.1 912.5,1081.1 C912.8,1079.1 913.1,1077.2 913.4,1075.2 C913.7,1073.2 914.0,1071.2 914.3,1069.2 C914.5,1067.3 914.8,1065.3 915.1,1063.3 C915.3,1061.3 915.5,1059.3 915.8,1057.3 C916.0,1055.4 916.3,1053.4 916.5,1051.4 C916.8,1049.4 917.1,1047.4 917.4,1045.4 C917.6,1043.5 918.0,1041.5 918.3,1039.5 C918.6,1037.5 919.0,1035.6 919.3,1033.6 C919.6,1031.6 920.0,1029.7 920.3,1027.7 C920.6,1025.7 920.9,1023.7 921.2,1021.8 C921.5,1019.8 921.8,1017.8 922.1,1015.8 C922.4,1013.8 922.7,1011.9 923.0,1009.9 C923.2,1007.9 923.5,1005.9 923.8,1003.9 C924.1,1002.0 924.3,1000.0 924.6,998.0 C924.9,996.0 925.1,994.0 925.4,992.1 C925.7,990.1 925.9,988.1 926.2,986.1 C926.5,984.1 926.7,982.1 927.0,980.2 C927.3,978.2 927.5,976.2 927.8,974.2 C928.1,972.2 928.3,970.2 928.6,968.3 C928.9,966.3 929.1,964.3 929.4,962.3 C929.7,960.3 930.0,958.4 930.2,956.4 C930.5,954.4 930.8,952.4 931.1,950.4 C931.3,948.5 931.6,946.5 931.9,944.5 C932.2,942.5 932.4,940.5 932.7,938.6 C933.0,936.6 933.4,934.6 933.7,932.6 C934.0,930.7 934.4,928.7 934.7,926.7 C935.0,924.7 935.4,922.8 935.7,920.8 C936.0,918.8 936.4,916.9 936.7,914.9 C937.0,912.9 937.3,910.9 937.6,909.0 C937.9,907.0 938.2,905.0 938.5,903.0 C938.8,901.0 939.1,899.1 939.4,897.1 C939.7,895.1 940.0,893.1 940.3,891.2 C940.6,889.2 940.9,887.2 941.2,885.2 C941.5,883.3 941.8,881.3 942.1,879.3 C942.4,877.3 942.7,875.3 943.0,873.4 C943.3,871.4 943.6,869.4 943.8,867.4 C944.1,865.4 944.4,863.5 944.7,861.5 C944.9,859.5 945.2,857.5 945.5,855.5 C945.8,853.6 946.1,851.6 946.4,849.6 C946.7,847.6 947.0,845.7 947.3,843.7 C947.7,841.7 948.0,839.7 948.3,837.8 C948.7,835.8 949.0,833.8 949.3,831.8 C949.7,829.9 950.0,827.9 950.3,825.9 C950.7,824.0 951.0,822.0 951.3,820.0 C951.6,818.0 952.0,816.1 952.3,814.1 C952.6,812.1 952.9,810.1 953.2,808.2 C953.6,806.2 953.9,804.2 954.2,802.2 C954.5,800.3 954.9,798.3 955.2,796.3 C955.5,794.4 955.9,792.4 956.2,790.4 C956.5,788.4 956.8,786.5 957.1,784.5 C957.4,782.5 957.7,780.5 958.0,778.6 C958.4,776.6 958.6,774.6 959.0,772.6 C959.3,770.6 959.6,768.7 959.9,766.7 C960.2,764.7 960.5,762.7 960.8,760.8 C961.1,758.8 961.5,756.8 961.8,754.8 C962.1,752.9 962.4,750.9 962.8,748.9 C963.1,747.0 963.4,745.0 963.8,743.0 C964.1,741.0 964.5,739.1 964.8,737.1 C965.2,735.1 965.5,733.2 965.9,731.2 C966.2,729.2 966.6,727.3 966.9,725.3 C967.3,723.3 967.7,721.4 968.0,719.4 C968.4,717.4 968.8,715.5 969.1,713.5 C969.5,711.5 969.9,709.6 970.3,707.6 C970.6,705.6 971.0,703.7 971.4,701.7 C971.8,699.8 972.2,697.8 972.5,695.8 C972.9,693.9 973.3,691.9 973.7,689.9 C974.1,688.0 974.4,686.0 974.8,684.0 C975.2,682.1 975.6,680.1 975.9,678.1 C976.3,676.2 976.6,674.2 977.0,672.2 C977.3,670.3 977.7,668.3 978.0,666.3 C978.3,664.4 978.7,662.4 979.0,660.4 C979.4,658.4 979.7,656.5 980.1,654.5 C980.5,652.6 980.9,650.6 981.3,648.6 C981.7,646.7 982.1,644.7 982.5,642.8 C982.9,640.8 983.3,638.8 983.7,636.9 C984.1,634.9 984.5,633.0 984.9,631.0 C985.2,629.0 985.6,627.1 985.9,625.1 C986.3,623.1 986.6,621.2 987.0,619.2 C987.3,617.2 987.7,615.2 988.0,613.3 C988.4,611.3 988.7,609.3 989.1,607.4 C989.4,605.4 989.8,603.4 990.1,601.5 C990.5,599.5 990.8,597.5 991.2,595.6 C991.6,593.6 991.9,591.6 992.3,589.7 C992.7,587.7 993.1,585.7 993.5,583.8 C993.9,581.8 994.3,579.9 994.7,577.9 C995.1,575.9 995.5,574.0 995.9,572.0 C996.3,570.1 996.7,568.1 997.1,566.1 C997.5,564.2 997.9,562.2 998.3,560.3 C998.7,558.3 999.1,556.3 999.5,554.4 C999.9,552.4 1000.3,550.5 1000.8,548.5 C1001.2,546.6 1001.6,544.6 1002.1,542.7 C1002.5,540.7 1003.0,538.8 1003.5,536.8 C1003.9,534.9 1004.4,532.9 1004.9,531.0 C1005.4,529.1 1005.8,527.1 1006.3,525.2 C1006.8,523.2 1007.3,521.3 1007.7,519.3 C1008.2,517.4 1008.7,515.5 1009.2,513.5 C1009.6,511.6 1010.1,509.6 1010.6,507.7 C1011.0,505.7 1011.5,503.8 1011.9,501.8 C1012.4,499.9 1012.8,497.9 1013.2,496.0 C1013.6,494.0 1014.0,492.1 1014.5,490.1 C1014.9,488.2 1015.3,486.2 1015.8,484.3 C1016.3,482.3 1016.8,480.4 1017.3,478.5 C1017.8,476.5 1018.4,474.6 1019.0,472.7 C1019.5,470.8 1020.1,468.9 1020.7,467.0 C1021.3,465.0 1021.9,463.1 1022.4,461.2 C1023.0,459.3 1023.6,457.4 1024.2,455.5 C1024.8,453.6 1025.3,451.6 1025.9,449.7 C1026.5,447.8 1027.1,445.9 1027.7,444.0 C1028.4,442.1 1029.0,440.2 1029.7,438.4 C1030.4,436.5 1031.1,434.6 1031.8,432.8 C1032.6,430.9 1033.3,429.0 1034.1,427.2 C1034.9,425.4 1035.7,423.5 1036.6,421.8 C1037.5,420.0 1038.4,418.2 1039.4,416.5 C1040.5,414.8 1041.6,413.2 1042.7,411.5 C1043.8,409.9 1045.0,408.3 1046.2,406.7 C1047.5,405.2 1048.7,403.6 1050.1,402.3 C1051.5,401.0 1053.0,399.7 1054.6,398.8 C1056.2,398.0 1057.9,397.3 1059.6,397.1 C1061.3,397.0 1063.1,397.3 1064.7,397.9 C1066.4,398.6 1068.0,399.7 1069.5,400.9 C1070.9,402.0 1072.3,403.5 1073.7,404.9 C1075.0,406.4 1076.3,407.9 1077.6,409.5 C1078.8,411.0 1080.1,412.6 1081.3,414.2 C1082.5,415.8 1083.6,417.4 1084.7,419.1 C1085.8,420.7 1086.8,422.5 1087.8,424.2 C1088.8,425.9 1089.8,427.6 1090.8,429.4 C1091.8,431.1 1092.7,432.9 1093.6,434.7 C1094.5,436.4 1095.4,438.2 1096.2,440.1 C1097.0,441.9 1097.8,443.7 1098.6,445.5 C1099.4,447.4 1100.2,449.2 1101.0,451.0 C1101.8,452.9 1102.6,454.7 1103.4,456.6 C1104.2,458.4 1105.0,460.2 1105.7,462.1 C1106.5,463.9 1107.3,465.8 1108.1,467.6 C1108.8,469.5 1109.6,471.3 1110.3,473.2 C1111.0,475.0 1111.7,476.9 1112.4,478.8 C1113.1,480.7 1113.7,482.6 1114.4,484.5 C1115.0,486.4 1115.6,488.3 1116.3,490.2 C1116.9,492.1 1117.5,494.0 1118.0,495.9 C1118.6,497.8 1119.2,499.7 1119.7,501.6 C1120.3,503.6 1120.8,505.5 1121.3,507.4 C1121.9,509.3 1122.4,511.3 1123.0,513.2 C1123.5,515.1 1124.1,517.0 1124.6,518.9 C1125.2,520.9 1125.8,522.8 1126.4,524.7 C1127.0,526.6 1127.6,528.5 1128.2,530.4 C1128.8,532.3 1129.4,534.2 1130.0,536.1 C1130.6,538.0 1131.1,540.0 1131.6,541.9 C1132.1,543.8 1132.6,545.8 1133.1,547.7 C1133.6,549.7 1134.1,551.6 1134.5,553.5 C1135.0,555.5 1135.4,557.4 1135.9,559.4 C1136.3,561.3 1136.8,563.3 1137.2,565.2 C1137.6,567.2 1138.0,569.1 1138.5,571.1 C1138.9,573.1 1139.3,575.0 1139.7,577.0 C1140.2,578.9 1140.6,580.9 1141.1,582.8 C1141.5,584.8 1142.0,586.7 1142.4,588.7 C1142.9,590.6 1143.4,592.5 1143.8,594.5 C1144.3,596.4 1144.8,598.4 1145.2,600.3 C1145.7,602.3 1146.1,604.2 1146.5,606.2 C1147.0,608.1 1147.4,610.1 1147.8,612.1 C1148.2,614.0 1148.6,616.0 1149.0,617.9 C1149.4,619.9 1149.8,621.9 1150.2,623.8 C1150.5,625.8 1150.9,627.7 1151.3,629.7 C1151.6,631.7 1152.0,633.6 1152.4,635.6 C1152.7,637.6 1153.1,639.5 1153.4,641.5 C1153.8,643.5 1154.1,645.5 1154.5,647.4 C1154.8,649.4 1155.2,651.4 1155.5,653.3 C1155.8,655.3 1156.2,657.3 1156.5,659.2 C1156.9,661.2 1157.2,663.2 1157.6,665.2 C1157.9,667.1 1158.3,669.1 1158.6,671.1 C1159.0,673.0 1159.4,675.0 1159.7,677.0 C1160.1,678.9 1160.5,680.9 1160.8,682.9 C1161.2,684.8 1161.5,686.8 1161.9,688.8 C1162.2,690.7 1162.6,692.7 1162.9,694.7 C1163.3,696.6 1163.6,698.6 1164.0,700.6 C1164.3,702.5 1164.7,704.5 1165.0,706.5 C1165.4,708.5 1165.7,710.4 1166.1,712.4 C1166.4,714.4 1166.7,716.3 1167.1,718.3 C1167.4,720.3 1167.8,722.2 1168.1,724.2 C1168.5,726.2 1168.8,728.2 1169.1,730.1 C1169.5,732.1 1169.8,734.1 1170.2,736.0 C1170.5,738.0 1170.9,740.0 1171.2,742.0 C1171.5,743.9 1171.9,745.9 1172.2,747.9 C1172.6,749.8 1172.9,751.8 1173.2,753.8 C1173.5,755.8 1173.9,757.7 1174.2,759.7 C1174.5,761.7 1174.8,763.7 1175.1,765.6 C1175.4,767.6 1175.7,769.6 1176.0,771.6 C1176.3,773.5 1176.6,775.5 1177.0,777.5 C1177.3,779.5 1177.6,781.4 1177.9,783.4 C1178.2,785.4 1178.5,787.4 1178.8,789.3 C1179.1,791.3 1179.4,793.3 1179.7,795.3 C1180.1,797.2 1180.4,799.2 1180.7,801.2 C1181.0,803.2 1181.4,805.1 1181.7,807.1 C1182.1,809.1 1182.4,811.0 1182.8,813.0 C1183.1,815.0 1183.5,817.0 1183.8,818.9 C1184.1,820.9 1184.5,822.9 1184.8,824.8 C1185.2,826.8 1185.5,828.8 1185.8,830.7 C1186.2,832.7 1186.5,834.7 1186.9,836.7 C1187.2,838.6 1187.5,840.6 1187.8,842.6 C1188.2,844.6 1188.5,846.5 1188.8,848.5 C1189.1,850.5 1189.4,852.5 1189.7,854.4 C1190.0,856.4 1190.3,858.4 1190.6,860.4 C1190.9,862.3 1191.3,864.3 1191.6,866.3 C1192.0,868.2 1192.4,870.2 1192.7,872.2 C1193.1,874.1 1193.5,876.1 1193.8,878.1 C1194.2,880.0 1194.6,882.0 1195.0,884.0 C1195.3,885.9 1195.7,887.9 1196.0,889.9 C1196.4,891.8 1196.8,893.8 1197.1,895.8 C1197.5,897.7 1197.8,899.7 1198.2,901.7 C1198.5,903.6 1198.9,905.6 1199.2,907.6 C1199.5,909.6 1199.9,911.5 1200.2,913.5 C1200.5,915.5 1200.9,917.4 1201.2,919.4 C1201.5,921.4 1201.9,923.4 1202.2,925.3 C1202.6,927.3 1202.9,929.3 1203.3,931.2 C1203.7,933.2 1204.1,935.2 1204.5,937.1 C1204.9,939.1 1205.3,941.0 1205.7,943.0 C1206.1,944.9 1206.5,946.9 1206.9,948.9 C1207.3,950.8 1207.7,952.8 1208.2,954.7 C1208.6,956.7 1209.0,958.6 1209.4,960.6 C1209.8,962.6 1210.2,964.5 1210.6,966.5 C1211.0,968.4 1211.4,970.4 1211.8,972.4 C1212.1,974.3 1212.5,976.3 1212.8,978.3 C1213.1,980.2 1213.4,982.2 1213.8,984.2 C1214.1,986.2 1214.4,988.1 1214.8,990.1 C1215.1,992.1 1215.5,994.0 1215.9,996.0 C1216.3,998.0 1216.7,999.9 1217.2,1001.9 C1217.6,1003.8 1218.1,1005.8 1218.5,1007.7 C1219.0,1009.6 1219.4,1011.6 1219.9,1013.5 C1220.4,1015.5 1220.9,1017.4 1221.4,1019.4 C1221.9,1021.3 1222.4,1023.2 1222.9,1025.2 C1223.4,1027.1 1223.9,1029.0 1224.4,1031.0 C1224.9,1032.9 1225.4,1034.9 1225.8,1036.8 C1226.3,1038.7 1226.8,1040.7 1227.3,1042.6 C1227.8,1044.5 1228.3,1046.5 1228.8,1048.4 C1229.2,1050.4 1229.7,1052.3 1230.2,1054.3 C1230.7,1056.2 1231.2,1058.1 1231.7,1060.1 C1232.2,1062.0 1232.7,1063.9 1233.2,1065.9 C1233.7,1067.8 1234.3,1069.7 1234.8,1071.7 C1235.3,1073.6 1235.8,1075.5 1236.3,1077.5 C1236.8,1079.4 1237.4,1081.3 1237.9,1083.3 C1238.4,1085.2 1238.9,1087.1 1239.4,1089.1 C1240.0,1091.0 1240.5,1092.9 1241.0,1094.8 C1241.5,1096.8 1242.1,1098.7 1242.6,1100.6 C1243.1,1102.5 1243.7,1104.5 1244.3,1106.4 C1244.8,1108.3 1245.4,1110.2 1246.0,1112.1 C1246.5,1114.1 1247.1,1116.0 1247.8,1117.9 C1248.4,1119.8 1249.0,1121.7 1249.7,1123.5 C1250.4,1125.4 1251.1,1127.3 1251.8,1129.1 C1252.6,1131.0 1253.3,1132.8 1254.1,1134.7 C1254.8,1136.6 1255.5,1138.4 1256.2,1140.3 C1256.9,1142.2 1257.6,1144.1 1258.2,1146.0 C1258.9,1147.8 1259.5,1149.7 1260.2,1151.6 C1260.8,1153.5 1261.5,1155.4 1262.2,1157.3 C1262.8,1159.2 1263.5,1161.1 1264.2,1162.9 C1264.9,1164.8 1265.6,1166.7 1266.3,1168.5 C1267.0,1170.4 1267.8,1172.3 1268.5,1174.1 C1269.2,1176.0 1270.0,1177.9 1270.7,1179.7 C1271.5,1181.6 1272.2,1183.4 1273.0,1185.3 C1273.7,1187.1 1274.5,1189.0 1275.2,1190.8 C1276.0,1192.7 1276.8,1194.5 1277.6,1196.3 C1278.4,1198.2 1279.2,1200.0 1280.1,1201.8 C1280.9,1203.6 1281.8,1205.4 1282.8,1207.1 C1283.7,1208.9 1284.7,1210.7 1285.6,1212.4 C1286.6,1214.2 1287.6,1215.9 1288.5,1217.7 C1289.4,1219.4 1290.4,1221.2 1291.3,1223.0 C1292.2,1224.8 1293.1,1226.6 1293.9,1228.4 C1294.8,1230.2 1295.7,1232.0 1296.6,1233.8 C1297.5,1235.6 1298.3,1237.4 1299.2,1239.1 C1300.2,1240.9 1301.1,1242.7 1302.0,1244.4 C1303.0,1246.2 1303.9,1248.0 1304.9,1249.7 C1305.9,1251.5 1306.9,1253.2 1307.9,1254.9 C1308.8,1256.7 1309.8,1258.4 1310.8,1260.1 C1311.9,1261.9 1312.9,1263.6 1313.9,1265.3 C1315.0,1267.0 1316.0,1268.7 1317.0,1270.4 C1318.1,1272.1 1319.1,1273.8 1320.2,1275.5 C1321.2,1277.2 1322.3,1278.9 1323.3,1280.6 C1324.4,1282.3 1325.4,1284.1 1326.4,1285.8 C1327.5,1287.5 1328.5,1289.2 1329.6,1290.9 C1330.6,1292.6 1331.7,1294.3 1332.7,1296.0 C1333.7,1297.7 1334.8,1299.4 1335.8,1301.1 C1336.9,1302.8 1337.9,1304.5 1338.9,1306.2 C1340.0,1308.0 1341.0,1309.7 1342.1,1311.4 C1343.1,1313.1 1344.1,1314.8 1345.2,1316.5 C1346.3,1318.2 1347.3,1319.9 1348.4,1321.6 C1349.5,1323.2 1350.6,1324.9 1351.7,1326.5 C1352.9,1328.2 1354.0,1329.8 1355.2,1331.5 C1356.3,1333.1 1357.5,1334.7 1358.6,1336.4 C1359.7,1338.0 1360.9,1339.7 1362.0,1341.3 C1363.1,1343.0 1364.2,1344.7 1365.3,1346.3 C1366.4,1348.0 1367.5,1349.7 1368.6,1351.4 C1369.7,1353.0 1370.8,1354.7 1371.9,1356.4 C1373.0,1358.1 1374.1,1359.7 1375.2,1361.4 C1376.3,1363.1 1377.4,1364.7 1378.4,1366.4 C1379.5,1368.1 1380.6,1369.8 1381.7,1371.5 C1382.7,1373.2 1383.8,1374.9 1384.8,1376.6 C1385.9,1378.3 1386.9,1380.0 1387.9,1381.7 C1389.0,1383.4 1390.0,1385.1 1391.1,1386.8 C1392.2,1388.4 1393.4,1390.1 1394.5,1391.7 C1395.7,1393.4 1396.8,1395.0 1398.0,1396.6 C1399.2,1398.2 1400.4,1399.8 1401.5,1401.5 C1402.7,1403.1 1403.8,1404.7 1404.9,1406.4 C1406.0,1408.1 1407.1,1409.7 1408.2,1411.4 C1409.3,1413.1 1410.4,1414.8 1411.5,1416.4 C1412.7,1418.1 1413.8,1419.7 1414.9,1421.4 C1416.1,1423.0 1417.3,1424.6 1418.5,1426.2 C1419.7,1427.8 1420.9,1429.4 1422.1,1430.9 C1423.4,1432.5 1424.6,1434.1 1425.8,1435.7 C1427.1,1437.2 1428.3,1438.8 1429.5,1440.4 C1430.8,1441.9 1432.0,1443.5 1433.3,1445.1 C1434.5,1446.6 1435.8,1448.2 1437.0,1449.8 C1438.3,1451.3 1439.5,1452.9 1440.8,1454.4 C1442.1,1456.0 1443.3,1457.5 1444.6,1459.1 C1445.9,1460.6 1447.2,1462.1 1448.4,1463.7 C1449.7,1465.3 1450.9,1466.8 1452.1,1468.4 C1453.3,1470.0 1454.5,1471.6 1455.7,1473.2 C1456.8,1474.9 1458.0,1476.5 1459.2,1478.1 C1460.4,1479.7 1461.6,1481.3 1462.8,1482.8 C1464.0,1484.4 1465.2,1486.0 1466.4,1487.5 C1467.6,1489.0 1469.4,1491.2 1470.0,1492.0" stroke="#ff00ff" stroke-width="5.5" stroke-dasharray="6.8 15.2" stroke-dashoffset="11.85" stroke-linecap="round"/>
</g>
<path d="M416.45,1474.25V1462.00M515.39,1474.25V1449.00M614.34,1474.25V1462.00M713.28,1474.25V1449.00M812.23,1474.25V1462.00M911.17,1474.25V1449.00M1010.12,1474.25V1462.00M1109.06,1474.25V1449.00M1208.01,1474.25V1462.00M1306.94,1474.25V1449.00M1405.89,1474.25V1462.00M1504.83,1474.25V1449.00M1603.78,1474.25V1462.00M1702.72,1474.25V1449.00M1801.67,1474.25V1462.00M1900.61,1474.25V1449.00M1999.56,1474.25V1462.00M320.25,1317.25H331.50M320.25,1157.44H345.50M320.25,997.69H331.50M320.25,837.89H345.50M320.25,678.14H331.50M320.25,518.33H345.50M320.25,358.58H331.50M320.25,198.78H345.50" stroke="#000" stroke-width="5.8" fill="none"/>
<rect x="317.5" y="39.0" width="1781.0" height="1438.0" fill="none" stroke="#000" stroke-width="5.6"/>
<g font-family='"Liberation Serif", "Times New Roman", serif' font-size="77" fill="#000">
<text x="316.0" y="1559.3" text-anchor="middle">1.60</text>
<text x="513.9" y="1559.3" text-anchor="middle">1.65</text>
<text x="711.8" y="1559.3" text-anchor="middle">1.70</text>
<text x="909.7" y="1559.3" text-anchor="middle">1.75</text>
<text x="1107.6" y="1559.3" text-anchor="middle">1.80</text>
<text x="1305.4" y="1559.3" text-anchor="middle">1.85</text>
<text x="1503.3" y="1559.3" text-anchor="middle">1.90</text>
<text x="1701.2" y="1559.3" text-anchor="middle">1.95</text>
<text x="1899.1" y="1559.3" text-anchor="middle">2.00</text>
<text x="2097.0" y="1559.3" text-anchor="middle">2.05</text>
<text x="286.3" y="1493.0" text-anchor="end">0.6</text>
<text x="286.3" y="1173.4" text-anchor="end">0.8</text>
<text x="286.3" y="853.9" text-anchor="end">1.0</text>
<text x="286.3" y="534.3" text-anchor="end">1.2</text>
<text x="286.3" y="214.8" text-anchor="end">1.4</text>
</g>
<text x="1205.5" y="1726.8" text-anchor="middle" font-family='"Liberation Serif", "Times New Roman", serif' font-size="87" textLength="395.3" lengthAdjust="spacingAndGlyphs">Height (m)</text>
<text transform="translate(155.2,757.8) rotate(-90)" x="0" y="0" text-anchor="middle" font-family='"Liberation Serif", "Times New Roman", serif' font-size="87" textLength="503.1" lengthAdjust="spacingAndGlyphs">Velocity (m/s)</text>
<rect x="1548" y="97" width="501" height="563.4" fill="#fff" stroke="#000" stroke-width="2.2"/>
<path d="M1558.8,156.8H1758.3" stroke="#ff00ff" stroke-width="5.5" stroke-dasharray="6.8 15.2" stroke-linecap="round"/>
<path d="M1558.85,267.9H1757" stroke="#0000ff" stroke-width="6.3" stroke-dasharray="3 26.25" stroke-linecap="round"/>
<path d="M1558.7,378.2H1758.3" stroke="#00ffff" stroke-width="5.3" stroke-dasharray="20.3 28.2" stroke-linecap="round"/>
<path d="M1558.7,489.0H1758.3" stroke="#ff0000" stroke-width="5.3" stroke-linecap="round"/>
<path d="M1558.6,599.4H1758.4" stroke="#000" stroke-width="5.2" stroke-dasharray="7.8 14.1" stroke-linecap="round"/>
<g font-family='"Liberation Serif", "Times New Roman", serif' font-size="77" fill="#000">
<text x="1774.8" y="184.7" textLength="265" lengthAdjust="spacingAndGlyphs">1754910</text>
<text x="1774.8" y="295.5" textLength="265" lengthAdjust="spacingAndGlyphs">2889432</text>
<text x="1774.8" y="406.3" textLength="265" lengthAdjust="spacingAndGlyphs">3849120</text>
<text x="1774.8" y="517.1" textLength="265" lengthAdjust="spacingAndGlyphs">4368125</text>
<text x="1774.8" y="627.9" textLength="265" lengthAdjust="spacingAndGlyphs">5706880</text>
</g>
</svg>
</body></html>
